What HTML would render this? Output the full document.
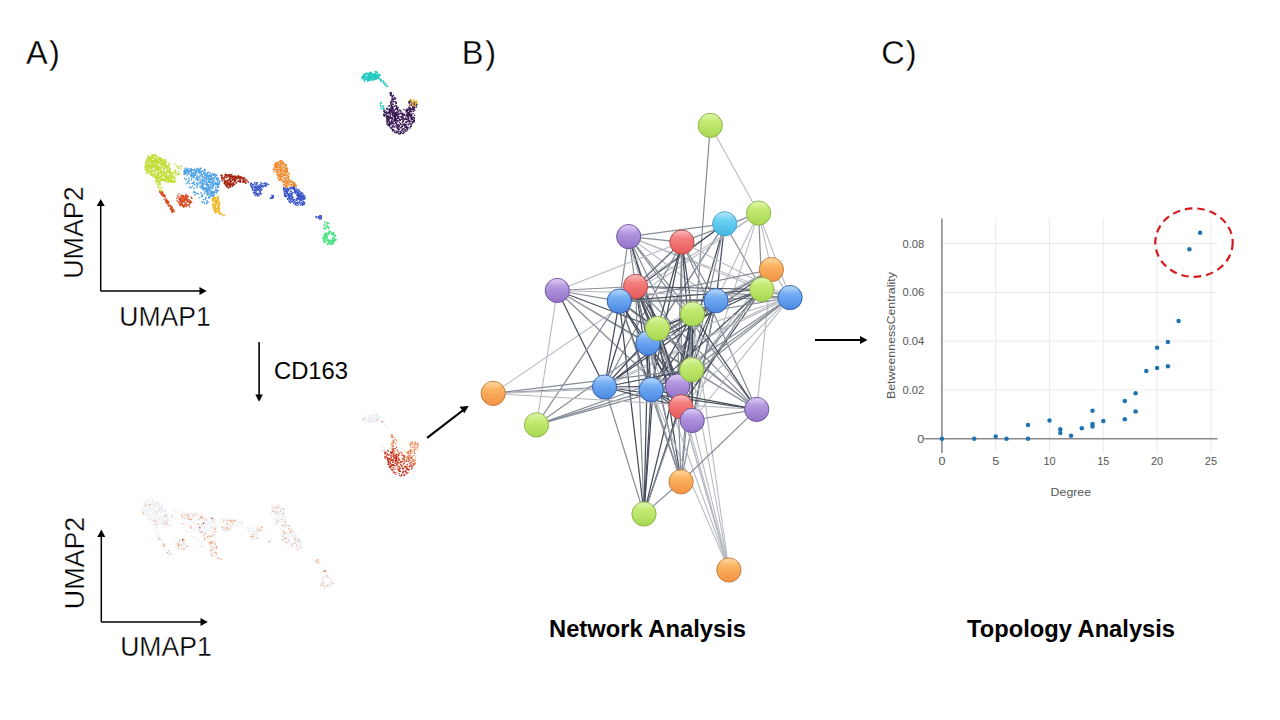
<!DOCTYPE html>
<html><head><meta charset="utf-8"><style>
html,body{margin:0;padding:0;background:#fff;width:1280px;height:720px;overflow:hidden}
svg{display:block}
text{font-family:"Liberation Sans", sans-serif}
</style></head><body>
<svg width="1280" height="720" viewBox="0 0 1280 720">
<defs><linearGradient id="gG" x1="0" y1="0" x2="0" y2="1"><stop offset="0" stop-color="#d0f286"/><stop offset="0.5" stop-color="#bde66a"/><stop offset="1" stop-color="#a8d852"/></linearGradient><linearGradient id="gC" x1="0" y1="0" x2="0" y2="1"><stop offset="0" stop-color="#8ee0f6"/><stop offset="0.5" stop-color="#60caee"/><stop offset="1" stop-color="#44b6e2"/></linearGradient><linearGradient id="gO" x1="0" y1="0" x2="0" y2="1"><stop offset="0" stop-color="#ffc878"/><stop offset="0.5" stop-color="#f9aa5a"/><stop offset="1" stop-color="#f39242"/></linearGradient><linearGradient id="gR" x1="0" y1="0" x2="0" y2="1"><stop offset="0" stop-color="#f99a9a"/><stop offset="0.5" stop-color="#f27474"/><stop offset="1" stop-color="#e85a5a"/></linearGradient><linearGradient id="gB" x1="0" y1="0" x2="0" y2="1"><stop offset="0" stop-color="#96c6f8"/><stop offset="0.5" stop-color="#6aa4f0"/><stop offset="1" stop-color="#4a88e0"/></linearGradient><linearGradient id="gP" x1="0" y1="0" x2="0" y2="1"><stop offset="0" stop-color="#ccb4ee"/><stop offset="0.5" stop-color="#ab8ed9"/><stop offset="1" stop-color="#9272c8"/></linearGradient><linearGradient id="hl" x1="0" y1="0" x2="0" y2="1"><stop offset="0" stop-color="#fff" stop-opacity="0.3"/><stop offset="1" stop-color="#fff" stop-opacity="0"/></linearGradient>
<filter id="soft" x="-5%" y="-5%" width="110%" height="110%"><feGaussianBlur stdDeviation="0.35"/></filter>
<filter id="soft2" x="-2%" y="-2%" width="104%" height="104%"><feGaussianBlur stdDeviation="0.45"/></filter>
<marker id="ah" viewBox="0 0 10 10" refX="9" refY="5" markerWidth="7" markerHeight="7" markerUnits="userSpaceOnUse" orient="auto"><path d="M0,0 L10,5 L0,10 z" fill="#000"/></marker>
</defs>
<rect width="1280" height="720" fill="#fff"/>
<text x="25.9" y="64" font-size="32.5" fill="#000" stroke="#fff" stroke-width="0.3">A<tspan dx="1.3">)</tspan></text>
<text x="461.8" y="64" font-size="32.5" fill="#000" stroke="#fff" stroke-width="0.3">B<tspan dx="1.8">)</tspan></text>
<text x="881.3" y="64" font-size="32.5" fill="#000" stroke="#fff" stroke-width="0.3">C<tspan dx="1">)</tspan></text>
<!-- UMAP axes top -->
<path d="M100.7,291.1 V205" stroke="#000" stroke-width="1.5" fill="none"/>
<path d="M96.7,206 L100.7,198.9 L104.7,206 z" fill="#000"/>
<path d="M100.7,291.1 H200" stroke="#000" stroke-width="1.5" fill="none"/>
<path d="M199.5,287.1 L206.7,291.1 L199.5,295.1 z" fill="#000"/>
<text x="119.3" y="325.6" font-size="28.5" fill="#000" stroke="#fff" stroke-width="0.35" textLength="91.5" lengthAdjust="spacingAndGlyphs">UMAP1</text>
<text transform="translate(82.5,278.8) rotate(-90)" font-size="28.5" fill="#000" stroke="#fff" stroke-width="0.35" textLength="92.5" lengthAdjust="spacingAndGlyphs">UMAP2</text>
<!-- UMAP axes bottom -->
<path d="M101.3,622.1 V536" stroke="#000" stroke-width="1.5" fill="none"/>
<path d="M97.3,537 L101.3,529.5 L105.3,537 z" fill="#000"/>
<path d="M101.3,622.1 H201" stroke="#000" stroke-width="1.5" fill="none"/>
<path d="M200.5,618.1 L207.8,622.1 L200.5,626.1 z" fill="#000"/>
<text x="120.2" y="655.9" font-size="28.5" fill="#000" stroke="#fff" stroke-width="0.35" textLength="91.5" lengthAdjust="spacingAndGlyphs">UMAP1</text>
<text transform="translate(83.9,609.2) rotate(-90)" font-size="28.5" fill="#000" stroke="#fff" stroke-width="0.35" textLength="92.5" lengthAdjust="spacingAndGlyphs">UMAP2</text>
<!-- CD163 arrow -->
<path d="M259.1,342 V395" stroke="#000" stroke-width="1.6" fill="none"/>
<path d="M255.3,394.5 L259.1,401.7 L262.9,394.5 z" fill="#000"/>
<text x="274" y="378.9" font-size="23" fill="#000" textLength="74" lengthAdjust="spacingAndGlyphs">CD163</text>
<!-- diagonal arrow -->
<path d="M427.1,437.9 L464,409.5" stroke="#000" stroke-width="2.2" fill="none"/>
<path d="M468.75,406 L459.5,406.8 L464.3,413.2 z" fill="#000"/>
<!-- right arrow -->
<path d="M815,340 H861" stroke="#000" stroke-width="2.2" fill="none"/>
<path d="M860,336.1 L867.5,340 L860,343.9 z" fill="#000"/>
<g id="umap-top" filter="url(#soft)"><g fill="#c0de36" opacity="1.0"><circle cx="155.2" cy="158.2" r="0.8"/><circle cx="161.9" cy="164.2" r="0.8"/><circle cx="146.8" cy="168.3" r="0.8"/><circle cx="146.2" cy="166.2" r="0.8"/><circle cx="158.4" cy="177.3" r="0.8"/><circle cx="148.9" cy="160.2" r="0.8"/><circle cx="164.8" cy="180.7" r="0.8"/><circle cx="163.2" cy="165.1" r="0.8"/><circle cx="149.5" cy="157.2" r="0.8"/><circle cx="154.7" cy="177.0" r="0.8"/><circle cx="150.7" cy="170.4" r="0.8"/><circle cx="165.1" cy="164.4" r="0.8"/><circle cx="146.9" cy="159.7" r="0.8"/><circle cx="166.4" cy="166.0" r="0.8"/><circle cx="154.9" cy="170.5" r="0.8"/><circle cx="159.3" cy="162.4" r="0.8"/><circle cx="170.0" cy="173.7" r="0.8"/><circle cx="152.7" cy="170.2" r="0.8"/><circle cx="161.5" cy="178.7" r="0.8"/><circle cx="158.2" cy="175.3" r="0.8"/><circle cx="149.8" cy="167.7" r="0.8"/><circle cx="169.1" cy="170.1" r="0.8"/><circle cx="166.9" cy="170.7" r="0.8"/><circle cx="163.3" cy="166.8" r="0.8"/><circle cx="171.5" cy="180.6" r="0.8"/><circle cx="159.9" cy="172.7" r="0.8"/><circle cx="146.9" cy="173.8" r="0.8"/><circle cx="157.2" cy="172.8" r="0.8"/><circle cx="145.7" cy="167.0" r="0.8"/><circle cx="150.3" cy="157.2" r="0.8"/><circle cx="149.1" cy="160.9" r="0.8"/><circle cx="157.3" cy="178.6" r="0.8"/><circle cx="147.5" cy="166.6" r="0.8"/><circle cx="162.3" cy="178.9" r="0.8"/><circle cx="170.8" cy="178.4" r="0.8"/><circle cx="153.8" cy="165.7" r="0.8"/><circle cx="150.6" cy="160.5" r="0.8"/><circle cx="152.4" cy="167.6" r="0.8"/><circle cx="163.6" cy="161.3" r="0.8"/><circle cx="156.6" cy="169.9" r="0.8"/><circle cx="161.2" cy="171.4" r="0.8"/><circle cx="173.3" cy="176.0" r="0.8"/><circle cx="172.5" cy="176.5" r="0.8"/><circle cx="157.4" cy="165.2" r="0.8"/><circle cx="148.3" cy="171.9" r="0.8"/><circle cx="151.6" cy="158.5" r="0.8"/><circle cx="155.7" cy="155.4" r="0.8"/><circle cx="148.2" cy="164.2" r="0.8"/><circle cx="152.9" cy="163.7" r="0.8"/><circle cx="156.5" cy="157.4" r="0.8"/><circle cx="171.7" cy="182.0" r="0.8"/><circle cx="159.7" cy="167.6" r="0.8"/><circle cx="147.7" cy="156.8" r="0.8"/><circle cx="155.8" cy="161.4" r="0.8"/><circle cx="161.6" cy="158.0" r="0.8"/><circle cx="172.2" cy="173.6" r="0.8"/><circle cx="153.2" cy="164.3" r="0.8"/><circle cx="161.8" cy="175.9" r="0.8"/><circle cx="155.4" cy="160.2" r="0.8"/><circle cx="170.6" cy="181.8" r="0.8"/><circle cx="171.9" cy="176.7" r="0.8"/><circle cx="170.8" cy="174.8" r="0.8"/><circle cx="152.1" cy="168.5" r="0.8"/><circle cx="145.9" cy="161.8" r="0.8"/><circle cx="153.2" cy="173.5" r="0.8"/><circle cx="174.5" cy="181.9" r="0.8"/><circle cx="151.9" cy="160.3" r="0.8"/><circle cx="151.2" cy="159.7" r="0.8"/><circle cx="164.7" cy="179.4" r="0.8"/><circle cx="165.6" cy="176.5" r="0.8"/><circle cx="147.7" cy="172.6" r="0.8"/><circle cx="173.7" cy="176.0" r="0.8"/><circle cx="168.6" cy="167.4" r="0.8"/><circle cx="155.5" cy="176.6" r="0.8"/><circle cx="149.0" cy="158.2" r="0.8"/><circle cx="173.5" cy="176.7" r="0.8"/><circle cx="156.0" cy="169.4" r="0.8"/><circle cx="161.6" cy="180.3" r="0.8"/><circle cx="158.7" cy="178.6" r="0.8"/><circle cx="152.9" cy="162.2" r="0.8"/><circle cx="152.6" cy="170.5" r="0.8"/><circle cx="153.2" cy="165.8" r="0.8"/><circle cx="156.1" cy="166.9" r="0.8"/><circle cx="163.4" cy="179.5" r="0.8"/><circle cx="160.8" cy="169.0" r="0.8"/><circle cx="158.9" cy="159.1" r="0.8"/><circle cx="150.4" cy="167.3" r="0.8"/><circle cx="167.8" cy="169.6" r="0.8"/><circle cx="155.3" cy="168.6" r="0.8"/><circle cx="162.5" cy="176.1" r="0.8"/><circle cx="148.3" cy="169.8" r="0.8"/><circle cx="152.8" cy="161.7" r="0.8"/><circle cx="169.3" cy="168.3" r="0.8"/><circle cx="162.7" cy="175.4" r="0.8"/><circle cx="164.3" cy="168.2" r="0.8"/><circle cx="161.1" cy="173.5" r="0.8"/><circle cx="159.2" cy="169.0" r="0.8"/><circle cx="160.1" cy="180.5" r="0.8"/><circle cx="167.0" cy="178.7" r="0.8"/><circle cx="162.6" cy="180.6" r="0.8"/><circle cx="148.8" cy="166.4" r="0.8"/><circle cx="147.3" cy="160.7" r="0.8"/><circle cx="147.3" cy="172.8" r="0.8"/><circle cx="169.7" cy="179.3" r="0.8"/><circle cx="149.9" cy="174.2" r="0.8"/><circle cx="172.8" cy="181.3" r="0.8"/><circle cx="157.5" cy="167.7" r="0.8"/><circle cx="150.1" cy="166.1" r="0.8"/><circle cx="161.2" cy="163.5" r="0.8"/><circle cx="151.2" cy="162.9" r="0.8"/><circle cx="162.5" cy="166.4" r="0.8"/><circle cx="145.6" cy="163.3" r="0.8"/><circle cx="164.7" cy="168.4" r="0.8"/><circle cx="169.8" cy="181.4" r="0.8"/><circle cx="148.3" cy="161.4" r="0.8"/><circle cx="153.5" cy="157.6" r="0.8"/><circle cx="158.3" cy="179.7" r="0.8"/><circle cx="163.0" cy="173.7" r="0.8"/><circle cx="166.7" cy="165.9" r="0.8"/><circle cx="165.0" cy="176.6" r="0.8"/><circle cx="159.3" cy="163.5" r="0.8"/><circle cx="162.4" cy="180.1" r="0.8"/><circle cx="153.4" cy="157.6" r="0.8"/><circle cx="161.6" cy="160.6" r="0.8"/><circle cx="148.4" cy="158.5" r="0.8"/><circle cx="146.6" cy="159.6" r="0.8"/><circle cx="154.8" cy="162.5" r="0.8"/><circle cx="160.8" cy="158.9" r="0.8"/><circle cx="168.1" cy="169.5" r="0.8"/><circle cx="151.0" cy="167.3" r="0.8"/><circle cx="160.6" cy="177.5" r="0.8"/><circle cx="157.4" cy="168.2" r="0.8"/><circle cx="166.7" cy="181.7" r="0.8"/><circle cx="155.8" cy="177.5" r="0.8"/><circle cx="167.3" cy="171.9" r="0.8"/><circle cx="157.7" cy="163.7" r="0.8"/><circle cx="153.1" cy="158.5" r="0.8"/><circle cx="172.4" cy="172.9" r="0.8"/><circle cx="153.9" cy="160.8" r="0.8"/><circle cx="154.2" cy="166.9" r="0.8"/><circle cx="150.0" cy="166.5" r="0.8"/><circle cx="154.8" cy="164.0" r="0.8"/><circle cx="160.0" cy="168.1" r="0.8"/><circle cx="151.3" cy="168.2" r="0.8"/><circle cx="147.8" cy="165.2" r="0.8"/><circle cx="154.6" cy="160.5" r="0.8"/><circle cx="163.4" cy="168.9" r="0.8"/><circle cx="168.6" cy="172.5" r="0.8"/><circle cx="167.6" cy="178.8" r="0.8"/><circle cx="157.3" cy="163.1" r="0.8"/><circle cx="167.8" cy="172.1" r="0.8"/><circle cx="168.1" cy="176.9" r="0.8"/><circle cx="149.4" cy="168.7" r="0.8"/><circle cx="160.9" cy="177.5" r="0.8"/><circle cx="170.3" cy="177.3" r="0.8"/><circle cx="163.4" cy="179.2" r="0.8"/><circle cx="166.5" cy="173.5" r="0.8"/><circle cx="152.2" cy="154.8" r="0.8"/><circle cx="149.2" cy="164.1" r="0.8"/><circle cx="162.6" cy="171.7" r="0.8"/><circle cx="164.7" cy="173.2" r="0.8"/><circle cx="170.1" cy="175.1" r="0.8"/><circle cx="160.8" cy="169.0" r="0.8"/><circle cx="147.3" cy="161.4" r="0.8"/><circle cx="168.3" cy="181.5" r="0.8"/><circle cx="160.6" cy="164.7" r="0.8"/><circle cx="160.1" cy="173.2" r="0.8"/><circle cx="169.2" cy="171.4" r="0.8"/><circle cx="149.6" cy="161.1" r="0.8"/><circle cx="146.9" cy="161.5" r="0.8"/><circle cx="166.2" cy="173.5" r="0.8"/><circle cx="166.3" cy="162.1" r="0.8"/><circle cx="161.3" cy="167.0" r="0.8"/><circle cx="159.7" cy="157.3" r="0.8"/><circle cx="175.8" cy="180.4" r="0.8"/><circle cx="145.6" cy="166.9" r="0.8"/><circle cx="170.8" cy="181.3" r="0.8"/><circle cx="159.2" cy="161.5" r="0.8"/><circle cx="151.6" cy="170.4" r="0.8"/><circle cx="149.5" cy="168.7" r="0.8"/><circle cx="172.9" cy="173.8" r="0.8"/><circle cx="145.1" cy="167.8" r="0.8"/><circle cx="159.2" cy="162.4" r="0.8"/><circle cx="149.4" cy="163.6" r="0.8"/><circle cx="155.0" cy="177.7" r="0.8"/><circle cx="156.7" cy="165.0" r="0.8"/><circle cx="156.4" cy="166.0" r="0.8"/><circle cx="153.7" cy="155.3" r="0.8"/><circle cx="152.9" cy="161.4" r="0.8"/><circle cx="161.1" cy="159.3" r="0.8"/><circle cx="172.9" cy="176.9" r="0.8"/><circle cx="164.9" cy="179.7" r="0.8"/><circle cx="168.1" cy="166.7" r="0.8"/><circle cx="168.7" cy="172.1" r="0.8"/><circle cx="154.0" cy="155.3" r="0.8"/><circle cx="159.9" cy="163.6" r="0.8"/><circle cx="154.4" cy="174.8" r="0.8"/><circle cx="165.7" cy="162.4" r="0.8"/><circle cx="162.6" cy="165.1" r="0.8"/><circle cx="150.3" cy="158.5" r="0.8"/><circle cx="160.7" cy="160.1" r="0.8"/><circle cx="173.5" cy="182.1" r="0.8"/><circle cx="159.2" cy="157.9" r="0.8"/><circle cx="151.1" cy="156.5" r="0.8"/><circle cx="155.8" cy="156.5" r="0.8"/><circle cx="152.5" cy="161.2" r="0.8"/><circle cx="162.9" cy="179.0" r="0.8"/><circle cx="168.6" cy="165.6" r="0.8"/><circle cx="158.0" cy="168.7" r="0.8"/><circle cx="156.9" cy="163.5" r="0.8"/><circle cx="147.0" cy="161.8" r="0.8"/><circle cx="160.9" cy="171.7" r="0.8"/><circle cx="153.5" cy="160.9" r="0.8"/><circle cx="157.6" cy="166.5" r="0.8"/><circle cx="175.0" cy="177.9" r="0.8"/><circle cx="171.0" cy="178.1" r="0.8"/><circle cx="148.4" cy="158.3" r="0.8"/><circle cx="161.5" cy="173.2" r="0.8"/><circle cx="165.4" cy="175.5" r="0.8"/><circle cx="159.4" cy="169.5" r="0.8"/><circle cx="165.3" cy="162.5" r="0.8"/><circle cx="149.0" cy="161.0" r="0.8"/><circle cx="165.0" cy="173.7" r="0.8"/><circle cx="148.5" cy="155.9" r="0.8"/><circle cx="161.5" cy="170.4" r="0.8"/><circle cx="157.2" cy="160.2" r="0.8"/><circle cx="154.5" cy="166.9" r="0.8"/><circle cx="152.4" cy="160.9" r="0.8"/><circle cx="154.7" cy="154.5" r="0.8"/><circle cx="160.7" cy="173.0" r="0.8"/><circle cx="158.2" cy="161.2" r="0.8"/><circle cx="166.0" cy="180.1" r="0.8"/><circle cx="152.1" cy="154.9" r="0.8"/><circle cx="155.6" cy="165.8" r="0.8"/><circle cx="170.1" cy="174.8" r="0.8"/><circle cx="160.9" cy="159.7" r="0.8"/><circle cx="152.0" cy="175.4" r="0.8"/><circle cx="160.6" cy="159.2" r="0.8"/><circle cx="152.0" cy="165.7" r="0.8"/><circle cx="166.0" cy="180.7" r="0.8"/><circle cx="149.6" cy="165.0" r="0.8"/><circle cx="146.9" cy="165.0" r="0.8"/><circle cx="173.3" cy="178.9" r="0.8"/><circle cx="168.1" cy="182.1" r="0.8"/><circle cx="165.9" cy="164.6" r="0.8"/><circle cx="156.8" cy="163.3" r="0.8"/><circle cx="153.8" cy="163.8" r="0.8"/><circle cx="156.2" cy="177.2" r="0.8"/><circle cx="146.6" cy="167.3" r="0.8"/><circle cx="151.1" cy="164.2" r="0.8"/><circle cx="157.9" cy="176.9" r="0.8"/><circle cx="168.5" cy="179.3" r="0.8"/><circle cx="155.7" cy="161.6" r="0.8"/><circle cx="153.3" cy="174.2" r="0.8"/><circle cx="155.0" cy="161.7" r="0.8"/><circle cx="152.4" cy="167.3" r="0.8"/><circle cx="175.1" cy="180.9" r="0.8"/><circle cx="157.2" cy="161.0" r="0.8"/><circle cx="158.5" cy="167.9" r="0.8"/><circle cx="170.3" cy="174.8" r="0.8"/><circle cx="170.9" cy="175.8" r="0.8"/><circle cx="164.1" cy="163.2" r="0.8"/><circle cx="155.1" cy="164.1" r="0.8"/><circle cx="151.2" cy="175.2" r="0.8"/><circle cx="152.8" cy="155.7" r="0.8"/><circle cx="146.1" cy="169.5" r="0.8"/><circle cx="172.8" cy="181.9" r="0.8"/><circle cx="153.3" cy="156.3" r="0.8"/><circle cx="148.0" cy="168.0" r="0.8"/><circle cx="167.4" cy="166.5" r="0.8"/><circle cx="152.4" cy="165.7" r="0.8"/><circle cx="164.5" cy="173.0" r="0.8"/><circle cx="168.6" cy="177.9" r="0.8"/><circle cx="162.9" cy="164.5" r="0.8"/><circle cx="152.8" cy="160.8" r="0.8"/><circle cx="163.2" cy="163.1" r="0.8"/><circle cx="161.0" cy="160.4" r="0.8"/><circle cx="170.5" cy="172.4" r="0.8"/><circle cx="160.0" cy="177.1" r="0.8"/><circle cx="171.5" cy="179.8" r="0.8"/><circle cx="146.3" cy="162.2" r="0.8"/><circle cx="148.8" cy="159.3" r="0.8"/><circle cx="153.2" cy="175.9" r="0.8"/><circle cx="163.8" cy="171.4" r="0.8"/><circle cx="151.9" cy="164.3" r="0.8"/><circle cx="149.5" cy="159.7" r="0.8"/><circle cx="153.0" cy="170.9" r="0.8"/><circle cx="165.5" cy="159.7" r="0.8"/><circle cx="154.8" cy="159.7" r="0.8"/><circle cx="170.1" cy="169.4" r="0.8"/><circle cx="157.5" cy="169.5" r="0.8"/><circle cx="150.2" cy="173.6" r="0.8"/><circle cx="157.9" cy="161.9" r="0.8"/><circle cx="154.8" cy="169.9" r="0.8"/><circle cx="156.3" cy="165.7" r="0.8"/><circle cx="172.2" cy="182.1" r="0.8"/><circle cx="156.5" cy="159.5" r="0.8"/><circle cx="158.3" cy="177.1" r="0.8"/><circle cx="157.8" cy="178.9" r="0.8"/><circle cx="159.5" cy="158.5" r="0.8"/><circle cx="145.5" cy="169.5" r="0.8"/><circle cx="165.2" cy="179.6" r="0.8"/><circle cx="147.8" cy="171.5" r="0.8"/><circle cx="156.7" cy="168.2" r="0.8"/><circle cx="149.6" cy="161.9" r="0.8"/><circle cx="161.4" cy="180.1" r="0.8"/><circle cx="148.4" cy="167.8" r="0.8"/><circle cx="170.4" cy="181.3" r="0.8"/><circle cx="151.2" cy="157.5" r="0.8"/><circle cx="174.7" cy="181.5" r="0.8"/><circle cx="157.7" cy="177.9" r="0.8"/><circle cx="151.9" cy="165.2" r="0.8"/><circle cx="161.3" cy="164.8" r="0.8"/><circle cx="148.9" cy="160.9" r="0.8"/><circle cx="167.8" cy="179.3" r="0.8"/><circle cx="146.3" cy="169.8" r="0.8"/><circle cx="163.9" cy="169.5" r="0.8"/><circle cx="164.8" cy="162.6" r="0.8"/><circle cx="158.2" cy="170.4" r="0.8"/><circle cx="158.4" cy="172.5" r="0.8"/><circle cx="159.1" cy="166.3" r="0.8"/><circle cx="160.4" cy="160.6" r="0.8"/><circle cx="169.1" cy="176.0" r="0.8"/><circle cx="159.4" cy="159.0" r="0.8"/><circle cx="149.0" cy="166.1" r="0.8"/><circle cx="147.9" cy="166.4" r="0.8"/><circle cx="168.1" cy="175.9" r="0.8"/><circle cx="160.9" cy="164.6" r="0.8"/><circle cx="172.0" cy="182.1" r="0.8"/><circle cx="168.1" cy="177.0" r="0.8"/><circle cx="169.8" cy="180.2" r="0.8"/><circle cx="147.1" cy="163.8" r="0.8"/><circle cx="160.8" cy="179.9" r="0.8"/><circle cx="151.6" cy="161.3" r="0.8"/><circle cx="160.9" cy="162.9" r="0.8"/><circle cx="166.4" cy="179.2" r="0.8"/><circle cx="148.6" cy="168.9" r="0.8"/><circle cx="165.0" cy="164.1" r="0.8"/><circle cx="163.3" cy="178.9" r="0.8"/><circle cx="164.8" cy="165.1" r="0.8"/><circle cx="156.3" cy="175.5" r="0.8"/><circle cx="158.9" cy="158.9" r="0.8"/><circle cx="163.5" cy="172.7" r="0.8"/><circle cx="164.4" cy="166.1" r="0.8"/><circle cx="161.1" cy="179.2" r="0.8"/><circle cx="149.2" cy="160.3" r="0.8"/><circle cx="148.4" cy="164.0" r="0.8"/><circle cx="152.1" cy="170.4" r="0.8"/><circle cx="163.6" cy="159.7" r="0.8"/><circle cx="164.7" cy="167.3" r="0.8"/><circle cx="152.7" cy="158.1" r="0.8"/><circle cx="148.0" cy="172.0" r="0.8"/><circle cx="172.4" cy="176.0" r="0.8"/><circle cx="157.7" cy="161.4" r="0.8"/><circle cx="162.7" cy="163.8" r="0.8"/><circle cx="165.3" cy="166.5" r="0.8"/><circle cx="146.4" cy="168.9" r="0.8"/><circle cx="157.8" cy="160.6" r="0.8"/><circle cx="145.4" cy="169.5" r="0.8"/><circle cx="151.3" cy="171.1" r="0.8"/><circle cx="161.0" cy="172.1" r="0.8"/><circle cx="154.7" cy="162.4" r="0.8"/><circle cx="169.7" cy="174.1" r="0.8"/><circle cx="168.5" cy="167.1" r="0.8"/><circle cx="168.4" cy="166.7" r="0.8"/><circle cx="152.1" cy="156.9" r="0.8"/><circle cx="152.3" cy="155.0" r="0.8"/><circle cx="155.6" cy="175.1" r="0.8"/><circle cx="166.9" cy="177.8" r="0.8"/><circle cx="162.4" cy="166.2" r="0.8"/><circle cx="169.8" cy="168.7" r="0.8"/><circle cx="153.4" cy="172.1" r="0.8"/><circle cx="153.2" cy="160.6" r="0.8"/><circle cx="168.4" cy="180.6" r="0.8"/><circle cx="168.5" cy="163.2" r="0.8"/><circle cx="164.9" cy="173.5" r="0.8"/><circle cx="166.0" cy="181.6" r="0.8"/><circle cx="159.8" cy="177.7" r="0.8"/><circle cx="167.0" cy="178.2" r="0.8"/><circle cx="158.8" cy="174.4" r="0.8"/><circle cx="163.0" cy="162.6" r="0.8"/><circle cx="151.7" cy="171.5" r="0.8"/><circle cx="155.9" cy="157.9" r="0.8"/><circle cx="166.8" cy="171.8" r="0.8"/><circle cx="167.0" cy="174.8" r="0.8"/><circle cx="147.1" cy="170.6" r="0.8"/><circle cx="156.4" cy="177.0" r="0.8"/><circle cx="170.8" cy="179.1" r="0.8"/><circle cx="173.8" cy="180.6" r="0.8"/><circle cx="148.4" cy="159.7" r="0.8"/><circle cx="171.7" cy="176.9" r="0.8"/><circle cx="165.0" cy="177.2" r="0.8"/><circle cx="164.9" cy="162.0" r="0.8"/><circle cx="148.1" cy="156.7" r="0.8"/><circle cx="155.1" cy="165.9" r="0.8"/><circle cx="153.9" cy="174.2" r="0.8"/><circle cx="156.6" cy="163.0" r="0.8"/><circle cx="146.0" cy="165.6" r="0.8"/><circle cx="158.7" cy="175.8" r="0.8"/><circle cx="155.9" cy="173.8" r="0.8"/><circle cx="161.9" cy="160.0" r="0.8"/><circle cx="169.0" cy="181.6" r="0.8"/><circle cx="145.1" cy="167.8" r="0.8"/><circle cx="160.5" cy="176.4" r="0.8"/><circle cx="150.8" cy="167.9" r="0.8"/><circle cx="155.9" cy="177.4" r="0.8"/><circle cx="153.9" cy="160.0" r="0.8"/><circle cx="167.0" cy="168.0" r="0.8"/><circle cx="148.5" cy="171.9" r="0.8"/><circle cx="167.0" cy="176.2" r="0.8"/><circle cx="164.8" cy="164.0" r="0.8"/><circle cx="157.6" cy="165.1" r="0.8"/><circle cx="151.5" cy="161.3" r="0.8"/><circle cx="156.9" cy="178.9" r="0.8"/><circle cx="152.4" cy="166.9" r="0.8"/><circle cx="161.7" cy="175.3" r="0.8"/><circle cx="168.7" cy="172.2" r="0.8"/><circle cx="156.0" cy="163.1" r="0.8"/><circle cx="165.9" cy="174.9" r="0.8"/><circle cx="150.3" cy="166.3" r="0.8"/><circle cx="169.4" cy="170.3" r="0.8"/><circle cx="149.0" cy="167.0" r="0.8"/><circle cx="151.0" cy="162.4" r="0.8"/><circle cx="167.1" cy="177.8" r="0.8"/><circle cx="149.9" cy="158.3" r="0.8"/><circle cx="152.8" cy="163.1" r="0.8"/><circle cx="161.4" cy="158.5" r="0.8"/><circle cx="155.3" cy="159.3" r="0.8"/><circle cx="148.2" cy="164.8" r="0.8"/><circle cx="168.1" cy="166.2" r="0.8"/><circle cx="151.2" cy="172.0" r="0.8"/><circle cx="148.4" cy="159.7" r="0.8"/><circle cx="157.6" cy="176.3" r="0.8"/><circle cx="166.8" cy="168.1" r="0.8"/><circle cx="164.9" cy="167.0" r="0.8"/><circle cx="149.5" cy="171.0" r="0.8"/><circle cx="157.7" cy="174.9" r="0.8"/><circle cx="163.1" cy="175.1" r="0.8"/><circle cx="158.3" cy="160.4" r="0.8"/><circle cx="167.7" cy="178.8" r="0.8"/><circle cx="169.4" cy="173.7" r="0.8"/><circle cx="171.9" cy="173.1" r="0.8"/><circle cx="165.2" cy="166.7" r="0.8"/><circle cx="154.9" cy="171.7" r="0.8"/><circle cx="148.1" cy="165.8" r="0.8"/><circle cx="169.6" cy="174.1" r="0.8"/><circle cx="164.8" cy="161.0" r="0.8"/><circle cx="158.3" cy="166.8" r="0.8"/><circle cx="164.6" cy="165.5" r="0.8"/><circle cx="166.3" cy="180.2" r="0.8"/><circle cx="150.8" cy="172.4" r="0.8"/><circle cx="169.5" cy="164.9" r="0.8"/><circle cx="146.2" cy="169.3" r="0.8"/><circle cx="148.2" cy="170.2" r="0.8"/><circle cx="162.0" cy="174.2" r="0.8"/><circle cx="161.1" cy="172.0" r="0.8"/><circle cx="151.6" cy="173.3" r="0.8"/><circle cx="157.4" cy="175.5" r="0.8"/><circle cx="156.2" cy="155.5" r="0.8"/><circle cx="153.6" cy="165.2" r="0.8"/><circle cx="145.4" cy="165.7" r="0.8"/><circle cx="158.2" cy="173.7" r="0.8"/><circle cx="156.1" cy="161.4" r="0.8"/><circle cx="152.1" cy="174.9" r="0.8"/><circle cx="157.3" cy="159.9" r="0.8"/><circle cx="170.5" cy="171.9" r="0.8"/><circle cx="159.8" cy="169.8" r="0.8"/><circle cx="156.1" cy="172.0" r="0.8"/><circle cx="170.8" cy="177.0" r="0.8"/><circle cx="159.7" cy="162.2" r="0.8"/><circle cx="156.8" cy="161.1" r="0.8"/><circle cx="158.4" cy="159.2" r="0.8"/><circle cx="153.9" cy="160.8" r="0.8"/><circle cx="154.5" cy="167.5" r="0.8"/><circle cx="158.5" cy="171.9" r="0.8"/><circle cx="165.8" cy="164.2" r="0.8"/><circle cx="174.3" cy="178.1" r="0.8"/><circle cx="173.5" cy="176.1" r="0.8"/><circle cx="165.7" cy="161.0" r="0.8"/><circle cx="148.2" cy="157.9" r="0.8"/><circle cx="152.4" cy="175.9" r="0.8"/><circle cx="155.9" cy="158.2" r="0.8"/><circle cx="173.5" cy="176.3" r="0.8"/><circle cx="164.2" cy="176.0" r="0.8"/><circle cx="166.1" cy="179.2" r="0.8"/><circle cx="169.8" cy="177.6" r="0.8"/><circle cx="151.2" cy="173.5" r="0.8"/><circle cx="161.7" cy="174.9" r="0.8"/><circle cx="158.8" cy="178.9" r="0.8"/><circle cx="162.5" cy="161.4" r="0.8"/><circle cx="152.4" cy="157.8" r="0.8"/><circle cx="159.7" cy="158.0" r="0.8"/><circle cx="160.5" cy="168.0" r="0.8"/><circle cx="162.0" cy="178.3" r="0.8"/><circle cx="159.7" cy="169.8" r="0.8"/><circle cx="166.0" cy="177.7" r="0.8"/><circle cx="156.8" cy="165.8" r="0.8"/><circle cx="165.1" cy="171.9" r="0.8"/><circle cx="145.9" cy="171.2" r="0.8"/><circle cx="166.5" cy="180.3" r="0.8"/><circle cx="161.1" cy="167.6" r="0.8"/><circle cx="167.6" cy="171.6" r="0.8"/><circle cx="155.7" cy="178.3" r="0.8"/><circle cx="156.5" cy="167.3" r="0.8"/><circle cx="161.6" cy="175.7" r="0.8"/><circle cx="151.6" cy="166.2" r="0.8"/><circle cx="158.3" cy="169.6" r="0.8"/><circle cx="160.9" cy="161.6" r="0.8"/><circle cx="165.6" cy="176.3" r="0.8"/><circle cx="155.4" cy="162.9" r="0.8"/><circle cx="154.4" cy="170.5" r="0.8"/><circle cx="165.0" cy="176.1" r="0.8"/><circle cx="146.6" cy="162.4" r="0.8"/><circle cx="165.7" cy="176.2" r="0.8"/><circle cx="164.4" cy="171.6" r="0.8"/><circle cx="166.9" cy="170.8" r="0.8"/><circle cx="166.0" cy="166.9" r="0.8"/><circle cx="169.4" cy="179.8" r="0.8"/><circle cx="165.7" cy="164.3" r="0.8"/><circle cx="170.9" cy="176.2" r="0.8"/><circle cx="162.7" cy="161.2" r="0.8"/><circle cx="154.5" cy="165.8" r="0.8"/><circle cx="155.0" cy="166.1" r="0.8"/><circle cx="165.2" cy="180.3" r="0.8"/><circle cx="146.7" cy="170.0" r="0.8"/><circle cx="170.5" cy="170.2" r="0.8"/><circle cx="145.4" cy="164.9" r="0.8"/><circle cx="163.6" cy="180.4" r="0.8"/><circle cx="158.0" cy="156.8" r="0.8"/><circle cx="165.3" cy="159.9" r="0.8"/><circle cx="167.5" cy="178.1" r="0.8"/><circle cx="164.8" cy="174.0" r="0.8"/><circle cx="159.5" cy="180.3" r="0.8"/><circle cx="154.8" cy="174.5" r="0.8"/><circle cx="156.6" cy="170.2" r="0.8"/><circle cx="158.8" cy="173.1" r="0.8"/></g><g fill="#c0de36" opacity="1.0"><circle cx="175.1" cy="171.4" r="0.8"/><circle cx="178.8" cy="168.4" r="0.8"/><circle cx="175.4" cy="173.2" r="0.8"/><circle cx="177.9" cy="166.8" r="0.8"/><circle cx="179.8" cy="173.8" r="0.8"/><circle cx="174.6" cy="170.9" r="0.8"/><circle cx="178.4" cy="167.0" r="0.8"/><circle cx="176.0" cy="174.5" r="0.8"/><circle cx="175.3" cy="171.9" r="0.8"/><circle cx="178.4" cy="174.6" r="0.8"/><circle cx="181.3" cy="166.7" r="0.8"/><circle cx="175.9" cy="170.6" r="0.8"/><circle cx="178.0" cy="166.6" r="0.8"/><circle cx="174.9" cy="164.1" r="0.8"/><circle cx="177.8" cy="173.4" r="0.8"/><circle cx="178.5" cy="171.8" r="0.8"/><circle cx="176.5" cy="165.7" r="0.8"/><circle cx="173.6" cy="172.8" r="0.8"/><circle cx="181.1" cy="169.0" r="0.8"/><circle cx="180.8" cy="166.0" r="0.8"/><circle cx="178.1" cy="174.7" r="0.8"/></g><g fill="#c0de36" opacity="1.0"><circle cx="158.8" cy="187.1" r="0.8"/><circle cx="156.5" cy="182.3" r="0.8"/><circle cx="157.9" cy="186.8" r="0.8"/><circle cx="158.2" cy="186.2" r="0.8"/><circle cx="156.2" cy="180.5" r="0.8"/><circle cx="159.8" cy="184.1" r="0.8"/><circle cx="159.5" cy="183.1" r="0.8"/><circle cx="161.6" cy="191.6" r="0.8"/><circle cx="157.0" cy="180.5" r="0.8"/><circle cx="156.6" cy="182.2" r="0.8"/><circle cx="155.7" cy="180.6" r="0.8"/><circle cx="159.5" cy="190.4" r="0.8"/><circle cx="159.8" cy="184.8" r="0.8"/><circle cx="160.1" cy="191.5" r="0.8"/><circle cx="160.4" cy="184.7" r="0.8"/><circle cx="158.6" cy="181.9" r="0.8"/><circle cx="162.7" cy="191.9" r="0.8"/><circle cx="156.8" cy="180.5" r="0.8"/><circle cx="157.0" cy="184.2" r="0.8"/><circle cx="162.2" cy="190.9" r="0.8"/><circle cx="161.3" cy="188.5" r="0.8"/><circle cx="160.2" cy="191.8" r="0.8"/><circle cx="161.0" cy="191.3" r="0.8"/><circle cx="160.4" cy="183.6" r="0.8"/><circle cx="159.7" cy="189.1" r="0.8"/><circle cx="157.1" cy="181.5" r="0.8"/><circle cx="158.9" cy="182.0" r="0.8"/><circle cx="156.9" cy="181.7" r="0.8"/><circle cx="161.9" cy="190.7" r="0.8"/><circle cx="161.7" cy="187.5" r="0.8"/><circle cx="158.6" cy="184.1" r="0.8"/><circle cx="160.0" cy="181.7" r="0.8"/><circle cx="156.8" cy="180.7" r="0.8"/></g><g fill="#d8461b" opacity="1.0"><circle cx="163.4" cy="195.4" r="0.8"/><circle cx="160.7" cy="192.9" r="0.8"/><circle cx="168.8" cy="201.8" r="0.8"/><circle cx="163.7" cy="195.5" r="0.8"/><circle cx="168.9" cy="206.4" r="0.8"/><circle cx="162.6" cy="192.4" r="0.8"/><circle cx="172.4" cy="209.8" r="0.8"/><circle cx="166.3" cy="202.2" r="0.8"/><circle cx="172.0" cy="209.9" r="0.8"/><circle cx="167.4" cy="202.6" r="0.8"/><circle cx="162.3" cy="193.2" r="0.8"/><circle cx="168.3" cy="202.4" r="0.8"/><circle cx="167.1" cy="201.9" r="0.8"/><circle cx="172.1" cy="211.4" r="0.8"/><circle cx="165.4" cy="200.2" r="0.8"/><circle cx="171.8" cy="210.9" r="0.8"/><circle cx="172.0" cy="209.5" r="0.8"/><circle cx="174.2" cy="211.4" r="0.8"/><circle cx="166.1" cy="202.0" r="0.8"/><circle cx="171.9" cy="210.3" r="0.8"/><circle cx="167.5" cy="200.5" r="0.8"/><circle cx="161.4" cy="193.9" r="0.8"/><circle cx="163.9" cy="196.3" r="0.8"/><circle cx="168.2" cy="205.2" r="0.8"/><circle cx="166.6" cy="202.9" r="0.8"/><circle cx="164.3" cy="196.3" r="0.8"/><circle cx="168.0" cy="201.7" r="0.8"/><circle cx="161.9" cy="192.5" r="0.8"/><circle cx="170.8" cy="207.2" r="0.8"/><circle cx="171.5" cy="206.4" r="0.8"/><circle cx="171.5" cy="210.0" r="0.8"/><circle cx="166.4" cy="201.0" r="0.8"/><circle cx="165.4" cy="198.0" r="0.8"/><circle cx="171.5" cy="209.5" r="0.8"/><circle cx="167.1" cy="200.7" r="0.8"/><circle cx="172.4" cy="209.3" r="0.8"/><circle cx="159.7" cy="192.0" r="0.8"/><circle cx="168.1" cy="201.8" r="0.8"/><circle cx="167.4" cy="202.3" r="0.8"/><circle cx="172.1" cy="212.6" r="0.8"/><circle cx="167.3" cy="202.0" r="0.8"/><circle cx="162.4" cy="195.0" r="0.8"/><circle cx="169.1" cy="204.1" r="0.8"/><circle cx="167.1" cy="203.1" r="0.8"/><circle cx="161.4" cy="194.4" r="0.8"/><circle cx="166.4" cy="199.4" r="0.8"/><circle cx="173.7" cy="209.6" r="0.8"/><circle cx="163.2" cy="194.8" r="0.8"/><circle cx="164.9" cy="196.3" r="0.8"/><circle cx="165.1" cy="196.4" r="0.8"/><circle cx="167.3" cy="202.8" r="0.8"/><circle cx="164.3" cy="195.9" r="0.8"/><circle cx="173.0" cy="209.8" r="0.8"/><circle cx="170.7" cy="206.5" r="0.8"/><circle cx="160.1" cy="191.9" r="0.8"/><circle cx="162.0" cy="195.3" r="0.8"/><circle cx="164.1" cy="199.3" r="0.8"/><circle cx="172.3" cy="207.9" r="0.8"/><circle cx="170.9" cy="209.1" r="0.8"/><circle cx="170.8" cy="209.1" r="0.8"/><circle cx="166.1" cy="202.2" r="0.8"/><circle cx="170.3" cy="208.6" r="0.8"/><circle cx="170.3" cy="205.6" r="0.8"/><circle cx="163.1" cy="196.3" r="0.8"/><circle cx="167.4" cy="200.7" r="0.8"/><circle cx="171.2" cy="209.1" r="0.8"/><circle cx="163.3" cy="194.0" r="0.8"/><circle cx="172.4" cy="211.2" r="0.8"/><circle cx="172.2" cy="207.2" r="0.8"/><circle cx="164.5" cy="195.0" r="0.8"/><circle cx="168.2" cy="204.7" r="0.8"/><circle cx="173.3" cy="211.6" r="0.8"/></g><g fill="#d8461b" opacity="1.0"><circle cx="184.4" cy="201.0" r="0.8"/><circle cx="180.0" cy="198.6" r="0.8"/><circle cx="185.6" cy="196.0" r="0.8"/><circle cx="186.9" cy="197.0" r="0.8"/><circle cx="183.8" cy="206.6" r="0.8"/><circle cx="183.7" cy="197.3" r="0.8"/><circle cx="188.9" cy="205.3" r="0.8"/><circle cx="188.2" cy="200.1" r="0.8"/><circle cx="181.7" cy="202.9" r="0.8"/><circle cx="184.7" cy="200.1" r="0.8"/><circle cx="182.4" cy="200.3" r="0.8"/><circle cx="186.7" cy="204.9" r="0.8"/><circle cx="181.8" cy="200.3" r="0.8"/><circle cx="185.3" cy="199.2" r="0.8"/><circle cx="182.2" cy="200.5" r="0.8"/><circle cx="190.5" cy="202.4" r="0.8"/><circle cx="186.8" cy="202.3" r="0.8"/><circle cx="181.9" cy="201.9" r="0.8"/><circle cx="190.4" cy="200.8" r="0.8"/><circle cx="186.4" cy="198.6" r="0.8"/><circle cx="182.5" cy="205.6" r="0.8"/><circle cx="186.8" cy="200.4" r="0.8"/><circle cx="179.1" cy="202.9" r="0.8"/><circle cx="182.8" cy="202.0" r="0.8"/><circle cx="183.4" cy="201.4" r="0.8"/><circle cx="185.3" cy="199.8" r="0.8"/><circle cx="189.6" cy="201.6" r="0.8"/><circle cx="181.3" cy="196.1" r="0.8"/><circle cx="184.9" cy="198.0" r="0.8"/><circle cx="184.4" cy="201.6" r="0.8"/><circle cx="180.9" cy="201.9" r="0.8"/><circle cx="179.5" cy="201.2" r="0.8"/><circle cx="185.6" cy="196.0" r="0.8"/><circle cx="183.3" cy="195.9" r="0.8"/><circle cx="183.7" cy="205.4" r="0.8"/><circle cx="185.2" cy="203.6" r="0.8"/><circle cx="187.8" cy="196.4" r="0.8"/><circle cx="183.1" cy="197.1" r="0.8"/><circle cx="190.5" cy="201.8" r="0.8"/><circle cx="188.1" cy="196.6" r="0.8"/><circle cx="181.1" cy="199.5" r="0.8"/><circle cx="178.2" cy="202.1" r="0.8"/><circle cx="180.8" cy="198.6" r="0.8"/><circle cx="187.2" cy="200.1" r="0.8"/><circle cx="189.6" cy="202.5" r="0.8"/><circle cx="189.3" cy="201.8" r="0.8"/><circle cx="180.2" cy="203.9" r="0.8"/><circle cx="182.4" cy="204.2" r="0.8"/><circle cx="186.8" cy="204.9" r="0.8"/><circle cx="179.6" cy="199.5" r="0.8"/><circle cx="185.8" cy="196.2" r="0.8"/><circle cx="185.1" cy="204.6" r="0.8"/><circle cx="186.8" cy="198.1" r="0.8"/><circle cx="180.5" cy="200.4" r="0.8"/><circle cx="188.9" cy="202.0" r="0.8"/><circle cx="179.4" cy="204.6" r="0.8"/><circle cx="180.4" cy="201.7" r="0.8"/><circle cx="181.8" cy="203.2" r="0.8"/><circle cx="183.0" cy="196.7" r="0.8"/><circle cx="189.4" cy="201.5" r="0.8"/><circle cx="187.0" cy="204.7" r="0.8"/><circle cx="182.5" cy="196.8" r="0.8"/><circle cx="184.5" cy="205.5" r="0.8"/><circle cx="180.4" cy="204.8" r="0.8"/><circle cx="186.8" cy="199.7" r="0.8"/><circle cx="184.2" cy="196.9" r="0.8"/><circle cx="189.0" cy="199.7" r="0.8"/><circle cx="189.3" cy="202.3" r="0.8"/><circle cx="179.0" cy="199.0" r="0.8"/><circle cx="180.8" cy="205.7" r="0.8"/><circle cx="185.7" cy="195.5" r="0.8"/><circle cx="180.2" cy="199.3" r="0.8"/><circle cx="184.1" cy="201.9" r="0.8"/><circle cx="183.0" cy="199.2" r="0.8"/><circle cx="184.0" cy="206.8" r="0.8"/><circle cx="186.7" cy="198.3" r="0.8"/><circle cx="181.6" cy="201.0" r="0.8"/><circle cx="181.4" cy="201.8" r="0.8"/><circle cx="184.9" cy="206.5" r="0.8"/><circle cx="185.3" cy="204.3" r="0.8"/><circle cx="189.3" cy="204.3" r="0.8"/><circle cx="186.2" cy="202.6" r="0.8"/><circle cx="182.7" cy="198.4" r="0.8"/><circle cx="188.3" cy="205.5" r="0.8"/><circle cx="190.2" cy="203.2" r="0.8"/><circle cx="182.0" cy="204.2" r="0.8"/><circle cx="187.6" cy="201.1" r="0.8"/></g><g fill="#d8461b" opacity="1.0"><circle cx="186.8" cy="198.6" r="0.8"/><circle cx="185.4" cy="199.5" r="0.8"/><circle cx="177.0" cy="198.4" r="0.8"/><circle cx="184.2" cy="198.9" r="0.8"/><circle cx="180.1" cy="196.8" r="0.8"/><circle cx="181.9" cy="195.2" r="0.8"/><circle cx="183.7" cy="200.1" r="0.8"/><circle cx="185.7" cy="197.8" r="0.8"/><circle cx="178.9" cy="194.1" r="0.8"/><circle cx="181.1" cy="197.9" r="0.8"/><circle cx="188.4" cy="201.8" r="0.8"/><circle cx="191.9" cy="198.4" r="0.8"/><circle cx="191.7" cy="202.3" r="0.8"/><circle cx="177.4" cy="195.9" r="0.8"/><circle cx="182.1" cy="205.4" r="0.8"/><circle cx="183.3" cy="206.9" r="0.8"/><circle cx="177.2" cy="200.8" r="0.8"/><circle cx="191.3" cy="197.4" r="0.8"/><circle cx="178.8" cy="197.3" r="0.8"/><circle cx="188.0" cy="196.5" r="0.8"/><circle cx="182.8" cy="196.2" r="0.8"/><circle cx="186.2" cy="206.8" r="0.8"/><circle cx="187.0" cy="196.1" r="0.8"/><circle cx="186.2" cy="194.3" r="0.8"/><circle cx="189.8" cy="207.0" r="0.8"/><circle cx="181.8" cy="195.2" r="0.8"/></g><g fill="#4da1e6" opacity="1.0"><circle cx="215.4" cy="187.3" r="0.8"/><circle cx="207.1" cy="180.2" r="0.8"/><circle cx="208.2" cy="178.1" r="0.8"/><circle cx="205.2" cy="175.6" r="0.8"/><circle cx="200.3" cy="168.2" r="0.8"/><circle cx="217.3" cy="185.0" r="0.8"/><circle cx="205.8" cy="189.9" r="0.8"/><circle cx="195.4" cy="170.7" r="0.8"/><circle cx="189.0" cy="172.2" r="0.8"/><circle cx="213.2" cy="180.7" r="0.8"/><circle cx="203.1" cy="185.7" r="0.8"/><circle cx="203.7" cy="187.8" r="0.8"/><circle cx="205.4" cy="177.9" r="0.8"/><circle cx="210.5" cy="175.7" r="0.8"/><circle cx="209.4" cy="191.1" r="0.8"/><circle cx="211.8" cy="177.2" r="0.8"/><circle cx="199.9" cy="176.3" r="0.8"/><circle cx="200.8" cy="187.8" r="0.8"/><circle cx="211.7" cy="178.9" r="0.8"/><circle cx="184.3" cy="171.9" r="0.8"/><circle cx="203.7" cy="173.3" r="0.8"/><circle cx="217.8" cy="179.0" r="0.8"/><circle cx="188.8" cy="173.2" r="0.8"/><circle cx="210.4" cy="195.9" r="0.8"/><circle cx="189.2" cy="168.7" r="0.8"/><circle cx="211.9" cy="175.2" r="0.8"/><circle cx="219.4" cy="183.0" r="0.8"/><circle cx="206.6" cy="178.3" r="0.8"/><circle cx="212.7" cy="181.8" r="0.8"/><circle cx="218.0" cy="186.9" r="0.8"/><circle cx="191.5" cy="175.5" r="0.8"/><circle cx="191.8" cy="174.0" r="0.8"/><circle cx="211.2" cy="187.4" r="0.8"/><circle cx="215.2" cy="176.0" r="0.8"/><circle cx="210.9" cy="192.9" r="0.8"/><circle cx="193.7" cy="177.9" r="0.8"/><circle cx="205.2" cy="181.6" r="0.8"/><circle cx="186.9" cy="172.9" r="0.8"/><circle cx="209.6" cy="194.7" r="0.8"/><circle cx="201.8" cy="174.9" r="0.8"/><circle cx="199.1" cy="171.0" r="0.8"/><circle cx="201.7" cy="171.2" r="0.8"/><circle cx="217.0" cy="178.5" r="0.8"/><circle cx="215.7" cy="190.1" r="0.8"/><circle cx="193.3" cy="173.2" r="0.8"/><circle cx="193.0" cy="169.9" r="0.8"/><circle cx="208.6" cy="187.7" r="0.8"/><circle cx="203.3" cy="184.5" r="0.8"/><circle cx="208.6" cy="197.8" r="0.8"/><circle cx="215.4" cy="189.7" r="0.8"/><circle cx="198.0" cy="177.5" r="0.8"/><circle cx="197.5" cy="179.6" r="0.8"/><circle cx="198.3" cy="172.2" r="0.8"/><circle cx="197.1" cy="175.1" r="0.8"/><circle cx="190.6" cy="171.3" r="0.8"/><circle cx="214.2" cy="191.7" r="0.8"/><circle cx="208.8" cy="177.7" r="0.8"/><circle cx="207.0" cy="184.5" r="0.8"/><circle cx="214.6" cy="183.4" r="0.8"/><circle cx="210.6" cy="179.4" r="0.8"/><circle cx="209.4" cy="179.8" r="0.8"/><circle cx="202.6" cy="186.5" r="0.8"/><circle cx="208.2" cy="177.6" r="0.8"/><circle cx="206.4" cy="184.4" r="0.8"/><circle cx="202.5" cy="182.3" r="0.8"/><circle cx="191.4" cy="172.1" r="0.8"/><circle cx="217.3" cy="183.9" r="0.8"/><circle cx="202.5" cy="183.9" r="0.8"/><circle cx="213.2" cy="175.1" r="0.8"/><circle cx="200.2" cy="187.3" r="0.8"/><circle cx="213.7" cy="195.1" r="0.8"/><circle cx="212.8" cy="183.7" r="0.8"/><circle cx="199.9" cy="170.5" r="0.8"/><circle cx="208.8" cy="181.5" r="0.8"/><circle cx="208.3" cy="179.0" r="0.8"/><circle cx="202.4" cy="175.0" r="0.8"/><circle cx="196.9" cy="178.2" r="0.8"/><circle cx="197.3" cy="168.3" r="0.8"/><circle cx="185.4" cy="173.2" r="0.8"/><circle cx="209.7" cy="176.2" r="0.8"/><circle cx="195.2" cy="175.2" r="0.8"/><circle cx="212.4" cy="186.6" r="0.8"/><circle cx="196.9" cy="169.1" r="0.8"/><circle cx="199.5" cy="179.0" r="0.8"/><circle cx="209.5" cy="176.8" r="0.8"/><circle cx="213.1" cy="178.5" r="0.8"/><circle cx="195.4" cy="170.0" r="0.8"/><circle cx="211.0" cy="179.4" r="0.8"/><circle cx="202.6" cy="182.9" r="0.8"/><circle cx="216.4" cy="190.9" r="0.8"/><circle cx="200.3" cy="181.9" r="0.8"/><circle cx="214.1" cy="180.5" r="0.8"/><circle cx="199.4" cy="182.8" r="0.8"/><circle cx="207.9" cy="190.4" r="0.8"/><circle cx="198.0" cy="169.0" r="0.8"/><circle cx="208.3" cy="184.7" r="0.8"/><circle cx="211.5" cy="191.3" r="0.8"/><circle cx="187.0" cy="170.5" r="0.8"/><circle cx="210.9" cy="185.0" r="0.8"/><circle cx="209.4" cy="182.5" r="0.8"/><circle cx="193.4" cy="175.8" r="0.8"/><circle cx="194.8" cy="175.6" r="0.8"/><circle cx="214.8" cy="184.7" r="0.8"/><circle cx="202.1" cy="180.6" r="0.8"/><circle cx="215.1" cy="192.3" r="0.8"/><circle cx="214.7" cy="175.6" r="0.8"/><circle cx="190.7" cy="169.4" r="0.8"/><circle cx="203.0" cy="179.2" r="0.8"/><circle cx="200.3" cy="182.7" r="0.8"/><circle cx="204.7" cy="179.0" r="0.8"/><circle cx="212.7" cy="173.9" r="0.8"/><circle cx="217.0" cy="184.8" r="0.8"/><circle cx="202.9" cy="180.3" r="0.8"/><circle cx="204.0" cy="177.7" r="0.8"/><circle cx="212.8" cy="185.9" r="0.8"/><circle cx="205.2" cy="173.3" r="0.8"/><circle cx="217.2" cy="184.9" r="0.8"/><circle cx="212.7" cy="183.0" r="0.8"/><circle cx="208.0" cy="188.4" r="0.8"/><circle cx="194.1" cy="174.2" r="0.8"/><circle cx="187.0" cy="170.7" r="0.8"/><circle cx="212.1" cy="196.8" r="0.8"/><circle cx="208.5" cy="172.5" r="0.8"/><circle cx="194.1" cy="174.9" r="0.8"/><circle cx="204.7" cy="177.5" r="0.8"/><circle cx="203.9" cy="172.5" r="0.8"/><circle cx="216.8" cy="177.7" r="0.8"/><circle cx="197.7" cy="168.8" r="0.8"/><circle cx="210.0" cy="180.9" r="0.8"/><circle cx="217.8" cy="183.9" r="0.8"/><circle cx="210.8" cy="182.9" r="0.8"/><circle cx="205.2" cy="184.3" r="0.8"/><circle cx="186.5" cy="172.1" r="0.8"/><circle cx="214.3" cy="174.7" r="0.8"/><circle cx="194.2" cy="169.9" r="0.8"/><circle cx="203.8" cy="170.7" r="0.8"/><circle cx="205.2" cy="181.9" r="0.8"/><circle cx="196.3" cy="179.2" r="0.8"/><circle cx="207.6" cy="172.8" r="0.8"/><circle cx="215.4" cy="182.4" r="0.8"/><circle cx="188.8" cy="170.7" r="0.8"/><circle cx="201.5" cy="184.1" r="0.8"/><circle cx="201.9" cy="179.0" r="0.8"/><circle cx="190.8" cy="171.7" r="0.8"/><circle cx="204.2" cy="188.8" r="0.8"/><circle cx="202.3" cy="176.7" r="0.8"/><circle cx="204.5" cy="174.9" r="0.8"/><circle cx="205.1" cy="191.7" r="0.8"/><circle cx="206.0" cy="188.9" r="0.8"/><circle cx="213.2" cy="178.2" r="0.8"/><circle cx="213.0" cy="181.9" r="0.8"/><circle cx="217.8" cy="180.4" r="0.8"/><circle cx="198.2" cy="170.5" r="0.8"/><circle cx="208.2" cy="172.4" r="0.8"/><circle cx="195.9" cy="172.1" r="0.8"/><circle cx="190.6" cy="174.5" r="0.8"/><circle cx="200.9" cy="183.0" r="0.8"/><circle cx="211.9" cy="195.5" r="0.8"/><circle cx="210.9" cy="187.2" r="0.8"/><circle cx="214.3" cy="191.8" r="0.8"/><circle cx="196.1" cy="172.7" r="0.8"/><circle cx="213.7" cy="196.4" r="0.8"/><circle cx="216.5" cy="190.5" r="0.8"/><circle cx="213.9" cy="192.3" r="0.8"/><circle cx="205.0" cy="181.1" r="0.8"/><circle cx="213.6" cy="191.7" r="0.8"/><circle cx="215.3" cy="176.9" r="0.8"/><circle cx="218.6" cy="184.0" r="0.8"/><circle cx="191.8" cy="173.8" r="0.8"/><circle cx="200.1" cy="175.0" r="0.8"/><circle cx="208.5" cy="189.5" r="0.8"/><circle cx="212.4" cy="188.6" r="0.8"/><circle cx="198.2" cy="170.5" r="0.8"/><circle cx="207.2" cy="193.3" r="0.8"/><circle cx="214.0" cy="192.0" r="0.8"/><circle cx="183.9" cy="171.2" r="0.8"/><circle cx="213.1" cy="180.6" r="0.8"/><circle cx="205.5" cy="181.8" r="0.8"/><circle cx="195.6" cy="174.3" r="0.8"/><circle cx="206.0" cy="176.7" r="0.8"/><circle cx="209.0" cy="181.3" r="0.8"/><circle cx="207.6" cy="192.4" r="0.8"/><circle cx="218.4" cy="178.9" r="0.8"/><circle cx="218.4" cy="183.3" r="0.8"/><circle cx="214.9" cy="183.5" r="0.8"/><circle cx="216.1" cy="188.1" r="0.8"/><circle cx="206.5" cy="179.3" r="0.8"/><circle cx="202.5" cy="188.4" r="0.8"/><circle cx="216.6" cy="183.0" r="0.8"/><circle cx="208.4" cy="184.8" r="0.8"/><circle cx="216.0" cy="190.0" r="0.8"/><circle cx="195.2" cy="172.0" r="0.8"/><circle cx="204.5" cy="169.2" r="0.8"/><circle cx="206.8" cy="176.4" r="0.8"/><circle cx="211.3" cy="176.7" r="0.8"/><circle cx="203.3" cy="180.6" r="0.8"/><circle cx="212.8" cy="188.4" r="0.8"/><circle cx="209.3" cy="188.9" r="0.8"/><circle cx="193.5" cy="172.7" r="0.8"/><circle cx="212.4" cy="178.4" r="0.8"/><circle cx="210.4" cy="173.0" r="0.8"/><circle cx="194.7" cy="169.4" r="0.8"/><circle cx="197.8" cy="179.6" r="0.8"/><circle cx="206.7" cy="191.5" r="0.8"/><circle cx="194.9" cy="172.4" r="0.8"/><circle cx="211.1" cy="182.1" r="0.8"/><circle cx="203.8" cy="188.3" r="0.8"/><circle cx="210.9" cy="176.2" r="0.8"/><circle cx="202.7" cy="176.6" r="0.8"/><circle cx="206.4" cy="175.7" r="0.8"/><circle cx="213.6" cy="185.1" r="0.8"/><circle cx="193.0" cy="175.2" r="0.8"/><circle cx="211.0" cy="188.5" r="0.8"/><circle cx="206.6" cy="188.9" r="0.8"/><circle cx="211.7" cy="179.8" r="0.8"/><circle cx="217.8" cy="190.4" r="0.8"/><circle cx="195.8" cy="179.8" r="0.8"/><circle cx="212.9" cy="178.5" r="0.8"/><circle cx="202.8" cy="183.7" r="0.8"/><circle cx="207.9" cy="195.3" r="0.8"/><circle cx="207.8" cy="185.4" r="0.8"/><circle cx="212.2" cy="193.4" r="0.8"/><circle cx="211.0" cy="183.1" r="0.8"/><circle cx="210.6" cy="192.8" r="0.8"/><circle cx="207.1" cy="194.6" r="0.8"/><circle cx="209.1" cy="186.5" r="0.8"/><circle cx="193.4" cy="169.9" r="0.8"/><circle cx="193.3" cy="174.3" r="0.8"/><circle cx="191.5" cy="170.7" r="0.8"/><circle cx="212.7" cy="178.8" r="0.8"/><circle cx="214.1" cy="177.7" r="0.8"/><circle cx="206.4" cy="178.2" r="0.8"/><circle cx="213.0" cy="184.2" r="0.8"/><circle cx="198.9" cy="169.7" r="0.8"/><circle cx="206.4" cy="189.9" r="0.8"/><circle cx="204.8" cy="180.0" r="0.8"/><circle cx="202.1" cy="185.8" r="0.8"/><circle cx="200.8" cy="171.9" r="0.8"/><circle cx="209.3" cy="181.7" r="0.8"/><circle cx="195.8" cy="173.6" r="0.8"/><circle cx="198.1" cy="176.4" r="0.8"/><circle cx="202.2" cy="181.2" r="0.8"/><circle cx="203.9" cy="189.2" r="0.8"/><circle cx="209.8" cy="189.7" r="0.8"/><circle cx="209.8" cy="187.0" r="0.8"/><circle cx="184.9" cy="173.1" r="0.8"/><circle cx="212.8" cy="181.7" r="0.8"/><circle cx="187.0" cy="171.1" r="0.8"/><circle cx="216.8" cy="192.0" r="0.8"/><circle cx="188.0" cy="171.1" r="0.8"/><circle cx="204.0" cy="183.3" r="0.8"/><circle cx="191.0" cy="175.5" r="0.8"/><circle cx="209.4" cy="196.6" r="0.8"/><circle cx="219.3" cy="181.1" r="0.8"/><circle cx="210.2" cy="179.5" r="0.8"/><circle cx="213.1" cy="193.5" r="0.8"/><circle cx="213.8" cy="191.8" r="0.8"/><circle cx="200.3" cy="169.1" r="0.8"/><circle cx="215.9" cy="184.1" r="0.8"/><circle cx="201.1" cy="187.3" r="0.8"/><circle cx="190.8" cy="175.2" r="0.8"/><circle cx="216.5" cy="179.5" r="0.8"/><circle cx="187.9" cy="173.9" r="0.8"/><circle cx="200.1" cy="185.7" r="0.8"/><circle cx="206.7" cy="189.4" r="0.8"/><circle cx="199.4" cy="169.9" r="0.8"/><circle cx="200.6" cy="180.0" r="0.8"/><circle cx="208.0" cy="189.6" r="0.8"/><circle cx="208.7" cy="182.2" r="0.8"/><circle cx="205.3" cy="169.7" r="0.8"/><circle cx="212.2" cy="192.9" r="0.8"/><circle cx="206.6" cy="190.4" r="0.8"/><circle cx="184.7" cy="170.7" r="0.8"/><circle cx="184.7" cy="169.3" r="0.8"/><circle cx="217.4" cy="187.3" r="0.8"/><circle cx="217.0" cy="175.8" r="0.8"/><circle cx="201.7" cy="186.7" r="0.8"/><circle cx="205.1" cy="192.2" r="0.8"/><circle cx="186.1" cy="169.5" r="0.8"/><circle cx="203.3" cy="176.7" r="0.8"/><circle cx="213.7" cy="192.6" r="0.8"/><circle cx="200.1" cy="171.5" r="0.8"/><circle cx="207.2" cy="174.1" r="0.8"/><circle cx="199.0" cy="171.2" r="0.8"/><circle cx="219.1" cy="184.5" r="0.8"/><circle cx="196.2" cy="170.7" r="0.8"/><circle cx="210.1" cy="193.7" r="0.8"/><circle cx="196.8" cy="177.0" r="0.8"/><circle cx="186.1" cy="171.3" r="0.8"/><circle cx="208.7" cy="186.1" r="0.8"/><circle cx="202.4" cy="181.7" r="0.8"/><circle cx="210.2" cy="192.1" r="0.8"/><circle cx="216.8" cy="193.3" r="0.8"/><circle cx="208.3" cy="193.7" r="0.8"/><circle cx="192.6" cy="177.0" r="0.8"/><circle cx="196.1" cy="177.7" r="0.8"/><circle cx="217.5" cy="191.1" r="0.8"/><circle cx="210.9" cy="176.2" r="0.8"/><circle cx="211.7" cy="194.9" r="0.8"/><circle cx="212.5" cy="184.0" r="0.8"/><circle cx="202.8" cy="187.6" r="0.8"/><circle cx="208.6" cy="197.3" r="0.8"/><circle cx="209.6" cy="198.0" r="0.8"/><circle cx="208.5" cy="188.9" r="0.8"/><circle cx="210.7" cy="190.8" r="0.8"/><circle cx="192.4" cy="175.6" r="0.8"/><circle cx="191.0" cy="175.7" r="0.8"/><circle cx="218.7" cy="187.4" r="0.8"/><circle cx="205.0" cy="187.8" r="0.8"/><circle cx="205.2" cy="189.0" r="0.8"/><circle cx="194.5" cy="169.8" r="0.8"/><circle cx="185.8" cy="168.2" r="0.8"/><circle cx="196.6" cy="172.1" r="0.8"/><circle cx="189.8" cy="170.9" r="0.8"/><circle cx="208.6" cy="181.4" r="0.8"/><circle cx="217.5" cy="178.2" r="0.8"/><circle cx="213.7" cy="174.7" r="0.8"/><circle cx="214.7" cy="192.3" r="0.8"/><circle cx="207.9" cy="176.3" r="0.8"/><circle cx="207.5" cy="185.7" r="0.8"/><circle cx="207.6" cy="173.3" r="0.8"/><circle cx="188.6" cy="170.8" r="0.8"/><circle cx="207.2" cy="185.2" r="0.8"/><circle cx="191.5" cy="169.8" r="0.8"/><circle cx="202.5" cy="171.2" r="0.8"/><circle cx="211.4" cy="174.6" r="0.8"/><circle cx="190.4" cy="174.5" r="0.8"/><circle cx="197.4" cy="178.9" r="0.8"/><circle cx="206.8" cy="182.2" r="0.8"/><circle cx="207.7" cy="193.3" r="0.8"/><circle cx="199.4" cy="171.3" r="0.8"/><circle cx="186.7" cy="171.4" r="0.8"/><circle cx="200.9" cy="173.1" r="0.8"/><circle cx="187.6" cy="169.9" r="0.8"/><circle cx="217.7" cy="184.7" r="0.8"/><circle cx="210.6" cy="185.0" r="0.8"/><circle cx="217.9" cy="183.8" r="0.8"/><circle cx="192.1" cy="173.0" r="0.8"/><circle cx="215.0" cy="174.3" r="0.8"/><circle cx="217.2" cy="181.9" r="0.8"/><circle cx="199.9" cy="177.5" r="0.8"/><circle cx="196.6" cy="171.5" r="0.8"/><circle cx="219.4" cy="182.5" r="0.8"/><circle cx="207.3" cy="183.5" r="0.8"/><circle cx="210.5" cy="184.2" r="0.8"/><circle cx="205.5" cy="187.7" r="0.8"/><circle cx="218.0" cy="190.4" r="0.8"/><circle cx="214.8" cy="179.0" r="0.8"/><circle cx="191.3" cy="168.9" r="0.8"/><circle cx="199.4" cy="172.1" r="0.8"/><circle cx="206.1" cy="174.4" r="0.8"/><circle cx="213.9" cy="174.0" r="0.8"/><circle cx="220.0" cy="181.7" r="0.8"/><circle cx="203.9" cy="189.5" r="0.8"/><circle cx="188.8" cy="172.0" r="0.8"/><circle cx="202.5" cy="185.5" r="0.8"/><circle cx="191.9" cy="172.9" r="0.8"/><circle cx="204.8" cy="181.6" r="0.8"/><circle cx="207.6" cy="194.0" r="0.8"/><circle cx="217.9" cy="180.2" r="0.8"/><circle cx="187.1" cy="168.3" r="0.8"/><circle cx="193.9" cy="176.6" r="0.8"/><circle cx="198.7" cy="183.9" r="0.8"/><circle cx="214.5" cy="192.4" r="0.8"/><circle cx="207.3" cy="183.4" r="0.8"/><circle cx="207.5" cy="185.7" r="0.8"/><circle cx="212.7" cy="195.2" r="0.8"/><circle cx="204.2" cy="173.3" r="0.8"/><circle cx="208.7" cy="175.6" r="0.8"/><circle cx="202.5" cy="188.5" r="0.8"/><circle cx="206.2" cy="182.2" r="0.8"/><circle cx="208.0" cy="192.2" r="0.8"/><circle cx="208.2" cy="189.4" r="0.8"/><circle cx="207.1" cy="173.3" r="0.8"/><circle cx="216.3" cy="174.9" r="0.8"/><circle cx="210.3" cy="178.8" r="0.8"/><circle cx="207.6" cy="191.2" r="0.8"/><circle cx="191.2" cy="175.9" r="0.8"/><circle cx="184.6" cy="171.9" r="0.8"/><circle cx="198.2" cy="180.6" r="0.8"/><circle cx="217.9" cy="185.4" r="0.8"/><circle cx="199.3" cy="173.2" r="0.8"/><circle cx="201.0" cy="168.3" r="0.8"/><circle cx="208.1" cy="172.7" r="0.8"/><circle cx="211.4" cy="193.3" r="0.8"/><circle cx="206.9" cy="187.2" r="0.8"/><circle cx="209.2" cy="197.3" r="0.8"/><circle cx="194.3" cy="175.6" r="0.8"/><circle cx="213.5" cy="186.1" r="0.8"/><circle cx="214.5" cy="194.5" r="0.8"/><circle cx="204.9" cy="173.8" r="0.8"/><circle cx="209.9" cy="176.1" r="0.8"/><circle cx="200.9" cy="175.7" r="0.8"/><circle cx="185.3" cy="170.4" r="0.8"/><circle cx="189.3" cy="170.6" r="0.8"/><circle cx="206.2" cy="189.0" r="0.8"/><circle cx="210.0" cy="178.2" r="0.8"/><circle cx="201.3" cy="173.5" r="0.8"/><circle cx="217.4" cy="184.9" r="0.8"/><circle cx="185.2" cy="172.5" r="0.8"/><circle cx="208.7" cy="179.5" r="0.8"/><circle cx="209.6" cy="174.8" r="0.8"/><circle cx="212.6" cy="192.3" r="0.8"/><circle cx="212.8" cy="191.9" r="0.8"/><circle cx="191.8" cy="170.6" r="0.8"/><circle cx="207.6" cy="185.0" r="0.8"/><circle cx="188.4" cy="173.7" r="0.8"/><circle cx="204.7" cy="171.1" r="0.8"/><circle cx="206.6" cy="175.1" r="0.8"/><circle cx="202.9" cy="189.9" r="0.8"/><circle cx="206.8" cy="188.9" r="0.8"/><circle cx="207.6" cy="175.8" r="0.8"/><circle cx="211.6" cy="193.0" r="0.8"/></g><g fill="#4da1e6" opacity="1.0"><circle cx="184.5" cy="173.6" r="0.8"/><circle cx="196.6" cy="183.6" r="0.8"/><circle cx="190.9" cy="187.3" r="0.8"/><circle cx="201.9" cy="196.7" r="0.8"/><circle cx="192.4" cy="186.3" r="0.8"/><circle cx="208.0" cy="201.9" r="0.8"/><circle cx="194.8" cy="192.4" r="0.8"/><circle cx="185.0" cy="174.3" r="0.8"/><circle cx="193.9" cy="182.8" r="0.8"/><circle cx="185.5" cy="179.8" r="0.8"/><circle cx="207.0" cy="200.9" r="0.8"/><circle cx="195.0" cy="194.9" r="0.8"/><circle cx="191.5" cy="179.9" r="0.8"/><circle cx="189.1" cy="187.0" r="0.8"/><circle cx="191.6" cy="178.0" r="0.8"/><circle cx="205.8" cy="198.2" r="0.8"/><circle cx="189.4" cy="183.7" r="0.8"/><circle cx="192.5" cy="183.3" r="0.8"/><circle cx="193.5" cy="192.3" r="0.8"/><circle cx="204.5" cy="203.7" r="0.8"/><circle cx="202.4" cy="196.2" r="0.8"/><circle cx="197.1" cy="182.8" r="0.8"/><circle cx="205.6" cy="199.1" r="0.8"/><circle cx="201.0" cy="192.9" r="0.8"/><circle cx="197.3" cy="186.6" r="0.8"/><circle cx="203.9" cy="199.8" r="0.8"/><circle cx="188.0" cy="182.9" r="0.8"/><circle cx="184.0" cy="174.2" r="0.8"/><circle cx="194.9" cy="184.9" r="0.8"/><circle cx="204.5" cy="202.5" r="0.8"/><circle cx="196.5" cy="187.5" r="0.8"/><circle cx="192.1" cy="183.6" r="0.8"/><circle cx="206.7" cy="203.8" r="0.8"/><circle cx="194.1" cy="184.2" r="0.8"/><circle cx="201.9" cy="201.8" r="0.8"/><circle cx="187.6" cy="181.7" r="0.8"/><circle cx="196.0" cy="193.4" r="0.8"/><circle cx="203.3" cy="199.8" r="0.8"/><circle cx="207.2" cy="202.6" r="0.8"/><circle cx="199.7" cy="197.7" r="0.8"/><circle cx="193.9" cy="191.3" r="0.8"/><circle cx="189.3" cy="180.8" r="0.8"/><circle cx="193.8" cy="188.4" r="0.8"/><circle cx="202.1" cy="195.9" r="0.8"/><circle cx="188.6" cy="180.2" r="0.8"/><circle cx="202.2" cy="196.0" r="0.8"/><circle cx="201.9" cy="194.7" r="0.8"/><circle cx="184.4" cy="174.2" r="0.8"/><circle cx="204.3" cy="193.7" r="0.8"/><circle cx="188.9" cy="178.4" r="0.8"/><circle cx="186.5" cy="179.0" r="0.8"/><circle cx="184.4" cy="178.2" r="0.8"/><circle cx="190.8" cy="188.1" r="0.8"/><circle cx="193.3" cy="183.3" r="0.8"/><circle cx="193.9" cy="183.3" r="0.8"/><circle cx="194.1" cy="181.5" r="0.8"/><circle cx="197.5" cy="193.2" r="0.8"/><circle cx="202.6" cy="202.4" r="0.8"/><circle cx="186.1" cy="183.7" r="0.8"/><circle cx="205.8" cy="197.3" r="0.8"/><circle cx="198.5" cy="193.7" r="0.8"/><circle cx="197.4" cy="184.9" r="0.8"/><circle cx="187.1" cy="175.7" r="0.8"/></g><g fill="#efb829" opacity="1.0"><circle cx="219.2" cy="209.8" r="0.8"/><circle cx="212.4" cy="201.3" r="0.8"/><circle cx="215.9" cy="204.4" r="0.8"/><circle cx="215.0" cy="211.4" r="0.8"/><circle cx="214.9" cy="205.0" r="0.8"/><circle cx="219.4" cy="206.9" r="0.8"/><circle cx="215.9" cy="201.5" r="0.8"/><circle cx="215.2" cy="206.4" r="0.8"/><circle cx="218.3" cy="200.2" r="0.8"/><circle cx="215.1" cy="202.5" r="0.8"/><circle cx="215.0" cy="211.8" r="0.8"/><circle cx="216.4" cy="200.5" r="0.8"/><circle cx="214.8" cy="210.1" r="0.8"/><circle cx="213.4" cy="207.8" r="0.8"/><circle cx="212.4" cy="199.0" r="0.8"/><circle cx="213.3" cy="199.6" r="0.8"/><circle cx="212.6" cy="200.3" r="0.8"/><circle cx="217.9" cy="208.3" r="0.8"/><circle cx="216.5" cy="211.9" r="0.8"/><circle cx="215.6" cy="199.0" r="0.8"/><circle cx="218.0" cy="210.8" r="0.8"/><circle cx="215.2" cy="197.2" r="0.8"/><circle cx="219.0" cy="208.9" r="0.8"/><circle cx="217.7" cy="206.8" r="0.8"/><circle cx="213.1" cy="198.5" r="0.8"/><circle cx="213.6" cy="206.4" r="0.8"/><circle cx="215.6" cy="202.5" r="0.8"/><circle cx="214.2" cy="199.7" r="0.8"/><circle cx="217.7" cy="198.7" r="0.8"/><circle cx="213.6" cy="198.3" r="0.8"/><circle cx="214.9" cy="208.6" r="0.8"/><circle cx="212.7" cy="205.0" r="0.8"/><circle cx="217.5" cy="196.2" r="0.8"/><circle cx="215.6" cy="209.6" r="0.8"/><circle cx="216.7" cy="203.6" r="0.8"/><circle cx="219.1" cy="206.2" r="0.8"/><circle cx="214.8" cy="202.6" r="0.8"/><circle cx="219.3" cy="205.5" r="0.8"/><circle cx="213.3" cy="198.7" r="0.8"/><circle cx="215.2" cy="207.8" r="0.8"/><circle cx="218.3" cy="204.7" r="0.8"/><circle cx="215.4" cy="207.4" r="0.8"/><circle cx="216.6" cy="208.5" r="0.8"/><circle cx="215.4" cy="212.6" r="0.8"/><circle cx="217.0" cy="201.2" r="0.8"/><circle cx="215.1" cy="200.4" r="0.8"/><circle cx="219.2" cy="209.6" r="0.8"/><circle cx="218.3" cy="210.1" r="0.8"/><circle cx="214.7" cy="209.0" r="0.8"/><circle cx="214.2" cy="206.4" r="0.8"/><circle cx="216.0" cy="200.5" r="0.8"/><circle cx="219.5" cy="209.0" r="0.8"/><circle cx="213.4" cy="209.1" r="0.8"/><circle cx="216.7" cy="211.7" r="0.8"/><circle cx="216.8" cy="203.2" r="0.8"/><circle cx="218.3" cy="197.4" r="0.8"/><circle cx="214.4" cy="197.6" r="0.8"/><circle cx="219.0" cy="203.4" r="0.8"/><circle cx="217.9" cy="200.1" r="0.8"/><circle cx="217.9" cy="207.1" r="0.8"/><circle cx="213.0" cy="204.3" r="0.8"/><circle cx="217.8" cy="199.4" r="0.8"/><circle cx="217.3" cy="200.5" r="0.8"/><circle cx="215.1" cy="211.9" r="0.8"/><circle cx="215.5" cy="205.7" r="0.8"/><circle cx="218.5" cy="209.0" r="0.8"/><circle cx="215.8" cy="210.9" r="0.8"/><circle cx="215.3" cy="212.4" r="0.8"/><circle cx="215.9" cy="197.7" r="0.8"/><circle cx="218.0" cy="198.2" r="0.8"/><circle cx="217.5" cy="196.5" r="0.8"/><circle cx="218.0" cy="197.9" r="0.8"/><circle cx="217.2" cy="202.3" r="0.8"/><circle cx="214.1" cy="210.0" r="0.8"/><circle cx="212.5" cy="204.1" r="0.8"/><circle cx="215.8" cy="203.9" r="0.8"/><circle cx="217.8" cy="208.5" r="0.8"/><circle cx="213.6" cy="198.0" r="0.8"/><circle cx="213.7" cy="204.5" r="0.8"/><circle cx="214.8" cy="198.5" r="0.8"/><circle cx="219.5" cy="204.0" r="0.8"/><circle cx="218.3" cy="200.0" r="0.8"/><circle cx="219.3" cy="206.4" r="0.8"/><circle cx="217.1" cy="205.0" r="0.8"/><circle cx="218.9" cy="203.5" r="0.8"/><circle cx="218.5" cy="207.7" r="0.8"/><circle cx="218.0" cy="199.7" r="0.8"/><circle cx="215.8" cy="210.2" r="0.8"/><circle cx="213.5" cy="207.7" r="0.8"/><circle cx="216.5" cy="202.8" r="0.8"/><circle cx="213.5" cy="198.0" r="0.8"/><circle cx="215.9" cy="204.3" r="0.8"/><circle cx="214.3" cy="202.1" r="0.8"/><circle cx="216.5" cy="209.1" r="0.8"/><circle cx="216.8" cy="198.5" r="0.8"/><circle cx="219.1" cy="202.1" r="0.8"/><circle cx="213.3" cy="205.9" r="0.8"/><circle cx="219.7" cy="202.4" r="0.8"/><circle cx="216.5" cy="201.2" r="0.8"/><circle cx="212.4" cy="199.2" r="0.8"/><circle cx="213.2" cy="200.6" r="0.8"/></g><g fill="#efb829" opacity="1.0"><circle cx="222.4" cy="214.5" r="0.8"/><circle cx="222.4" cy="214.3" r="0.8"/><circle cx="224.4" cy="215.4" r="0.8"/><circle cx="218.8" cy="211.1" r="0.8"/><circle cx="217.8" cy="211.2" r="0.8"/><circle cx="221.9" cy="214.5" r="0.8"/><circle cx="220.3" cy="214.3" r="0.8"/><circle cx="220.1" cy="212.7" r="0.8"/><circle cx="220.7" cy="214.0" r="0.8"/><circle cx="220.4" cy="212.5" r="0.8"/><circle cx="218.7" cy="211.2" r="0.8"/><circle cx="219.3" cy="212.6" r="0.8"/><circle cx="223.5" cy="215.7" r="0.8"/><circle cx="218.5" cy="213.2" r="0.8"/><circle cx="218.2" cy="210.7" r="0.8"/></g><g fill="#a52312" opacity="1.0"><circle cx="229.3" cy="178.1" r="0.8"/><circle cx="239.8" cy="177.5" r="0.8"/><circle cx="231.4" cy="184.0" r="0.8"/><circle cx="232.3" cy="176.6" r="0.8"/><circle cx="234.1" cy="177.1" r="0.8"/><circle cx="239.7" cy="181.3" r="0.8"/><circle cx="244.1" cy="178.5" r="0.8"/><circle cx="233.6" cy="176.4" r="0.8"/><circle cx="233.9" cy="176.2" r="0.8"/><circle cx="228.9" cy="175.1" r="0.8"/><circle cx="229.7" cy="184.1" r="0.8"/><circle cx="230.3" cy="184.3" r="0.8"/><circle cx="245.8" cy="183.3" r="0.8"/><circle cx="230.7" cy="183.7" r="0.8"/><circle cx="229.9" cy="186.6" r="0.8"/><circle cx="245.8" cy="182.6" r="0.8"/><circle cx="248.4" cy="182.3" r="0.8"/><circle cx="225.0" cy="181.6" r="0.8"/><circle cx="233.9" cy="179.1" r="0.8"/><circle cx="230.5" cy="181.5" r="0.8"/><circle cx="237.2" cy="177.5" r="0.8"/><circle cx="227.5" cy="181.4" r="0.8"/><circle cx="234.6" cy="180.2" r="0.8"/><circle cx="239.6" cy="177.0" r="0.8"/><circle cx="235.4" cy="178.2" r="0.8"/><circle cx="243.2" cy="181.6" r="0.8"/><circle cx="234.8" cy="179.6" r="0.8"/><circle cx="227.9" cy="180.0" r="0.8"/><circle cx="233.9" cy="184.6" r="0.8"/><circle cx="225.5" cy="180.7" r="0.8"/><circle cx="230.0" cy="178.7" r="0.8"/><circle cx="230.1" cy="184.9" r="0.8"/><circle cx="241.7" cy="177.3" r="0.8"/><circle cx="226.2" cy="185.3" r="0.8"/><circle cx="227.4" cy="175.2" r="0.8"/><circle cx="230.1" cy="174.8" r="0.8"/><circle cx="243.9" cy="177.6" r="0.8"/><circle cx="229.4" cy="175.9" r="0.8"/><circle cx="234.1" cy="179.5" r="0.8"/><circle cx="227.3" cy="181.2" r="0.8"/><circle cx="232.6" cy="180.3" r="0.8"/><circle cx="228.7" cy="187.9" r="0.8"/><circle cx="224.6" cy="176.6" r="0.8"/><circle cx="227.6" cy="187.2" r="0.8"/><circle cx="245.4" cy="179.0" r="0.8"/><circle cx="232.2" cy="177.1" r="0.8"/><circle cx="242.9" cy="179.6" r="0.8"/><circle cx="232.6" cy="179.9" r="0.8"/><circle cx="237.4" cy="177.9" r="0.8"/><circle cx="230.5" cy="185.0" r="0.8"/><circle cx="229.3" cy="183.8" r="0.8"/><circle cx="238.3" cy="177.0" r="0.8"/><circle cx="237.9" cy="178.5" r="0.8"/><circle cx="228.9" cy="174.9" r="0.8"/><circle cx="229.0" cy="183.4" r="0.8"/><circle cx="237.6" cy="181.5" r="0.8"/><circle cx="222.7" cy="177.4" r="0.8"/><circle cx="228.6" cy="180.2" r="0.8"/><circle cx="230.2" cy="186.9" r="0.8"/><circle cx="226.4" cy="186.3" r="0.8"/><circle cx="226.5" cy="182.6" r="0.8"/><circle cx="230.6" cy="174.9" r="0.8"/><circle cx="227.3" cy="185.2" r="0.8"/><circle cx="226.0" cy="183.1" r="0.8"/><circle cx="236.0" cy="179.8" r="0.8"/><circle cx="227.0" cy="184.9" r="0.8"/><circle cx="225.5" cy="174.4" r="0.8"/><circle cx="221.8" cy="175.7" r="0.8"/><circle cx="230.4" cy="180.4" r="0.8"/><circle cx="234.7" cy="178.4" r="0.8"/><circle cx="240.7" cy="181.6" r="0.8"/><circle cx="234.8" cy="181.3" r="0.8"/><circle cx="230.5" cy="186.4" r="0.8"/><circle cx="230.0" cy="179.1" r="0.8"/><circle cx="227.7" cy="175.6" r="0.8"/><circle cx="235.4" cy="179.0" r="0.8"/><circle cx="229.1" cy="186.1" r="0.8"/><circle cx="229.4" cy="180.2" r="0.8"/><circle cx="231.4" cy="176.7" r="0.8"/><circle cx="232.8" cy="180.0" r="0.8"/><circle cx="226.1" cy="185.4" r="0.8"/><circle cx="230.6" cy="184.6" r="0.8"/><circle cx="239.9" cy="181.3" r="0.8"/><circle cx="233.6" cy="177.1" r="0.8"/><circle cx="224.3" cy="183.4" r="0.8"/><circle cx="240.5" cy="178.0" r="0.8"/><circle cx="238.9" cy="176.3" r="0.8"/><circle cx="238.0" cy="176.8" r="0.8"/><circle cx="234.7" cy="178.8" r="0.8"/><circle cx="236.0" cy="176.3" r="0.8"/><circle cx="233.9" cy="183.0" r="0.8"/><circle cx="223.1" cy="178.7" r="0.8"/><circle cx="240.0" cy="182.0" r="0.8"/><circle cx="236.7" cy="177.5" r="0.8"/><circle cx="232.7" cy="185.9" r="0.8"/><circle cx="230.2" cy="180.6" r="0.8"/><circle cx="241.5" cy="178.1" r="0.8"/><circle cx="244.6" cy="181.6" r="0.8"/><circle cx="232.6" cy="185.9" r="0.8"/><circle cx="240.3" cy="181.8" r="0.8"/><circle cx="221.0" cy="175.4" r="0.8"/><circle cx="238.3" cy="176.1" r="0.8"/><circle cx="223.9" cy="178.5" r="0.8"/><circle cx="227.6" cy="187.2" r="0.8"/><circle cx="243.6" cy="178.3" r="0.8"/><circle cx="241.7" cy="177.6" r="0.8"/><circle cx="236.1" cy="182.9" r="0.8"/><circle cx="240.6" cy="180.8" r="0.8"/><circle cx="243.3" cy="180.7" r="0.8"/><circle cx="227.6" cy="184.8" r="0.8"/><circle cx="240.5" cy="179.9" r="0.8"/><circle cx="225.9" cy="177.4" r="0.8"/><circle cx="234.8" cy="181.4" r="0.8"/><circle cx="230.0" cy="177.3" r="0.8"/><circle cx="229.7" cy="184.6" r="0.8"/><circle cx="239.4" cy="180.0" r="0.8"/><circle cx="235.2" cy="176.5" r="0.8"/><circle cx="247.5" cy="181.0" r="0.8"/><circle cx="225.1" cy="184.4" r="0.8"/><circle cx="229.9" cy="185.7" r="0.8"/><circle cx="221.8" cy="178.2" r="0.8"/><circle cx="238.7" cy="181.1" r="0.8"/><circle cx="230.6" cy="182.4" r="0.8"/><circle cx="225.7" cy="180.5" r="0.8"/><circle cx="226.8" cy="185.9" r="0.8"/><circle cx="236.1" cy="182.8" r="0.8"/><circle cx="238.4" cy="176.1" r="0.8"/><circle cx="243.1" cy="178.5" r="0.8"/><circle cx="232.5" cy="183.8" r="0.8"/><circle cx="222.0" cy="180.1" r="0.8"/><circle cx="234.7" cy="176.5" r="0.8"/><circle cx="231.0" cy="176.5" r="0.8"/><circle cx="224.6" cy="182.4" r="0.8"/><circle cx="224.8" cy="181.0" r="0.8"/><circle cx="235.6" cy="180.5" r="0.8"/><circle cx="225.1" cy="174.9" r="0.8"/><circle cx="242.8" cy="182.3" r="0.8"/><circle cx="235.6" cy="177.4" r="0.8"/><circle cx="243.2" cy="178.7" r="0.8"/><circle cx="241.5" cy="177.6" r="0.8"/><circle cx="230.5" cy="181.1" r="0.8"/><circle cx="240.4" cy="176.5" r="0.8"/><circle cx="226.6" cy="175.6" r="0.8"/><circle cx="226.8" cy="175.6" r="0.8"/><circle cx="234.1" cy="177.9" r="0.8"/><circle cx="228.2" cy="180.8" r="0.8"/><circle cx="230.5" cy="185.4" r="0.8"/><circle cx="225.8" cy="174.5" r="0.8"/><circle cx="229.1" cy="175.9" r="0.8"/><circle cx="231.1" cy="178.7" r="0.8"/><circle cx="234.8" cy="180.5" r="0.8"/><circle cx="232.5" cy="185.1" r="0.8"/><circle cx="244.7" cy="181.0" r="0.8"/><circle cx="224.4" cy="180.0" r="0.8"/><circle cx="246.6" cy="180.1" r="0.8"/><circle cx="233.2" cy="182.4" r="0.8"/><circle cx="226.5" cy="182.1" r="0.8"/><circle cx="230.4" cy="186.6" r="0.8"/><circle cx="245.1" cy="180.9" r="0.8"/><circle cx="223.0" cy="178.6" r="0.8"/><circle cx="225.3" cy="183.3" r="0.8"/><circle cx="229.0" cy="182.7" r="0.8"/><circle cx="229.4" cy="176.2" r="0.8"/><circle cx="239.7" cy="178.4" r="0.8"/><circle cx="243.5" cy="178.6" r="0.8"/><circle cx="230.4" cy="176.9" r="0.8"/><circle cx="231.2" cy="181.4" r="0.8"/><circle cx="231.8" cy="176.1" r="0.8"/><circle cx="235.2" cy="178.6" r="0.8"/><circle cx="232.4" cy="177.6" r="0.8"/><circle cx="231.1" cy="184.9" r="0.8"/><circle cx="227.6" cy="175.9" r="0.8"/><circle cx="232.6" cy="185.0" r="0.8"/><circle cx="227.5" cy="176.5" r="0.8"/><circle cx="235.0" cy="180.3" r="0.8"/><circle cx="226.3" cy="182.2" r="0.8"/><circle cx="231.8" cy="174.9" r="0.8"/><circle cx="228.3" cy="182.5" r="0.8"/><circle cx="228.3" cy="184.4" r="0.8"/><circle cx="222.8" cy="181.0" r="0.8"/><circle cx="225.8" cy="175.5" r="0.8"/><circle cx="221.7" cy="177.1" r="0.8"/><circle cx="235.0" cy="176.3" r="0.8"/><circle cx="244.4" cy="180.2" r="0.8"/><circle cx="226.7" cy="177.7" r="0.8"/><circle cx="222.0" cy="175.3" r="0.8"/><circle cx="241.3" cy="178.3" r="0.8"/><circle cx="234.4" cy="177.0" r="0.8"/><circle cx="232.5" cy="178.3" r="0.8"/><circle cx="237.1" cy="178.6" r="0.8"/><circle cx="227.4" cy="183.3" r="0.8"/><circle cx="234.3" cy="177.6" r="0.8"/><circle cx="234.6" cy="184.4" r="0.8"/><circle cx="230.5" cy="180.1" r="0.8"/><circle cx="226.9" cy="185.7" r="0.8"/><circle cx="237.9" cy="177.2" r="0.8"/><circle cx="244.1" cy="182.2" r="0.8"/><circle cx="224.4" cy="178.0" r="0.8"/><circle cx="238.1" cy="177.1" r="0.8"/><circle cx="233.3" cy="184.3" r="0.8"/></g><g fill="#3a55c8" opacity="1.0"><circle cx="250.5" cy="185.3" r="0.8"/><circle cx="258.0" cy="187.8" r="0.8"/><circle cx="260.8" cy="189.8" r="0.8"/><circle cx="266.1" cy="185.9" r="0.8"/><circle cx="255.8" cy="187.7" r="0.8"/><circle cx="253.0" cy="184.8" r="0.8"/><circle cx="260.8" cy="185.5" r="0.8"/><circle cx="256.3" cy="184.0" r="0.8"/><circle cx="256.1" cy="194.4" r="0.8"/><circle cx="255.6" cy="186.3" r="0.8"/><circle cx="257.4" cy="182.8" r="0.8"/><circle cx="258.2" cy="187.9" r="0.8"/><circle cx="254.6" cy="182.9" r="0.8"/><circle cx="261.0" cy="189.6" r="0.8"/><circle cx="254.5" cy="186.6" r="0.8"/><circle cx="260.4" cy="193.9" r="0.8"/><circle cx="252.7" cy="190.1" r="0.8"/><circle cx="254.9" cy="188.1" r="0.8"/><circle cx="260.9" cy="193.4" r="0.8"/><circle cx="260.8" cy="187.1" r="0.8"/><circle cx="251.7" cy="187.2" r="0.8"/><circle cx="258.4" cy="189.0" r="0.8"/><circle cx="265.5" cy="186.1" r="0.8"/><circle cx="252.2" cy="184.5" r="0.8"/><circle cx="259.3" cy="187.2" r="0.8"/><circle cx="258.4" cy="193.6" r="0.8"/><circle cx="262.0" cy="185.0" r="0.8"/><circle cx="257.7" cy="195.9" r="0.8"/><circle cx="257.8" cy="194.4" r="0.8"/><circle cx="254.3" cy="186.8" r="0.8"/><circle cx="259.3" cy="188.1" r="0.8"/><circle cx="256.0" cy="191.0" r="0.8"/><circle cx="256.2" cy="182.8" r="0.8"/><circle cx="251.5" cy="183.4" r="0.8"/><circle cx="257.9" cy="194.2" r="0.8"/><circle cx="261.0" cy="182.8" r="0.8"/><circle cx="257.2" cy="186.2" r="0.8"/><circle cx="261.8" cy="183.5" r="0.8"/><circle cx="260.3" cy="187.8" r="0.8"/><circle cx="259.3" cy="188.2" r="0.8"/><circle cx="264.5" cy="183.2" r="0.8"/><circle cx="255.1" cy="195.4" r="0.8"/><circle cx="254.5" cy="190.6" r="0.8"/><circle cx="257.1" cy="186.7" r="0.8"/><circle cx="256.2" cy="190.1" r="0.8"/><circle cx="258.7" cy="190.3" r="0.8"/><circle cx="261.9" cy="189.2" r="0.8"/><circle cx="266.8" cy="183.4" r="0.8"/><circle cx="265.1" cy="183.0" r="0.8"/><circle cx="254.3" cy="187.9" r="0.8"/><circle cx="254.1" cy="192.4" r="0.8"/><circle cx="260.0" cy="191.0" r="0.8"/><circle cx="256.0" cy="190.8" r="0.8"/><circle cx="259.8" cy="188.0" r="0.8"/><circle cx="256.4" cy="193.8" r="0.8"/><circle cx="253.1" cy="190.4" r="0.8"/><circle cx="259.3" cy="195.6" r="0.8"/><circle cx="257.4" cy="190.2" r="0.8"/><circle cx="256.1" cy="184.8" r="0.8"/><circle cx="252.3" cy="186.8" r="0.8"/><circle cx="259.6" cy="184.6" r="0.8"/><circle cx="265.5" cy="185.8" r="0.8"/><circle cx="265.8" cy="184.0" r="0.8"/><circle cx="255.8" cy="192.1" r="0.8"/><circle cx="260.8" cy="186.4" r="0.8"/><circle cx="254.6" cy="190.1" r="0.8"/><circle cx="251.6" cy="186.5" r="0.8"/><circle cx="265.6" cy="184.8" r="0.8"/><circle cx="251.8" cy="187.5" r="0.8"/><circle cx="266.9" cy="184.8" r="0.8"/><circle cx="251.3" cy="186.0" r="0.8"/><circle cx="257.7" cy="188.8" r="0.8"/><circle cx="254.4" cy="193.6" r="0.8"/><circle cx="260.1" cy="192.3" r="0.8"/><circle cx="252.2" cy="188.0" r="0.8"/><circle cx="255.4" cy="186.5" r="0.8"/><circle cx="264.1" cy="185.6" r="0.8"/><circle cx="256.0" cy="186.5" r="0.8"/><circle cx="259.1" cy="187.9" r="0.8"/><circle cx="258.5" cy="190.5" r="0.8"/><circle cx="254.7" cy="184.0" r="0.8"/><circle cx="259.5" cy="193.3" r="0.8"/><circle cx="252.8" cy="188.6" r="0.8"/><circle cx="257.2" cy="194.3" r="0.8"/><circle cx="262.6" cy="186.9" r="0.8"/><circle cx="259.7" cy="186.6" r="0.8"/><circle cx="258.4" cy="189.1" r="0.8"/><circle cx="268.5" cy="184.5" r="0.8"/><circle cx="257.0" cy="194.1" r="0.8"/><circle cx="253.9" cy="193.1" r="0.8"/><circle cx="258.8" cy="188.3" r="0.8"/><circle cx="264.0" cy="183.8" r="0.8"/><circle cx="257.0" cy="188.4" r="0.8"/><circle cx="256.8" cy="184.1" r="0.8"/><circle cx="261.1" cy="188.8" r="0.8"/><circle cx="256.5" cy="188.4" r="0.8"/><circle cx="261.2" cy="190.1" r="0.8"/><circle cx="258.0" cy="186.1" r="0.8"/><circle cx="255.9" cy="189.5" r="0.8"/><circle cx="260.7" cy="185.5" r="0.8"/><circle cx="250.7" cy="184.8" r="0.8"/><circle cx="256.4" cy="193.5" r="0.8"/><circle cx="260.2" cy="190.0" r="0.8"/><circle cx="250.5" cy="183.5" r="0.8"/><circle cx="257.1" cy="195.4" r="0.8"/><circle cx="262.5" cy="185.7" r="0.8"/><circle cx="261.9" cy="186.5" r="0.8"/><circle cx="258.4" cy="185.8" r="0.8"/><circle cx="253.3" cy="185.1" r="0.8"/><circle cx="260.7" cy="185.2" r="0.8"/><circle cx="260.1" cy="191.5" r="0.8"/><circle cx="251.7" cy="187.2" r="0.8"/><circle cx="263.7" cy="186.8" r="0.8"/><circle cx="254.2" cy="192.4" r="0.8"/><circle cx="255.5" cy="192.7" r="0.8"/><circle cx="256.5" cy="193.2" r="0.8"/><circle cx="260.9" cy="193.9" r="0.8"/></g><g fill="#3a55c8" opacity="1.0"><circle cx="272.2" cy="196.7" r="0.8"/><circle cx="273.3" cy="196.4" r="0.8"/><circle cx="270.5" cy="198.4" r="0.8"/><circle cx="272.3" cy="198.3" r="0.8"/><circle cx="271.9" cy="195.2" r="0.8"/><circle cx="273.4" cy="196.0" r="0.8"/><circle cx="270.8" cy="197.9" r="0.8"/><circle cx="273.3" cy="197.8" r="0.8"/><circle cx="271.7" cy="198.2" r="0.8"/><circle cx="272.8" cy="195.9" r="0.8"/><circle cx="272.2" cy="197.6" r="0.8"/><circle cx="273.1" cy="195.9" r="0.8"/></g><g fill="#ef8a2e" opacity="1.0"><circle cx="280.7" cy="169.7" r="0.8"/><circle cx="275.6" cy="169.8" r="0.8"/><circle cx="276.8" cy="163.0" r="0.8"/><circle cx="279.3" cy="174.4" r="0.8"/><circle cx="286.6" cy="167.3" r="0.8"/><circle cx="295.8" cy="186.3" r="0.8"/><circle cx="273.6" cy="169.3" r="0.8"/><circle cx="280.9" cy="165.8" r="0.8"/><circle cx="283.5" cy="184.7" r="0.8"/><circle cx="280.6" cy="160.8" r="0.8"/><circle cx="278.3" cy="163.6" r="0.8"/><circle cx="282.0" cy="163.6" r="0.8"/><circle cx="277.6" cy="167.2" r="0.8"/><circle cx="287.0" cy="172.5" r="0.8"/><circle cx="280.5" cy="174.7" r="0.8"/><circle cx="284.6" cy="169.3" r="0.8"/><circle cx="295.2" cy="184.4" r="0.8"/><circle cx="278.9" cy="174.9" r="0.8"/><circle cx="285.1" cy="178.4" r="0.8"/><circle cx="277.9" cy="177.4" r="0.8"/><circle cx="274.3" cy="167.8" r="0.8"/><circle cx="276.1" cy="164.4" r="0.8"/><circle cx="285.8" cy="165.1" r="0.8"/><circle cx="288.1" cy="183.7" r="0.8"/><circle cx="276.3" cy="166.3" r="0.8"/><circle cx="286.2" cy="185.9" r="0.8"/><circle cx="280.8" cy="179.0" r="0.8"/><circle cx="283.0" cy="180.7" r="0.8"/><circle cx="282.4" cy="182.2" r="0.8"/><circle cx="284.5" cy="182.4" r="0.8"/><circle cx="280.4" cy="175.2" r="0.8"/><circle cx="290.0" cy="180.1" r="0.8"/><circle cx="287.4" cy="182.5" r="0.8"/><circle cx="279.8" cy="161.2" r="0.8"/><circle cx="278.3" cy="164.4" r="0.8"/><circle cx="285.0" cy="173.7" r="0.8"/><circle cx="276.7" cy="174.3" r="0.8"/><circle cx="279.6" cy="166.9" r="0.8"/><circle cx="284.2" cy="177.9" r="0.8"/><circle cx="286.8" cy="184.5" r="0.8"/><circle cx="285.4" cy="174.3" r="0.8"/><circle cx="273.7" cy="169.3" r="0.8"/><circle cx="280.7" cy="163.8" r="0.8"/><circle cx="290.6" cy="181.0" r="0.8"/><circle cx="280.4" cy="180.2" r="0.8"/><circle cx="278.2" cy="175.4" r="0.8"/><circle cx="287.4" cy="181.4" r="0.8"/><circle cx="277.3" cy="169.7" r="0.8"/><circle cx="292.8" cy="182.2" r="0.8"/><circle cx="278.3" cy="163.3" r="0.8"/><circle cx="290.5" cy="180.6" r="0.8"/><circle cx="288.7" cy="181.5" r="0.8"/><circle cx="285.5" cy="175.6" r="0.8"/><circle cx="288.8" cy="176.4" r="0.8"/><circle cx="285.0" cy="180.9" r="0.8"/><circle cx="283.4" cy="171.8" r="0.8"/><circle cx="283.5" cy="175.6" r="0.8"/><circle cx="281.9" cy="171.0" r="0.8"/><circle cx="283.4" cy="170.5" r="0.8"/><circle cx="282.7" cy="172.6" r="0.8"/><circle cx="287.3" cy="170.3" r="0.8"/><circle cx="294.0" cy="185.8" r="0.8"/><circle cx="280.1" cy="173.0" r="0.8"/><circle cx="281.0" cy="162.0" r="0.8"/><circle cx="294.5" cy="183.1" r="0.8"/><circle cx="279.0" cy="167.3" r="0.8"/><circle cx="289.8" cy="182.0" r="0.8"/><circle cx="284.4" cy="170.9" r="0.8"/><circle cx="293.8" cy="183.7" r="0.8"/><circle cx="284.2" cy="164.3" r="0.8"/><circle cx="289.1" cy="173.2" r="0.8"/><circle cx="294.4" cy="185.7" r="0.8"/><circle cx="287.2" cy="171.8" r="0.8"/><circle cx="278.7" cy="169.7" r="0.8"/><circle cx="286.9" cy="169.2" r="0.8"/><circle cx="283.7" cy="182.4" r="0.8"/><circle cx="283.0" cy="177.3" r="0.8"/><circle cx="286.6" cy="165.0" r="0.8"/><circle cx="280.6" cy="177.2" r="0.8"/><circle cx="279.3" cy="176.3" r="0.8"/><circle cx="277.0" cy="167.5" r="0.8"/><circle cx="283.7" cy="185.0" r="0.8"/><circle cx="277.2" cy="165.6" r="0.8"/><circle cx="276.4" cy="166.2" r="0.8"/><circle cx="281.2" cy="171.1" r="0.8"/><circle cx="284.6" cy="171.1" r="0.8"/><circle cx="291.6" cy="184.9" r="0.8"/><circle cx="285.8" cy="178.9" r="0.8"/><circle cx="282.3" cy="167.8" r="0.8"/><circle cx="281.8" cy="179.3" r="0.8"/><circle cx="284.2" cy="174.7" r="0.8"/><circle cx="278.2" cy="165.2" r="0.8"/><circle cx="281.3" cy="178.9" r="0.8"/><circle cx="274.9" cy="167.4" r="0.8"/><circle cx="286.3" cy="169.3" r="0.8"/><circle cx="279.2" cy="168.3" r="0.8"/><circle cx="279.9" cy="169.8" r="0.8"/><circle cx="292.0" cy="181.8" r="0.8"/><circle cx="289.8" cy="184.4" r="0.8"/><circle cx="274.4" cy="164.9" r="0.8"/><circle cx="279.4" cy="174.7" r="0.8"/><circle cx="283.5" cy="167.0" r="0.8"/><circle cx="281.4" cy="161.6" r="0.8"/><circle cx="275.7" cy="165.8" r="0.8"/><circle cx="292.4" cy="186.9" r="0.8"/><circle cx="288.5" cy="178.9" r="0.8"/><circle cx="280.0" cy="167.8" r="0.8"/><circle cx="281.6" cy="165.5" r="0.8"/><circle cx="279.2" cy="164.9" r="0.8"/><circle cx="288.2" cy="178.2" r="0.8"/><circle cx="285.4" cy="165.3" r="0.8"/><circle cx="277.4" cy="167.0" r="0.8"/><circle cx="285.5" cy="173.3" r="0.8"/><circle cx="286.4" cy="180.1" r="0.8"/><circle cx="273.7" cy="169.0" r="0.8"/><circle cx="289.6" cy="181.9" r="0.8"/><circle cx="283.0" cy="164.6" r="0.8"/><circle cx="276.5" cy="164.9" r="0.8"/><circle cx="282.8" cy="163.8" r="0.8"/><circle cx="282.4" cy="175.3" r="0.8"/><circle cx="286.4" cy="171.3" r="0.8"/><circle cx="293.8" cy="185.4" r="0.8"/><circle cx="276.1" cy="167.3" r="0.8"/><circle cx="280.9" cy="171.4" r="0.8"/><circle cx="290.0" cy="182.0" r="0.8"/><circle cx="292.2" cy="184.3" r="0.8"/><circle cx="280.8" cy="164.3" r="0.8"/><circle cx="282.1" cy="169.7" r="0.8"/><circle cx="284.2" cy="182.4" r="0.8"/><circle cx="281.4" cy="169.1" r="0.8"/><circle cx="285.5" cy="180.6" r="0.8"/><circle cx="286.5" cy="170.2" r="0.8"/><circle cx="275.3" cy="165.7" r="0.8"/><circle cx="286.4" cy="175.0" r="0.8"/><circle cx="283.0" cy="175.5" r="0.8"/><circle cx="275.7" cy="164.2" r="0.8"/><circle cx="285.9" cy="181.3" r="0.8"/><circle cx="277.0" cy="174.7" r="0.8"/><circle cx="282.7" cy="173.4" r="0.8"/><circle cx="280.5" cy="180.2" r="0.8"/><circle cx="284.8" cy="182.0" r="0.8"/><circle cx="286.6" cy="182.2" r="0.8"/><circle cx="285.8" cy="186.4" r="0.8"/><circle cx="281.3" cy="179.7" r="0.8"/><circle cx="280.9" cy="167.5" r="0.8"/><circle cx="283.9" cy="162.5" r="0.8"/><circle cx="286.5" cy="172.4" r="0.8"/><circle cx="280.6" cy="176.7" r="0.8"/><circle cx="276.2" cy="169.8" r="0.8"/><circle cx="276.3" cy="171.9" r="0.8"/><circle cx="279.8" cy="161.9" r="0.8"/><circle cx="285.8" cy="168.5" r="0.8"/><circle cx="287.5" cy="168.5" r="0.8"/><circle cx="284.3" cy="168.1" r="0.8"/><circle cx="293.7" cy="184.2" r="0.8"/><circle cx="293.5" cy="182.5" r="0.8"/><circle cx="284.9" cy="165.2" r="0.8"/><circle cx="279.7" cy="180.4" r="0.8"/><circle cx="273.4" cy="170.0" r="0.8"/><circle cx="281.6" cy="176.6" r="0.8"/><circle cx="281.1" cy="168.7" r="0.8"/><circle cx="287.3" cy="182.8" r="0.8"/><circle cx="290.7" cy="187.1" r="0.8"/><circle cx="286.0" cy="186.3" r="0.8"/><circle cx="286.6" cy="170.2" r="0.8"/><circle cx="287.0" cy="185.7" r="0.8"/><circle cx="295.7" cy="184.2" r="0.8"/><circle cx="282.0" cy="176.2" r="0.8"/><circle cx="278.9" cy="179.6" r="0.8"/><circle cx="276.7" cy="162.5" r="0.8"/><circle cx="284.2" cy="181.9" r="0.8"/><circle cx="296.3" cy="185.5" r="0.8"/><circle cx="285.9" cy="167.9" r="0.8"/><circle cx="285.6" cy="187.0" r="0.8"/><circle cx="286.5" cy="183.4" r="0.8"/><circle cx="277.7" cy="171.6" r="0.8"/><circle cx="287.3" cy="172.0" r="0.8"/><circle cx="293.7" cy="184.3" r="0.8"/><circle cx="281.9" cy="160.9" r="0.8"/><circle cx="283.5" cy="166.8" r="0.8"/><circle cx="287.2" cy="187.0" r="0.8"/><circle cx="278.3" cy="162.4" r="0.8"/><circle cx="278.6" cy="172.3" r="0.8"/><circle cx="280.8" cy="173.3" r="0.8"/><circle cx="277.1" cy="171.3" r="0.8"/><circle cx="284.0" cy="185.3" r="0.8"/><circle cx="284.5" cy="179.0" r="0.8"/><circle cx="287.7" cy="171.9" r="0.8"/><circle cx="277.7" cy="173.0" r="0.8"/><circle cx="286.3" cy="184.7" r="0.8"/><circle cx="281.1" cy="166.4" r="0.8"/><circle cx="288.2" cy="180.4" r="0.8"/><circle cx="279.2" cy="179.1" r="0.8"/><circle cx="288.8" cy="183.9" r="0.8"/><circle cx="278.1" cy="169.8" r="0.8"/><circle cx="280.6" cy="173.3" r="0.8"/><circle cx="274.2" cy="172.1" r="0.8"/><circle cx="288.0" cy="175.1" r="0.8"/><circle cx="280.4" cy="176.9" r="0.8"/><circle cx="285.7" cy="171.8" r="0.8"/><circle cx="295.1" cy="185.3" r="0.8"/><circle cx="281.4" cy="169.9" r="0.8"/><circle cx="292.5" cy="181.8" r="0.8"/><circle cx="293.3" cy="182.9" r="0.8"/><circle cx="285.5" cy="166.8" r="0.8"/><circle cx="291.6" cy="182.1" r="0.8"/><circle cx="287.1" cy="187.1" r="0.8"/><circle cx="291.7" cy="185.5" r="0.8"/><circle cx="281.0" cy="169.7" r="0.8"/><circle cx="283.6" cy="163.9" r="0.8"/><circle cx="283.1" cy="180.6" r="0.8"/><circle cx="290.0" cy="184.5" r="0.8"/><circle cx="283.0" cy="175.8" r="0.8"/><circle cx="275.1" cy="163.0" r="0.8"/><circle cx="280.7" cy="163.7" r="0.8"/><circle cx="278.7" cy="175.7" r="0.8"/><circle cx="282.7" cy="167.7" r="0.8"/><circle cx="288.3" cy="185.7" r="0.8"/><circle cx="277.4" cy="167.6" r="0.8"/><circle cx="280.5" cy="175.0" r="0.8"/><circle cx="284.7" cy="185.1" r="0.8"/><circle cx="287.0" cy="177.7" r="0.8"/><circle cx="287.2" cy="181.7" r="0.8"/><circle cx="276.3" cy="163.4" r="0.8"/><circle cx="278.6" cy="178.2" r="0.8"/><circle cx="279.4" cy="170.8" r="0.8"/><circle cx="279.5" cy="167.0" r="0.8"/><circle cx="281.0" cy="171.6" r="0.8"/><circle cx="281.8" cy="169.2" r="0.8"/><circle cx="285.2" cy="175.6" r="0.8"/><circle cx="276.1" cy="169.1" r="0.8"/><circle cx="288.0" cy="178.7" r="0.8"/><circle cx="288.2" cy="177.2" r="0.8"/><circle cx="282.3" cy="162.3" r="0.8"/><circle cx="293.8" cy="184.9" r="0.8"/><circle cx="277.4" cy="169.8" r="0.8"/><circle cx="292.7" cy="183.0" r="0.8"/><circle cx="279.5" cy="176.0" r="0.8"/><circle cx="282.3" cy="163.1" r="0.8"/><circle cx="276.5" cy="167.9" r="0.8"/><circle cx="288.5" cy="177.7" r="0.8"/><circle cx="285.7" cy="183.5" r="0.8"/><circle cx="286.0" cy="165.0" r="0.8"/><circle cx="279.0" cy="164.4" r="0.8"/><circle cx="275.1" cy="169.9" r="0.8"/><circle cx="275.4" cy="166.3" r="0.8"/><circle cx="287.3" cy="174.8" r="0.8"/><circle cx="286.7" cy="176.7" r="0.8"/><circle cx="279.0" cy="176.4" r="0.8"/><circle cx="285.9" cy="169.6" r="0.8"/><circle cx="283.3" cy="175.0" r="0.8"/><circle cx="293.2" cy="187.2" r="0.8"/><circle cx="286.8" cy="172.3" r="0.8"/><circle cx="284.9" cy="172.0" r="0.8"/><circle cx="289.2" cy="173.8" r="0.8"/><circle cx="281.8" cy="161.1" r="0.8"/><circle cx="284.4" cy="174.8" r="0.8"/><circle cx="280.6" cy="163.3" r="0.8"/><circle cx="277.4" cy="172.4" r="0.8"/><circle cx="281.6" cy="174.0" r="0.8"/></g><g fill="#3a55c8"><circle cx="289.3" cy="193.2" r="0.8"/><circle cx="290.1" cy="201.1" r="0.8"/><circle cx="294.0" cy="202.1" r="0.8"/><circle cx="287.6" cy="193.5" r="0.8"/><circle cx="291.9" cy="193.9" r="0.8"/><circle cx="301.5" cy="192.8" r="0.8"/><circle cx="291.3" cy="199.1" r="0.8"/><circle cx="291.2" cy="191.7" r="0.8"/><circle cx="289.0" cy="195.9" r="0.8"/><circle cx="284.7" cy="194.4" r="0.8"/><circle cx="300.5" cy="200.5" r="0.8"/><circle cx="302.8" cy="193.3" r="0.8"/><circle cx="301.2" cy="195.6" r="0.8"/><circle cx="302.9" cy="195.7" r="0.8"/><circle cx="288.7" cy="189.1" r="0.8"/><circle cx="294.1" cy="187.1" r="0.8"/><circle cx="295.8" cy="203.5" r="0.8"/><circle cx="286.4" cy="195.8" r="0.8"/><circle cx="293.4" cy="188.3" r="0.8"/><circle cx="299.1" cy="196.4" r="0.8"/><circle cx="296.6" cy="203.4" r="0.8"/><circle cx="304.3" cy="198.1" r="0.8"/><circle cx="286.7" cy="190.9" r="0.8"/><circle cx="286.1" cy="196.4" r="0.8"/><circle cx="293.5" cy="188.9" r="0.8"/><circle cx="299.0" cy="196.9" r="0.8"/><circle cx="303.9" cy="204.7" r="0.8"/><circle cx="291.7" cy="195.2" r="0.8"/><circle cx="288.7" cy="201.1" r="0.8"/><circle cx="302.8" cy="195.2" r="0.8"/><circle cx="285.3" cy="195.3" r="0.8"/><circle cx="294.5" cy="201.9" r="0.8"/><circle cx="287.1" cy="191.7" r="0.8"/><circle cx="299.7" cy="194.6" r="0.8"/><circle cx="284.1" cy="187.8" r="0.8"/><circle cx="284.7" cy="193.9" r="0.8"/><circle cx="292.9" cy="192.7" r="0.8"/><circle cx="301.5" cy="200.0" r="0.8"/><circle cx="285.7" cy="188.2" r="0.8"/><circle cx="284.2" cy="191.4" r="0.8"/><circle cx="297.2" cy="205.6" r="0.8"/><circle cx="304.6" cy="203.5" r="0.8"/><circle cx="300.0" cy="195.6" r="0.8"/><circle cx="305.2" cy="198.2" r="0.8"/><circle cx="285.6" cy="190.5" r="0.8"/><circle cx="296.9" cy="203.4" r="0.8"/><circle cx="303.0" cy="197.4" r="0.8"/><circle cx="296.5" cy="198.5" r="0.8"/><circle cx="300.2" cy="196.5" r="0.8"/><circle cx="285.5" cy="190.6" r="0.8"/><circle cx="285.4" cy="191.2" r="0.8"/><circle cx="300.8" cy="197.1" r="0.8"/><circle cx="296.0" cy="190.9" r="0.8"/><circle cx="295.6" cy="203.3" r="0.8"/><circle cx="291.2" cy="194.9" r="0.8"/><circle cx="297.2" cy="189.8" r="0.8"/><circle cx="296.0" cy="192.6" r="0.8"/><circle cx="293.6" cy="200.5" r="0.8"/><circle cx="290.0" cy="198.2" r="0.8"/><circle cx="301.3" cy="195.5" r="0.8"/><circle cx="297.0" cy="191.9" r="0.8"/><circle cx="288.7" cy="196.4" r="0.8"/><circle cx="294.9" cy="190.6" r="0.8"/><circle cx="300.1" cy="196.2" r="0.8"/><circle cx="290.9" cy="191.2" r="0.8"/><circle cx="301.7" cy="204.3" r="0.8"/><circle cx="298.1" cy="192.9" r="0.8"/><circle cx="292.8" cy="199.9" r="0.8"/><circle cx="286.6" cy="193.5" r="0.8"/><circle cx="300.5" cy="199.8" r="0.8"/><circle cx="296.1" cy="188.2" r="0.8"/><circle cx="287.8" cy="191.3" r="0.8"/><circle cx="295.8" cy="204.7" r="0.8"/><circle cx="295.4" cy="204.6" r="0.8"/><circle cx="289.3" cy="195.5" r="0.8"/><circle cx="303.9" cy="195.9" r="0.8"/><circle cx="287.4" cy="198.7" r="0.8"/><circle cx="303.7" cy="201.5" r="0.8"/><circle cx="298.6" cy="198.1" r="0.8"/><circle cx="297.5" cy="196.2" r="0.8"/><circle cx="301.6" cy="198.2" r="0.8"/><circle cx="284.0" cy="188.6" r="0.8"/><circle cx="303.2" cy="197.1" r="0.8"/><circle cx="303.6" cy="203.5" r="0.8"/><circle cx="297.4" cy="202.4" r="0.8"/><circle cx="285.0" cy="195.4" r="0.8"/><circle cx="301.1" cy="193.0" r="0.8"/><circle cx="304.3" cy="198.5" r="0.8"/><circle cx="295.8" cy="189.8" r="0.8"/><circle cx="290.4" cy="189.1" r="0.8"/><circle cx="293.3" cy="187.0" r="0.8"/><circle cx="297.6" cy="199.1" r="0.8"/><circle cx="303.2" cy="201.6" r="0.8"/><circle cx="294.0" cy="187.7" r="0.8"/><circle cx="298.7" cy="189.6" r="0.8"/><circle cx="304.9" cy="197.0" r="0.8"/><circle cx="303.1" cy="196.0" r="0.8"/><circle cx="290.3" cy="199.4" r="0.8"/><circle cx="298.8" cy="195.4" r="0.8"/><circle cx="289.1" cy="194.6" r="0.8"/><circle cx="298.9" cy="190.7" r="0.8"/><circle cx="286.5" cy="195.9" r="0.8"/><circle cx="289.8" cy="187.8" r="0.8"/><circle cx="293.8" cy="203.6" r="0.8"/><circle cx="298.7" cy="198.6" r="0.8"/><circle cx="293.8" cy="199.5" r="0.8"/><circle cx="294.6" cy="189.8" r="0.8"/><circle cx="298.8" cy="196.0" r="0.8"/><circle cx="291.6" cy="197.2" r="0.8"/><circle cx="303.2" cy="199.3" r="0.8"/><circle cx="297.5" cy="198.3" r="0.8"/><circle cx="299.5" cy="191.5" r="0.8"/><circle cx="301.6" cy="197.0" r="0.8"/><circle cx="299.9" cy="203.0" r="0.8"/><circle cx="288.7" cy="194.4" r="0.8"/><circle cx="291.1" cy="187.7" r="0.8"/><circle cx="302.5" cy="199.9" r="0.8"/><circle cx="291.0" cy="199.9" r="0.8"/><circle cx="288.8" cy="190.6" r="0.8"/><circle cx="297.9" cy="193.0" r="0.8"/><circle cx="303.9" cy="204.3" r="0.8"/><circle cx="294.5" cy="188.2" r="0.8"/><circle cx="291.0" cy="187.6" r="0.8"/><circle cx="300.0" cy="193.4" r="0.8"/><circle cx="304.2" cy="199.1" r="0.8"/><circle cx="291.7" cy="194.7" r="0.8"/><circle cx="302.4" cy="204.1" r="0.8"/><circle cx="300.4" cy="199.2" r="0.8"/><circle cx="291.1" cy="195.6" r="0.8"/><circle cx="295.5" cy="201.0" r="0.8"/><circle cx="304.6" cy="202.7" r="0.8"/><circle cx="300.6" cy="205.2" r="0.8"/><circle cx="299.0" cy="197.1" r="0.8"/><circle cx="301.4" cy="202.3" r="0.8"/><circle cx="297.0" cy="199.6" r="0.8"/><circle cx="287.0" cy="192.9" r="0.8"/><circle cx="300.4" cy="192.0" r="0.8"/><circle cx="284.4" cy="192.7" r="0.8"/><circle cx="291.0" cy="193.9" r="0.8"/><circle cx="302.1" cy="196.8" r="0.8"/><circle cx="297.1" cy="195.0" r="0.8"/><circle cx="289.2" cy="196.7" r="0.8"/><circle cx="293.7" cy="188.9" r="0.8"/><circle cx="286.3" cy="196.3" r="0.8"/><circle cx="300.8" cy="194.8" r="0.8"/><circle cx="286.3" cy="191.3" r="0.8"/><circle cx="292.4" cy="201.3" r="0.8"/><circle cx="292.0" cy="196.6" r="0.8"/><circle cx="287.2" cy="188.8" r="0.8"/><circle cx="295.2" cy="193.2" r="0.8"/><circle cx="298.1" cy="193.4" r="0.8"/><circle cx="292.7" cy="192.5" r="0.8"/><circle cx="294.9" cy="191.8" r="0.8"/><circle cx="297.9" cy="194.4" r="0.8"/><circle cx="298.8" cy="192.0" r="0.8"/><circle cx="293.2" cy="197.3" r="0.8"/><circle cx="299.0" cy="199.2" r="0.8"/><circle cx="292.6" cy="187.8" r="0.8"/><circle cx="285.5" cy="189.1" r="0.8"/><circle cx="287.1" cy="189.8" r="0.8"/><circle cx="297.8" cy="193.0" r="0.8"/><circle cx="288.5" cy="189.8" r="0.8"/><circle cx="295.9" cy="191.2" r="0.8"/><circle cx="301.1" cy="199.7" r="0.8"/><circle cx="292.6" cy="198.3" r="0.8"/><circle cx="297.6" cy="195.0" r="0.8"/><circle cx="285.0" cy="193.4" r="0.8"/><circle cx="300.3" cy="203.5" r="0.8"/><circle cx="291.3" cy="193.6" r="0.8"/><circle cx="294.4" cy="191.2" r="0.8"/><circle cx="287.7" cy="188.7" r="0.8"/><circle cx="298.3" cy="196.4" r="0.8"/><circle cx="302.5" cy="205.1" r="0.8"/><circle cx="302.5" cy="198.5" r="0.8"/><circle cx="296.8" cy="194.9" r="0.8"/><circle cx="292.5" cy="189.0" r="0.8"/><circle cx="295.2" cy="191.6" r="0.8"/><circle cx="295.8" cy="203.8" r="0.8"/><circle cx="289.6" cy="197.7" r="0.8"/><circle cx="287.7" cy="199.2" r="0.8"/><circle cx="295.4" cy="192.7" r="0.8"/><circle cx="284.8" cy="195.9" r="0.8"/><circle cx="294.7" cy="202.6" r="0.8"/><circle cx="287.5" cy="189.8" r="0.8"/><circle cx="289.8" cy="202.3" r="0.8"/><circle cx="288.2" cy="198.9" r="0.8"/><circle cx="283.7" cy="187.8" r="0.8"/><circle cx="298.8" cy="196.1" r="0.8"/><circle cx="285.5" cy="195.6" r="0.8"/><circle cx="294.3" cy="187.0" r="0.8"/><circle cx="302.7" cy="197.8" r="0.8"/><circle cx="290.7" cy="191.8" r="0.8"/><circle cx="301.8" cy="193.7" r="0.8"/><circle cx="283.5" cy="189.4" r="0.8"/><circle cx="297.6" cy="198.4" r="0.8"/><circle cx="304.4" cy="195.9" r="0.8"/><circle cx="301.6" cy="195.7" r="0.8"/><circle cx="287.8" cy="194.3" r="0.8"/><circle cx="296.8" cy="200.4" r="0.8"/><circle cx="298.2" cy="194.1" r="0.8"/><circle cx="302.9" cy="202.7" r="0.8"/><circle cx="300.0" cy="198.2" r="0.8"/><circle cx="290.5" cy="202.7" r="0.8"/><circle cx="298.1" cy="203.0" r="0.8"/><circle cx="300.9" cy="195.3" r="0.8"/><circle cx="291.8" cy="202.1" r="0.8"/><circle cx="288.0" cy="188.8" r="0.8"/><circle cx="299.8" cy="199.8" r="0.8"/><circle cx="292.2" cy="198.1" r="0.8"/><circle cx="298.4" cy="204.8" r="0.8"/><circle cx="300.0" cy="197.0" r="0.8"/><circle cx="290.9" cy="188.1" r="0.8"/><circle cx="302.6" cy="203.6" r="0.8"/><circle cx="301.0" cy="195.8" r="0.8"/><circle cx="290.5" cy="196.5" r="0.8"/><circle cx="299.2" cy="195.1" r="0.8"/><circle cx="291.7" cy="194.6" r="0.8"/><circle cx="288.0" cy="195.8" r="0.8"/><circle cx="298.7" cy="193.4" r="0.8"/><circle cx="297.8" cy="196.0" r="0.8"/><circle cx="289.4" cy="197.1" r="0.8"/><circle cx="284.4" cy="190.2" r="0.8"/><circle cx="289.1" cy="196.4" r="0.8"/><circle cx="286.9" cy="192.3" r="0.8"/><circle cx="303.2" cy="195.1" r="0.8"/><circle cx="288.2" cy="198.1" r="0.8"/><circle cx="285.5" cy="196.6" r="0.8"/><circle cx="295.2" cy="192.3" r="0.8"/><circle cx="299.6" cy="198.5" r="0.8"/><circle cx="303.3" cy="198.3" r="0.8"/><circle cx="287.1" cy="189.8" r="0.8"/><circle cx="298.7" cy="202.4" r="0.8"/><circle cx="284.4" cy="194.5" r="0.8"/><circle cx="289.3" cy="195.5" r="0.8"/><circle cx="302.5" cy="197.4" r="0.8"/><circle cx="299.6" cy="201.5" r="0.8"/><circle cx="289.2" cy="198.6" r="0.8"/><circle cx="291.4" cy="195.7" r="0.8"/><circle cx="294.8" cy="199.5" r="0.8"/><circle cx="286.6" cy="192.4" r="0.8"/><circle cx="285.8" cy="193.3" r="0.8"/><circle cx="284.9" cy="195.6" r="0.8"/><circle cx="290.7" cy="201.0" r="0.8"/><circle cx="303.5" cy="204.1" r="0.8"/><circle cx="286.8" cy="192.6" r="0.8"/><circle cx="287.9" cy="190.1" r="0.8"/><circle cx="296.7" cy="192.6" r="0.8"/><circle cx="300.1" cy="197.6" r="0.8"/><circle cx="301.9" cy="196.3" r="0.8"/><circle cx="297.1" cy="190.9" r="0.8"/><circle cx="298.5" cy="194.3" r="0.8"/></g><g fill="#3a55c8" opacity="1.0"><circle cx="320.1" cy="218.1" r="0.8"/><circle cx="316.0" cy="216.9" r="0.8"/><circle cx="319.4" cy="218.0" r="0.8"/><circle cx="320.0" cy="217.0" r="0.8"/><circle cx="318.3" cy="217.6" r="0.8"/><circle cx="320.2" cy="215.8" r="0.8"/><circle cx="318.6" cy="216.7" r="0.8"/><circle cx="319.1" cy="216.7" r="0.8"/><circle cx="316.4" cy="216.5" r="0.8"/><circle cx="321.3" cy="217.1" r="0.8"/><circle cx="321.2" cy="218.8" r="0.8"/><circle cx="316.9" cy="218.0" r="0.8"/><circle cx="319.4" cy="216.0" r="0.8"/><circle cx="318.6" cy="217.7" r="0.8"/><circle cx="319.7" cy="216.8" r="0.8"/><circle cx="321.4" cy="218.3" r="0.8"/><circle cx="321.2" cy="216.9" r="0.8"/><circle cx="320.0" cy="219.4" r="0.8"/><circle cx="321.2" cy="215.8" r="0.8"/></g><g fill="#46e07e" opacity="1.0"><circle cx="328.7" cy="223.2" r="0.8"/><circle cx="328.4" cy="227.2" r="0.8"/><circle cx="325.7" cy="229.1" r="0.8"/><circle cx="327.9" cy="227.0" r="0.8"/><circle cx="325.2" cy="225.5" r="0.8"/><circle cx="326.1" cy="222.9" r="0.8"/><circle cx="324.1" cy="228.6" r="0.8"/><circle cx="328.8" cy="227.3" r="0.8"/><circle cx="327.5" cy="225.6" r="0.8"/><circle cx="326.6" cy="227.0" r="0.8"/><circle cx="324.0" cy="228.4" r="0.8"/><circle cx="328.4" cy="228.8" r="0.8"/><circle cx="325.0" cy="225.1" r="0.8"/><circle cx="327.4" cy="222.7" r="0.8"/><circle cx="327.7" cy="223.9" r="0.8"/><circle cx="328.7" cy="228.1" r="0.8"/><circle cx="326.6" cy="227.2" r="0.8"/><circle cx="324.7" cy="222.1" r="0.8"/><circle cx="324.6" cy="227.7" r="0.8"/><circle cx="323.9" cy="225.3" r="0.8"/></g><g fill="#46e07e"><circle cx="328.8" cy="232.9" r="0.8"/><circle cx="332.9" cy="242.1" r="0.8"/><circle cx="327.0" cy="238.6" r="0.8"/><circle cx="327.9" cy="244.7" r="0.8"/><circle cx="326.9" cy="236.9" r="0.8"/><circle cx="327.0" cy="240.1" r="0.8"/><circle cx="334.8" cy="240.6" r="0.8"/><circle cx="332.6" cy="238.1" r="0.8"/><circle cx="330.9" cy="242.0" r="0.8"/><circle cx="333.3" cy="240.4" r="0.8"/><circle cx="323.5" cy="237.7" r="0.8"/><circle cx="326.3" cy="239.5" r="0.8"/><circle cx="334.9" cy="235.0" r="0.8"/><circle cx="326.4" cy="233.6" r="0.8"/><circle cx="327.6" cy="243.7" r="0.8"/><circle cx="329.5" cy="231.2" r="0.8"/><circle cx="326.1" cy="237.6" r="0.8"/><circle cx="332.0" cy="233.2" r="0.8"/><circle cx="324.3" cy="235.6" r="0.8"/><circle cx="333.7" cy="242.8" r="0.8"/><circle cx="323.9" cy="240.0" r="0.8"/><circle cx="324.6" cy="240.3" r="0.8"/><circle cx="331.9" cy="234.2" r="0.8"/><circle cx="329.2" cy="234.0" r="0.8"/><circle cx="334.6" cy="239.8" r="0.8"/><circle cx="332.1" cy="239.7" r="0.8"/><circle cx="333.4" cy="238.2" r="0.8"/><circle cx="333.0" cy="238.5" r="0.8"/><circle cx="326.4" cy="238.2" r="0.8"/><circle cx="329.8" cy="243.2" r="0.8"/><circle cx="332.5" cy="233.9" r="0.8"/><circle cx="329.6" cy="240.6" r="0.8"/><circle cx="334.8" cy="238.2" r="0.8"/><circle cx="333.4" cy="240.5" r="0.8"/><circle cx="324.3" cy="234.6" r="0.8"/><circle cx="326.9" cy="236.0" r="0.8"/><circle cx="327.7" cy="240.8" r="0.8"/><circle cx="331.3" cy="244.4" r="0.8"/><circle cx="327.8" cy="243.3" r="0.8"/><circle cx="333.7" cy="235.5" r="0.8"/><circle cx="324.6" cy="242.3" r="0.8"/><circle cx="329.0" cy="241.2" r="0.8"/><circle cx="333.2" cy="233.5" r="0.8"/><circle cx="325.4" cy="235.8" r="0.8"/><circle cx="325.0" cy="237.7" r="0.8"/><circle cx="324.4" cy="240.1" r="0.8"/><circle cx="328.3" cy="234.5" r="0.8"/><circle cx="333.0" cy="243.3" r="0.8"/><circle cx="326.7" cy="234.7" r="0.8"/><circle cx="332.2" cy="233.0" r="0.8"/><circle cx="335.9" cy="240.1" r="0.8"/><circle cx="330.2" cy="231.7" r="0.8"/><circle cx="326.5" cy="236.9" r="0.8"/><circle cx="330.8" cy="232.1" r="0.8"/><circle cx="333.8" cy="241.5" r="0.8"/><circle cx="325.1" cy="234.4" r="0.8"/><circle cx="323.1" cy="238.7" r="0.8"/><circle cx="333.5" cy="235.0" r="0.8"/><circle cx="324.5" cy="236.3" r="0.8"/><circle cx="333.5" cy="238.6" r="0.8"/><circle cx="333.6" cy="235.7" r="0.8"/><circle cx="332.6" cy="238.1" r="0.8"/><circle cx="333.1" cy="233.8" r="0.8"/><circle cx="326.5" cy="234.0" r="0.8"/><circle cx="334.3" cy="240.8" r="0.8"/><circle cx="324.7" cy="241.2" r="0.8"/><circle cx="323.1" cy="237.5" r="0.8"/><circle cx="326.1" cy="241.7" r="0.8"/><circle cx="332.5" cy="240.6" r="0.8"/><circle cx="331.4" cy="240.7" r="0.8"/><circle cx="335.0" cy="236.1" r="0.8"/><circle cx="329.8" cy="240.1" r="0.8"/><circle cx="335.4" cy="240.1" r="0.8"/><circle cx="329.7" cy="241.8" r="0.8"/><circle cx="329.4" cy="231.5" r="0.8"/><circle cx="327.2" cy="236.5" r="0.8"/><circle cx="325.7" cy="235.4" r="0.8"/><circle cx="332.9" cy="243.4" r="0.8"/><circle cx="328.9" cy="242.8" r="0.8"/><circle cx="324.3" cy="238.2" r="0.8"/><circle cx="332.9" cy="241.9" r="0.8"/><circle cx="327.9" cy="233.4" r="0.8"/><circle cx="335.9" cy="239.5" r="0.8"/><circle cx="324.2" cy="239.0" r="0.8"/><circle cx="328.2" cy="243.5" r="0.8"/><circle cx="331.8" cy="241.6" r="0.8"/><circle cx="330.5" cy="241.5" r="0.8"/><circle cx="332.3" cy="241.2" r="0.8"/><circle cx="331.8" cy="234.6" r="0.8"/><circle cx="329.3" cy="241.8" r="0.8"/><circle cx="331.4" cy="243.7" r="0.8"/><circle cx="323.8" cy="241.8" r="0.8"/><circle cx="330.0" cy="232.0" r="0.8"/><circle cx="328.4" cy="240.4" r="0.8"/><circle cx="329.6" cy="242.1" r="0.8"/><circle cx="335.6" cy="235.8" r="0.8"/><circle cx="325.5" cy="233.0" r="0.8"/><circle cx="325.6" cy="236.9" r="0.8"/><circle cx="332.4" cy="244.1" r="0.8"/><circle cx="330.3" cy="244.3" r="0.8"/><circle cx="328.5" cy="240.2" r="0.8"/><circle cx="333.8" cy="232.6" r="0.8"/><circle cx="326.7" cy="238.4" r="0.8"/><circle cx="329.8" cy="231.4" r="0.8"/><circle cx="324.1" cy="240.5" r="0.8"/><circle cx="328.2" cy="232.3" r="0.8"/></g><g fill="#22c9c1" opacity="1.0"><circle cx="370.5" cy="75.1" r="0.8"/><circle cx="376.0" cy="72.4" r="0.8"/><circle cx="371.6" cy="75.0" r="0.8"/><circle cx="372.8" cy="73.9" r="0.8"/><circle cx="369.7" cy="76.8" r="0.8"/><circle cx="368.7" cy="77.1" r="0.8"/><circle cx="363.4" cy="75.6" r="0.8"/><circle cx="379.8" cy="75.4" r="0.8"/><circle cx="371.0" cy="79.1" r="0.8"/><circle cx="376.6" cy="78.9" r="0.8"/><circle cx="368.7" cy="78.7" r="0.8"/><circle cx="365.4" cy="77.7" r="0.8"/><circle cx="365.0" cy="74.9" r="0.8"/><circle cx="375.2" cy="71.5" r="0.8"/><circle cx="373.0" cy="80.0" r="0.8"/><circle cx="378.9" cy="75.9" r="0.8"/><circle cx="376.0" cy="78.0" r="0.8"/><circle cx="375.9" cy="72.8" r="0.8"/><circle cx="363.3" cy="76.7" r="0.8"/><circle cx="372.8" cy="78.4" r="0.8"/><circle cx="365.1" cy="77.2" r="0.8"/><circle cx="374.0" cy="75.9" r="0.8"/><circle cx="369.4" cy="76.1" r="0.8"/><circle cx="366.9" cy="73.1" r="0.8"/><circle cx="378.2" cy="75.0" r="0.8"/><circle cx="377.7" cy="77.1" r="0.8"/><circle cx="374.7" cy="75.9" r="0.8"/><circle cx="366.2" cy="77.1" r="0.8"/><circle cx="367.5" cy="79.9" r="0.8"/><circle cx="362.6" cy="77.9" r="0.8"/><circle cx="368.0" cy="75.6" r="0.8"/><circle cx="371.4" cy="77.1" r="0.8"/><circle cx="365.4" cy="79.5" r="0.8"/><circle cx="370.6" cy="79.2" r="0.8"/><circle cx="374.4" cy="77.0" r="0.8"/><circle cx="364.2" cy="76.0" r="0.8"/><circle cx="379.6" cy="75.2" r="0.8"/><circle cx="364.3" cy="75.8" r="0.8"/><circle cx="362.9" cy="77.6" r="0.8"/><circle cx="366.0" cy="73.5" r="0.8"/><circle cx="362.0" cy="78.7" r="0.8"/><circle cx="372.4" cy="76.3" r="0.8"/><circle cx="368.2" cy="76.7" r="0.8"/><circle cx="368.0" cy="80.1" r="0.8"/><circle cx="370.8" cy="76.5" r="0.8"/><circle cx="377.2" cy="72.5" r="0.8"/><circle cx="370.7" cy="76.0" r="0.8"/><circle cx="369.2" cy="76.4" r="0.8"/><circle cx="363.7" cy="79.1" r="0.8"/><circle cx="371.2" cy="73.0" r="0.8"/><circle cx="365.3" cy="76.2" r="0.8"/><circle cx="366.7" cy="79.5" r="0.8"/><circle cx="367.9" cy="81.0" r="0.8"/><circle cx="367.4" cy="80.1" r="0.8"/><circle cx="363.7" cy="78.3" r="0.8"/><circle cx="376.5" cy="71.8" r="0.8"/><circle cx="370.6" cy="73.5" r="0.8"/><circle cx="375.2" cy="77.3" r="0.8"/><circle cx="364.2" cy="74.2" r="0.8"/><circle cx="375.5" cy="76.2" r="0.8"/><circle cx="365.6" cy="73.9" r="0.8"/><circle cx="365.3" cy="77.8" r="0.8"/><circle cx="372.6" cy="76.7" r="0.8"/><circle cx="375.9" cy="76.8" r="0.8"/><circle cx="367.5" cy="78.2" r="0.8"/><circle cx="370.6" cy="72.7" r="0.8"/><circle cx="375.4" cy="75.8" r="0.8"/><circle cx="377.1" cy="78.2" r="0.8"/><circle cx="376.4" cy="74.8" r="0.8"/><circle cx="375.4" cy="77.5" r="0.8"/><circle cx="375.3" cy="76.0" r="0.8"/><circle cx="364.1" cy="77.1" r="0.8"/><circle cx="366.6" cy="74.0" r="0.8"/><circle cx="377.7" cy="77.7" r="0.8"/><circle cx="369.7" cy="76.0" r="0.8"/><circle cx="369.7" cy="75.0" r="0.8"/><circle cx="367.2" cy="78.7" r="0.8"/><circle cx="374.3" cy="79.4" r="0.8"/><circle cx="374.9" cy="74.6" r="0.8"/><circle cx="364.4" cy="80.8" r="0.8"/><circle cx="369.7" cy="74.1" r="0.8"/><circle cx="368.7" cy="76.8" r="0.8"/><circle cx="371.4" cy="74.3" r="0.8"/><circle cx="362.9" cy="77.8" r="0.8"/><circle cx="374.9" cy="78.5" r="0.8"/><circle cx="369.0" cy="80.2" r="0.8"/><circle cx="362.1" cy="77.0" r="0.8"/><circle cx="371.3" cy="73.6" r="0.8"/><circle cx="373.7" cy="76.6" r="0.8"/><circle cx="371.6" cy="80.0" r="0.8"/><circle cx="363.9" cy="79.8" r="0.8"/><circle cx="367.6" cy="80.9" r="0.8"/><circle cx="375.5" cy="75.3" r="0.8"/><circle cx="371.3" cy="79.4" r="0.8"/><circle cx="362.9" cy="76.9" r="0.8"/><circle cx="372.1" cy="78.8" r="0.8"/><circle cx="368.0" cy="77.6" r="0.8"/><circle cx="375.2" cy="75.2" r="0.8"/><circle cx="368.5" cy="76.7" r="0.8"/><circle cx="370.6" cy="80.0" r="0.8"/><circle cx="366.7" cy="74.2" r="0.8"/><circle cx="368.9" cy="78.1" r="0.8"/><circle cx="364.6" cy="81.5" r="0.8"/><circle cx="371.0" cy="78.9" r="0.8"/><circle cx="368.8" cy="77.2" r="0.8"/><circle cx="372.5" cy="76.0" r="0.8"/><circle cx="367.9" cy="78.0" r="0.8"/><circle cx="365.0" cy="76.3" r="0.8"/><circle cx="366.7" cy="77.2" r="0.8"/><circle cx="374.3" cy="76.7" r="0.8"/><circle cx="375.5" cy="77.8" r="0.8"/><circle cx="363.3" cy="78.1" r="0.8"/><circle cx="370.6" cy="79.2" r="0.8"/><circle cx="378.9" cy="74.9" r="0.8"/><circle cx="377.3" cy="73.7" r="0.8"/><circle cx="376.8" cy="75.9" r="0.8"/><circle cx="370.1" cy="76.5" r="0.8"/><circle cx="368.6" cy="73.7" r="0.8"/><circle cx="374.4" cy="77.8" r="0.8"/><circle cx="378.8" cy="74.2" r="0.8"/><circle cx="367.1" cy="77.3" r="0.8"/><circle cx="369.9" cy="74.2" r="0.8"/><circle cx="363.8" cy="74.5" r="0.8"/><circle cx="364.2" cy="75.8" r="0.8"/><circle cx="368.4" cy="78.9" r="0.8"/><circle cx="369.5" cy="78.0" r="0.8"/><circle cx="364.2" cy="77.6" r="0.8"/><circle cx="375.7" cy="72.0" r="0.8"/><circle cx="373.1" cy="75.1" r="0.8"/><circle cx="367.8" cy="79.7" r="0.8"/><circle cx="379.4" cy="75.1" r="0.8"/><circle cx="369.6" cy="75.9" r="0.8"/><circle cx="367.5" cy="78.8" r="0.8"/><circle cx="377.4" cy="75.4" r="0.8"/><circle cx="369.5" cy="79.6" r="0.8"/><circle cx="371.5" cy="75.3" r="0.8"/><circle cx="368.3" cy="79.4" r="0.8"/><circle cx="374.1" cy="78.3" r="0.8"/><circle cx="370.7" cy="72.2" r="0.8"/><circle cx="370.5" cy="77.1" r="0.8"/><circle cx="376.4" cy="76.4" r="0.8"/><circle cx="370.5" cy="76.3" r="0.8"/><circle cx="375.2" cy="78.9" r="0.8"/><circle cx="367.9" cy="79.4" r="0.8"/><circle cx="368.6" cy="78.3" r="0.8"/><circle cx="368.7" cy="80.6" r="0.8"/><circle cx="368.7" cy="74.9" r="0.8"/><circle cx="369.7" cy="77.6" r="0.8"/><circle cx="362.4" cy="76.9" r="0.8"/><circle cx="378.0" cy="77.2" r="0.8"/><circle cx="374.9" cy="79.1" r="0.8"/><circle cx="369.5" cy="72.5" r="0.8"/><circle cx="374.9" cy="73.5" r="0.8"/><circle cx="370.9" cy="76.6" r="0.8"/><circle cx="368.4" cy="76.4" r="0.8"/><circle cx="375.8" cy="75.2" r="0.8"/><circle cx="372.7" cy="77.1" r="0.8"/><circle cx="375.3" cy="74.4" r="0.8"/><circle cx="374.1" cy="75.1" r="0.8"/><circle cx="376.0" cy="76.4" r="0.8"/><circle cx="378.1" cy="76.7" r="0.8"/><circle cx="373.6" cy="79.9" r="0.8"/><circle cx="378.0" cy="75.3" r="0.8"/><circle cx="379.8" cy="75.3" r="0.8"/><circle cx="368.4" cy="75.6" r="0.8"/><circle cx="368.5" cy="74.8" r="0.8"/><circle cx="369.3" cy="80.1" r="0.8"/><circle cx="376.2" cy="77.1" r="0.8"/><circle cx="373.5" cy="74.4" r="0.8"/><circle cx="368.8" cy="76.5" r="0.8"/><circle cx="365.8" cy="73.9" r="0.8"/><circle cx="377.3" cy="78.0" r="0.8"/><circle cx="369.9" cy="77.9" r="0.8"/><circle cx="368.3" cy="77.3" r="0.8"/><circle cx="365.2" cy="76.9" r="0.8"/><circle cx="367.7" cy="74.0" r="0.8"/><circle cx="375.3" cy="75.0" r="0.8"/><circle cx="375.3" cy="79.1" r="0.8"/><circle cx="377.1" cy="77.0" r="0.8"/><circle cx="372.4" cy="78.4" r="0.8"/></g><g fill="#2ccbc3" opacity="1.0"><circle cx="387.3" cy="86.3" r="0.8"/><circle cx="381.2" cy="79.6" r="0.8"/><circle cx="378.4" cy="78.1" r="0.8"/><circle cx="381.0" cy="80.9" r="0.8"/><circle cx="387.0" cy="86.5" r="0.8"/><circle cx="385.8" cy="83.6" r="0.8"/><circle cx="384.0" cy="82.3" r="0.8"/><circle cx="381.1" cy="81.2" r="0.8"/><circle cx="381.5" cy="81.5" r="0.8"/><circle cx="384.7" cy="84.0" r="0.8"/><circle cx="380.3" cy="79.4" r="0.8"/><circle cx="381.1" cy="80.4" r="0.8"/><circle cx="387.2" cy="86.1" r="0.8"/><circle cx="385.4" cy="84.7" r="0.8"/><circle cx="380.7" cy="79.6" r="0.8"/><circle cx="383.1" cy="80.8" r="0.8"/><circle cx="383.5" cy="83.1" r="0.8"/><circle cx="385.3" cy="85.5" r="0.8"/><circle cx="383.6" cy="83.1" r="0.8"/><circle cx="385.6" cy="84.7" r="0.8"/><circle cx="379.4" cy="78.8" r="0.8"/><circle cx="383.6" cy="81.7" r="0.8"/><circle cx="378.9" cy="77.6" r="0.8"/></g><g fill="#2ccbc3" opacity="1.0"><circle cx="380.3" cy="105.4" r="0.8"/><circle cx="380.4" cy="105.9" r="0.8"/><circle cx="383.2" cy="109.1" r="0.8"/><circle cx="384.2" cy="108.7" r="0.8"/><circle cx="381.8" cy="106.2" r="0.8"/><circle cx="380.8" cy="102.7" r="0.8"/><circle cx="380.6" cy="103.5" r="0.8"/><circle cx="383.1" cy="105.7" r="0.8"/><circle cx="380.9" cy="102.8" r="0.8"/><circle cx="383.6" cy="106.8" r="0.8"/><circle cx="381.0" cy="108.6" r="0.8"/><circle cx="383.1" cy="107.8" r="0.8"/><circle cx="383.1" cy="108.1" r="0.8"/><circle cx="380.5" cy="103.2" r="0.8"/></g><g fill="#381a54"><circle cx="385.4" cy="114.8" r="0.8"/><circle cx="408.3" cy="109.8" r="0.8"/><circle cx="389.4" cy="109.7" r="0.8"/><circle cx="404.0" cy="128.7" r="0.8"/><circle cx="413.8" cy="105.2" r="0.8"/><circle cx="406.7" cy="119.4" r="0.8"/><circle cx="410.7" cy="126.6" r="0.8"/><circle cx="404.6" cy="127.0" r="0.8"/><circle cx="388.9" cy="119.1" r="0.8"/><circle cx="392.7" cy="112.3" r="0.8"/><circle cx="400.4" cy="132.2" r="0.8"/><circle cx="393.6" cy="130.1" r="0.8"/><circle cx="408.0" cy="115.9" r="0.8"/><circle cx="408.9" cy="114.9" r="0.8"/><circle cx="396.4" cy="127.0" r="0.8"/><circle cx="412.0" cy="123.7" r="0.8"/><circle cx="398.5" cy="114.5" r="0.8"/><circle cx="387.1" cy="119.9" r="0.8"/><circle cx="389.9" cy="124.0" r="0.8"/><circle cx="410.7" cy="111.7" r="0.8"/><circle cx="395.9" cy="121.8" r="0.8"/><circle cx="395.7" cy="98.3" r="0.8"/><circle cx="404.8" cy="119.2" r="0.8"/><circle cx="389.9" cy="118.5" r="0.8"/><circle cx="402.0" cy="118.0" r="0.8"/><circle cx="389.5" cy="111.9" r="0.8"/><circle cx="411.9" cy="118.1" r="0.8"/><circle cx="391.5" cy="105.6" r="0.8"/><circle cx="399.5" cy="113.5" r="0.8"/><circle cx="394.0" cy="113.8" r="0.8"/><circle cx="409.0" cy="113.2" r="0.8"/><circle cx="387.7" cy="120.5" r="0.8"/><circle cx="402.2" cy="117.1" r="0.8"/><circle cx="395.8" cy="123.3" r="0.8"/><circle cx="410.0" cy="121.4" r="0.8"/><circle cx="389.3" cy="111.2" r="0.8"/><circle cx="395.1" cy="118.0" r="0.8"/><circle cx="406.9" cy="111.2" r="0.8"/><circle cx="401.3" cy="127.8" r="0.8"/><circle cx="386.4" cy="117.2" r="0.8"/><circle cx="394.0" cy="124.1" r="0.8"/><circle cx="407.7" cy="109.2" r="0.8"/><circle cx="388.3" cy="124.5" r="0.8"/><circle cx="407.2" cy="115.7" r="0.8"/><circle cx="391.5" cy="121.2" r="0.8"/><circle cx="410.9" cy="102.6" r="0.8"/><circle cx="414.2" cy="104.7" r="0.8"/><circle cx="410.0" cy="107.2" r="0.8"/><circle cx="398.9" cy="116.7" r="0.8"/><circle cx="410.8" cy="109.2" r="0.8"/><circle cx="384.7" cy="116.0" r="0.8"/><circle cx="410.5" cy="114.9" r="0.8"/><circle cx="387.8" cy="117.1" r="0.8"/><circle cx="396.1" cy="120.5" r="0.8"/><circle cx="409.3" cy="103.2" r="0.8"/><circle cx="394.4" cy="113.9" r="0.8"/><circle cx="413.8" cy="120.4" r="0.8"/><circle cx="396.2" cy="108.8" r="0.8"/><circle cx="407.7" cy="110.4" r="0.8"/><circle cx="407.7" cy="129.4" r="0.8"/><circle cx="411.1" cy="108.7" r="0.8"/><circle cx="397.8" cy="117.3" r="0.8"/><circle cx="393.0" cy="129.6" r="0.8"/><circle cx="397.0" cy="109.2" r="0.8"/><circle cx="395.3" cy="113.1" r="0.8"/><circle cx="391.3" cy="109.8" r="0.8"/><circle cx="408.8" cy="113.1" r="0.8"/><circle cx="396.4" cy="115.5" r="0.8"/><circle cx="402.2" cy="114.9" r="0.8"/><circle cx="397.2" cy="118.4" r="0.8"/><circle cx="413.5" cy="105.0" r="0.8"/><circle cx="413.3" cy="117.2" r="0.8"/><circle cx="409.0" cy="108.1" r="0.8"/><circle cx="394.2" cy="121.2" r="0.8"/><circle cx="402.6" cy="131.0" r="0.8"/><circle cx="388.6" cy="106.0" r="0.8"/><circle cx="406.9" cy="130.7" r="0.8"/><circle cx="399.2" cy="125.5" r="0.8"/><circle cx="386.9" cy="119.0" r="0.8"/><circle cx="394.4" cy="121.4" r="0.8"/><circle cx="393.3" cy="99.2" r="0.8"/><circle cx="392.4" cy="122.7" r="0.8"/><circle cx="410.9" cy="102.2" r="0.8"/><circle cx="407.8" cy="112.4" r="0.8"/><circle cx="390.9" cy="123.8" r="0.8"/><circle cx="398.9" cy="129.6" r="0.8"/><circle cx="410.9" cy="114.4" r="0.8"/><circle cx="396.9" cy="114.4" r="0.8"/><circle cx="388.3" cy="116.4" r="0.8"/><circle cx="392.4" cy="107.7" r="0.8"/><circle cx="389.0" cy="120.2" r="0.8"/><circle cx="390.8" cy="103.3" r="0.8"/><circle cx="395.6" cy="112.5" r="0.8"/><circle cx="402.9" cy="118.3" r="0.8"/><circle cx="392.0" cy="106.6" r="0.8"/><circle cx="398.4" cy="129.9" r="0.8"/><circle cx="409.8" cy="112.0" r="0.8"/><circle cx="411.2" cy="110.0" r="0.8"/><circle cx="396.5" cy="119.0" r="0.8"/><circle cx="397.5" cy="128.5" r="0.8"/><circle cx="392.1" cy="114.2" r="0.8"/><circle cx="395.0" cy="115.2" r="0.8"/><circle cx="396.5" cy="106.1" r="0.8"/><circle cx="412.9" cy="107.1" r="0.8"/><circle cx="414.5" cy="107.1" r="0.8"/><circle cx="394.8" cy="115.1" r="0.8"/><circle cx="411.5" cy="115.8" r="0.8"/><circle cx="411.7" cy="119.0" r="0.8"/><circle cx="409.3" cy="114.1" r="0.8"/><circle cx="409.7" cy="120.7" r="0.8"/><circle cx="412.0" cy="121.5" r="0.8"/><circle cx="396.3" cy="132.8" r="0.8"/><circle cx="414.3" cy="120.4" r="0.8"/><circle cx="398.1" cy="112.9" r="0.8"/><circle cx="411.7" cy="117.0" r="0.8"/><circle cx="399.1" cy="126.2" r="0.8"/><circle cx="391.7" cy="117.6" r="0.8"/><circle cx="395.3" cy="117.6" r="0.8"/><circle cx="414.0" cy="109.0" r="0.8"/><circle cx="411.8" cy="111.5" r="0.8"/><circle cx="394.2" cy="111.7" r="0.8"/><circle cx="405.3" cy="119.0" r="0.8"/><circle cx="393.3" cy="95.5" r="0.8"/><circle cx="393.1" cy="100.3" r="0.8"/><circle cx="392.6" cy="123.6" r="0.8"/><circle cx="411.1" cy="125.9" r="0.8"/><circle cx="412.4" cy="118.7" r="0.8"/><circle cx="403.9" cy="109.6" r="0.8"/><circle cx="411.4" cy="114.4" r="0.8"/><circle cx="395.2" cy="112.7" r="0.8"/><circle cx="406.2" cy="127.5" r="0.8"/><circle cx="397.0" cy="124.6" r="0.8"/><circle cx="387.6" cy="113.1" r="0.8"/><circle cx="406.6" cy="114.4" r="0.8"/><circle cx="403.8" cy="114.0" r="0.8"/><circle cx="407.2" cy="121.6" r="0.8"/><circle cx="397.2" cy="132.5" r="0.8"/><circle cx="398.2" cy="111.5" r="0.8"/><circle cx="413.9" cy="105.5" r="0.8"/><circle cx="387.4" cy="116.9" r="0.8"/><circle cx="391.4" cy="110.3" r="0.8"/><circle cx="390.0" cy="122.7" r="0.8"/><circle cx="408.5" cy="121.1" r="0.8"/><circle cx="407.7" cy="115.0" r="0.8"/><circle cx="405.6" cy="127.2" r="0.8"/><circle cx="406.0" cy="118.7" r="0.8"/><circle cx="400.7" cy="110.9" r="0.8"/><circle cx="414.7" cy="107.5" r="0.8"/><circle cx="388.4" cy="112.6" r="0.8"/><circle cx="410.1" cy="102.0" r="0.8"/><circle cx="392.9" cy="127.3" r="0.8"/><circle cx="391.1" cy="122.8" r="0.8"/><circle cx="392.5" cy="108.9" r="0.8"/><circle cx="384.0" cy="110.3" r="0.8"/><circle cx="408.6" cy="115.0" r="0.8"/><circle cx="396.6" cy="123.9" r="0.8"/><circle cx="394.0" cy="99.1" r="0.8"/><circle cx="401.6" cy="130.2" r="0.8"/><circle cx="411.0" cy="109.3" r="0.8"/><circle cx="398.4" cy="129.4" r="0.8"/><circle cx="393.3" cy="110.7" r="0.8"/><circle cx="416.8" cy="104.4" r="0.8"/><circle cx="401.7" cy="119.4" r="0.8"/><circle cx="394.6" cy="118.5" r="0.8"/><circle cx="397.6" cy="127.4" r="0.8"/><circle cx="402.3" cy="122.8" r="0.8"/><circle cx="402.8" cy="121.5" r="0.8"/><circle cx="395.6" cy="105.3" r="0.8"/><circle cx="401.2" cy="112.0" r="0.8"/><circle cx="387.4" cy="122.4" r="0.8"/><circle cx="400.6" cy="133.4" r="0.8"/><circle cx="412.7" cy="108.9" r="0.8"/><circle cx="394.9" cy="110.0" r="0.8"/><circle cx="409.6" cy="111.2" r="0.8"/><circle cx="408.9" cy="113.5" r="0.8"/><circle cx="408.6" cy="112.6" r="0.8"/><circle cx="402.6" cy="115.5" r="0.8"/><circle cx="386.6" cy="115.8" r="0.8"/><circle cx="409.7" cy="102.2" r="0.8"/><circle cx="403.6" cy="125.0" r="0.8"/><circle cx="393.7" cy="115.3" r="0.8"/><circle cx="409.3" cy="122.8" r="0.8"/><circle cx="395.8" cy="116.8" r="0.8"/><circle cx="388.1" cy="117.7" r="0.8"/><circle cx="390.5" cy="123.1" r="0.8"/><circle cx="406.9" cy="124.3" r="0.8"/><circle cx="398.0" cy="131.6" r="0.8"/><circle cx="391.3" cy="123.1" r="0.8"/><circle cx="397.1" cy="122.1" r="0.8"/><circle cx="392.0" cy="112.0" r="0.8"/><circle cx="412.8" cy="107.1" r="0.8"/><circle cx="395.8" cy="114.7" r="0.8"/><circle cx="387.9" cy="109.0" r="0.8"/><circle cx="391.0" cy="93.3" r="0.8"/><circle cx="387.6" cy="119.5" r="0.8"/><circle cx="387.9" cy="125.0" r="0.8"/><circle cx="389.4" cy="126.1" r="0.8"/><circle cx="409.3" cy="110.1" r="0.8"/><circle cx="387.9" cy="121.5" r="0.8"/><circle cx="395.9" cy="115.6" r="0.8"/><circle cx="395.8" cy="102.7" r="0.8"/><circle cx="388.7" cy="124.4" r="0.8"/><circle cx="402.4" cy="125.1" r="0.8"/><circle cx="407.3" cy="127.4" r="0.8"/><circle cx="397.6" cy="110.1" r="0.8"/><circle cx="413.1" cy="103.5" r="0.8"/><circle cx="397.6" cy="127.5" r="0.8"/><circle cx="393.8" cy="101.7" r="0.8"/><circle cx="383.8" cy="114.4" r="0.8"/><circle cx="392.0" cy="118.7" r="0.8"/><circle cx="389.0" cy="125.4" r="0.8"/><circle cx="413.1" cy="109.4" r="0.8"/><circle cx="387.6" cy="116.0" r="0.8"/><circle cx="393.3" cy="95.6" r="0.8"/><circle cx="407.5" cy="115.5" r="0.8"/><circle cx="392.4" cy="101.8" r="0.8"/><circle cx="395.2" cy="116.6" r="0.8"/><circle cx="390.7" cy="111.4" r="0.8"/><circle cx="403.9" cy="114.7" r="0.8"/><circle cx="401.9" cy="117.0" r="0.8"/><circle cx="404.6" cy="129.8" r="0.8"/><circle cx="404.0" cy="124.8" r="0.8"/><circle cx="411.6" cy="115.1" r="0.8"/><circle cx="399.6" cy="122.2" r="0.8"/><circle cx="400.9" cy="132.4" r="0.8"/><circle cx="397.8" cy="114.7" r="0.8"/><circle cx="409.7" cy="101.2" r="0.8"/><circle cx="401.0" cy="124.8" r="0.8"/><circle cx="403.6" cy="120.6" r="0.8"/><circle cx="403.8" cy="131.4" r="0.8"/><circle cx="390.0" cy="93.0" r="0.8"/><circle cx="396.7" cy="108.3" r="0.8"/><circle cx="413.5" cy="103.5" r="0.8"/><circle cx="406.9" cy="115.9" r="0.8"/><circle cx="392.9" cy="130.9" r="0.8"/><circle cx="391.9" cy="104.2" r="0.8"/><circle cx="389.7" cy="121.7" r="0.8"/><circle cx="387.1" cy="117.1" r="0.8"/><circle cx="394.7" cy="115.1" r="0.8"/><circle cx="390.8" cy="109.7" r="0.8"/><circle cx="411.7" cy="104.5" r="0.8"/><circle cx="395.2" cy="132.8" r="0.8"/><circle cx="414.2" cy="103.0" r="0.8"/><circle cx="390.5" cy="108.1" r="0.8"/><circle cx="409.6" cy="116.1" r="0.8"/><circle cx="414.7" cy="110.0" r="0.8"/><circle cx="392.5" cy="129.3" r="0.8"/><circle cx="410.7" cy="116.0" r="0.8"/><circle cx="392.2" cy="99.4" r="0.8"/><circle cx="384.1" cy="115.4" r="0.8"/><circle cx="384.0" cy="111.6" r="0.8"/><circle cx="404.4" cy="114.6" r="0.8"/><circle cx="390.5" cy="127.7" r="0.8"/><circle cx="395.8" cy="114.8" r="0.8"/><circle cx="397.3" cy="125.4" r="0.8"/><circle cx="398.6" cy="114.8" r="0.8"/><circle cx="400.9" cy="117.3" r="0.8"/><circle cx="412.0" cy="105.3" r="0.8"/><circle cx="404.0" cy="132.7" r="0.8"/><circle cx="394.7" cy="119.5" r="0.8"/><circle cx="408.2" cy="120.8" r="0.8"/><circle cx="391.1" cy="95.4" r="0.8"/><circle cx="392.8" cy="104.0" r="0.8"/><circle cx="395.9" cy="109.2" r="0.8"/><circle cx="401.9" cy="126.7" r="0.8"/><circle cx="401.1" cy="113.4" r="0.8"/><circle cx="395.2" cy="99.1" r="0.8"/><circle cx="390.4" cy="94.9" r="0.8"/><circle cx="397.4" cy="116.1" r="0.8"/><circle cx="387.0" cy="124.1" r="0.8"/><circle cx="398.6" cy="118.3" r="0.8"/><circle cx="397.9" cy="125.8" r="0.8"/><circle cx="408.8" cy="107.2" r="0.8"/><circle cx="390.8" cy="92.5" r="0.8"/><circle cx="398.0" cy="120.8" r="0.8"/><circle cx="392.4" cy="118.2" r="0.8"/><circle cx="392.3" cy="130.0" r="0.8"/><circle cx="390.6" cy="118.0" r="0.8"/><circle cx="385.1" cy="113.0" r="0.8"/><circle cx="393.0" cy="109.1" r="0.8"/><circle cx="404.1" cy="123.2" r="0.8"/><circle cx="406.4" cy="110.0" r="0.8"/><circle cx="394.7" cy="118.4" r="0.8"/><circle cx="398.9" cy="131.7" r="0.8"/><circle cx="401.3" cy="116.6" r="0.8"/><circle cx="406.0" cy="112.1" r="0.8"/><circle cx="400.0" cy="120.1" r="0.8"/><circle cx="393.6" cy="112.7" r="0.8"/><circle cx="389.2" cy="109.2" r="0.8"/><circle cx="397.8" cy="109.9" r="0.8"/><circle cx="391.9" cy="112.0" r="0.8"/><circle cx="405.8" cy="122.1" r="0.8"/><circle cx="384.4" cy="111.7" r="0.8"/><circle cx="403.4" cy="117.5" r="0.8"/><circle cx="400.5" cy="131.5" r="0.8"/><circle cx="407.4" cy="110.5" r="0.8"/><circle cx="392.0" cy="96.8" r="0.8"/><circle cx="405.3" cy="124.5" r="0.8"/><circle cx="392.6" cy="122.0" r="0.8"/><circle cx="409.6" cy="108.5" r="0.8"/><circle cx="413.6" cy="108.1" r="0.8"/><circle cx="413.7" cy="121.9" r="0.8"/><circle cx="396.7" cy="112.1" r="0.8"/><circle cx="384.2" cy="116.0" r="0.8"/><circle cx="393.8" cy="116.5" r="0.8"/><circle cx="399.3" cy="129.2" r="0.8"/><circle cx="388.1" cy="118.6" r="0.8"/><circle cx="396.3" cy="113.2" r="0.8"/><circle cx="394.2" cy="106.4" r="0.8"/><circle cx="399.9" cy="119.9" r="0.8"/><circle cx="414.3" cy="109.9" r="0.8"/><circle cx="392.9" cy="106.7" r="0.8"/><circle cx="391.9" cy="99.5" r="0.8"/><circle cx="400.4" cy="123.7" r="0.8"/><circle cx="406.7" cy="110.3" r="0.8"/><circle cx="391.4" cy="106.1" r="0.8"/><circle cx="395.4" cy="119.9" r="0.8"/><circle cx="391.4" cy="101.4" r="0.8"/><circle cx="389.8" cy="112.4" r="0.8"/><circle cx="390.9" cy="112.1" r="0.8"/><circle cx="391.5" cy="123.5" r="0.8"/><circle cx="406.0" cy="110.6" r="0.8"/><circle cx="402.7" cy="114.1" r="0.8"/><circle cx="408.6" cy="124.8" r="0.8"/><circle cx="398.1" cy="124.7" r="0.8"/><circle cx="411.6" cy="121.3" r="0.8"/><circle cx="398.7" cy="125.1" r="0.8"/><circle cx="396.1" cy="103.0" r="0.8"/><circle cx="411.0" cy="119.1" r="0.8"/><circle cx="393.4" cy="123.5" r="0.8"/><circle cx="389.5" cy="126.1" r="0.8"/><circle cx="403.9" cy="124.5" r="0.8"/><circle cx="407.0" cy="111.3" r="0.8"/><circle cx="403.4" cy="115.8" r="0.8"/><circle cx="392.9" cy="104.4" r="0.8"/><circle cx="410.6" cy="126.8" r="0.8"/><circle cx="407.4" cy="119.4" r="0.8"/><circle cx="396.3" cy="103.2" r="0.8"/><circle cx="397.8" cy="108.3" r="0.8"/><circle cx="384.9" cy="112.7" r="0.8"/><circle cx="414.0" cy="103.1" r="0.8"/><circle cx="408.7" cy="124.2" r="0.8"/><circle cx="405.8" cy="117.1" r="0.8"/><circle cx="391.7" cy="120.5" r="0.8"/><circle cx="403.2" cy="133.3" r="0.8"/><circle cx="414.3" cy="118.4" r="0.8"/><circle cx="394.8" cy="119.5" r="0.8"/><circle cx="413.5" cy="111.3" r="0.8"/><circle cx="410.7" cy="100.4" r="0.8"/><circle cx="410.7" cy="117.2" r="0.8"/><circle cx="396.6" cy="107.8" r="0.8"/><circle cx="396.4" cy="108.7" r="0.8"/><circle cx="399.3" cy="119.0" r="0.8"/><circle cx="386.7" cy="111.9" r="0.8"/><circle cx="389.1" cy="117.4" r="0.8"/><circle cx="395.0" cy="120.2" r="0.8"/><circle cx="410.0" cy="108.7" r="0.8"/><circle cx="390.4" cy="118.2" r="0.8"/><circle cx="395.7" cy="114.6" r="0.8"/><circle cx="395.7" cy="122.6" r="0.8"/><circle cx="399.8" cy="110.1" r="0.8"/><circle cx="388.9" cy="114.0" r="0.8"/><circle cx="407.3" cy="114.0" r="0.8"/><circle cx="400.3" cy="120.3" r="0.8"/><circle cx="402.7" cy="121.5" r="0.8"/><circle cx="396.3" cy="108.5" r="0.8"/><circle cx="394.9" cy="101.6" r="0.8"/><circle cx="392.7" cy="115.7" r="0.8"/><circle cx="408.3" cy="114.3" r="0.8"/><circle cx="414.2" cy="102.5" r="0.8"/><circle cx="386.8" cy="121.1" r="0.8"/><circle cx="389.1" cy="121.9" r="0.8"/><circle cx="413.0" cy="113.6" r="0.8"/><circle cx="398.6" cy="133.6" r="0.8"/><circle cx="410.1" cy="100.9" r="0.8"/><circle cx="390.9" cy="104.3" r="0.8"/><circle cx="392.5" cy="99.3" r="0.8"/><circle cx="413.2" cy="107.6" r="0.8"/><circle cx="402.4" cy="126.5" r="0.8"/><circle cx="412.0" cy="105.4" r="0.8"/><circle cx="411.7" cy="119.1" r="0.8"/><circle cx="407.1" cy="114.8" r="0.8"/><circle cx="394.9" cy="130.8" r="0.8"/><circle cx="386.1" cy="112.9" r="0.8"/><circle cx="405.0" cy="125.5" r="0.8"/><circle cx="390.8" cy="101.7" r="0.8"/><circle cx="409.6" cy="114.1" r="0.8"/><circle cx="415.6" cy="103.1" r="0.8"/><circle cx="393.0" cy="110.8" r="0.8"/><circle cx="396.3" cy="120.2" r="0.8"/><circle cx="395.9" cy="118.8" r="0.8"/><circle cx="403.0" cy="119.8" r="0.8"/><circle cx="392.9" cy="113.6" r="0.8"/><circle cx="394.5" cy="116.4" r="0.8"/><circle cx="386.9" cy="118.3" r="0.8"/><circle cx="390.3" cy="115.3" r="0.8"/><circle cx="389.6" cy="110.5" r="0.8"/><circle cx="392.2" cy="119.1" r="0.8"/><circle cx="409.9" cy="128.0" r="0.8"/><circle cx="393.0" cy="113.3" r="0.8"/><circle cx="407.8" cy="112.7" r="0.8"/><circle cx="393.8" cy="110.6" r="0.8"/><circle cx="396.8" cy="120.3" r="0.8"/><circle cx="398.0" cy="116.7" r="0.8"/><circle cx="400.5" cy="123.8" r="0.8"/><circle cx="410.3" cy="123.2" r="0.8"/><circle cx="397.2" cy="113.3" r="0.8"/><circle cx="386.6" cy="115.7" r="0.8"/><circle cx="392.3" cy="98.1" r="0.8"/><circle cx="408.3" cy="117.6" r="0.8"/><circle cx="402.5" cy="129.2" r="0.8"/><circle cx="390.6" cy="117.1" r="0.8"/><circle cx="396.7" cy="131.3" r="0.8"/><circle cx="391.1" cy="102.8" r="0.8"/><circle cx="397.9" cy="107.4" r="0.8"/><circle cx="393.1" cy="126.1" r="0.8"/><circle cx="406.8" cy="109.2" r="0.8"/><circle cx="397.8" cy="120.9" r="0.8"/><circle cx="395.9" cy="102.3" r="0.8"/><circle cx="401.2" cy="132.6" r="0.8"/><circle cx="399.7" cy="134.1" r="0.8"/><circle cx="416.3" cy="107.1" r="0.8"/><circle cx="414.0" cy="121.2" r="0.8"/><circle cx="400.7" cy="113.6" r="0.8"/><circle cx="389.4" cy="112.4" r="0.8"/><circle cx="409.2" cy="115.4" r="0.8"/><circle cx="408.4" cy="117.3" r="0.8"/><circle cx="413.5" cy="105.7" r="0.8"/><circle cx="399.0" cy="126.6" r="0.8"/><circle cx="391.9" cy="107.3" r="0.8"/><circle cx="412.2" cy="119.4" r="0.8"/><circle cx="409.4" cy="109.2" r="0.8"/><circle cx="391.3" cy="107.9" r="0.8"/><circle cx="392.6" cy="118.1" r="0.8"/><circle cx="386.6" cy="114.0" r="0.8"/><circle cx="395.1" cy="112.9" r="0.8"/><circle cx="400.4" cy="127.8" r="0.8"/><circle cx="392.7" cy="96.3" r="0.8"/><circle cx="406.3" cy="126.3" r="0.8"/><circle cx="398.6" cy="116.5" r="0.8"/><circle cx="394.6" cy="126.9" r="0.8"/><circle cx="399.8" cy="119.7" r="0.8"/><circle cx="385.0" cy="110.7" r="0.8"/><circle cx="414.6" cy="115.2" r="0.8"/><circle cx="404.4" cy="124.5" r="0.8"/><circle cx="392.2" cy="122.1" r="0.8"/><circle cx="403.1" cy="128.8" r="0.8"/><circle cx="409.7" cy="105.5" r="0.8"/><circle cx="389.0" cy="119.8" r="0.8"/><circle cx="386.9" cy="112.7" r="0.8"/><circle cx="392.6" cy="108.6" r="0.8"/><circle cx="405.6" cy="118.8" r="0.8"/><circle cx="413.9" cy="121.9" r="0.8"/><circle cx="414.3" cy="117.8" r="0.8"/><circle cx="405.3" cy="129.9" r="0.8"/><circle cx="408.8" cy="118.8" r="0.8"/><circle cx="407.8" cy="128.1" r="0.8"/><circle cx="398.3" cy="127.8" r="0.8"/><circle cx="408.7" cy="102.0" r="0.8"/><circle cx="413.7" cy="109.0" r="0.8"/><circle cx="389.7" cy="109.2" r="0.8"/><circle cx="412.6" cy="109.4" r="0.8"/><circle cx="412.6" cy="122.8" r="0.8"/><circle cx="402.6" cy="113.4" r="0.8"/><circle cx="407.7" cy="117.3" r="0.8"/><circle cx="398.3" cy="128.1" r="0.8"/><circle cx="392.9" cy="108.1" r="0.8"/><circle cx="402.9" cy="133.5" r="0.8"/><circle cx="391.4" cy="128.1" r="0.8"/><circle cx="405.7" cy="131.3" r="0.8"/><circle cx="393.4" cy="120.1" r="0.8"/><circle cx="407.1" cy="127.8" r="0.8"/><circle cx="404.9" cy="115.2" r="0.8"/><circle cx="389.7" cy="113.7" r="0.8"/><circle cx="391.3" cy="127.9" r="0.8"/><circle cx="389.4" cy="124.5" r="0.8"/><circle cx="389.8" cy="105.9" r="0.8"/><circle cx="416.0" cy="105.4" r="0.8"/><circle cx="413.7" cy="120.1" r="0.8"/><circle cx="391.3" cy="93.1" r="0.8"/><circle cx="389.0" cy="123.7" r="0.8"/><circle cx="392.7" cy="126.0" r="0.8"/><circle cx="408.4" cy="119.2" r="0.8"/><circle cx="416.5" cy="104.9" r="0.8"/><circle cx="392.7" cy="114.0" r="0.8"/><circle cx="409.9" cy="104.5" r="0.8"/><circle cx="410.9" cy="124.5" r="0.8"/><circle cx="403.6" cy="118.9" r="0.8"/><circle cx="410.1" cy="110.8" r="0.8"/><circle cx="395.6" cy="125.8" r="0.8"/><circle cx="394.5" cy="132.1" r="0.8"/><circle cx="394.7" cy="118.5" r="0.8"/><circle cx="391.9" cy="122.7" r="0.8"/><circle cx="392.8" cy="109.5" r="0.8"/><circle cx="408.0" cy="127.3" r="0.8"/><circle cx="390.4" cy="124.6" r="0.8"/><circle cx="406.3" cy="122.4" r="0.8"/><circle cx="410.9" cy="101.2" r="0.8"/><circle cx="395.2" cy="117.3" r="0.8"/><circle cx="392.1" cy="125.8" r="0.8"/><circle cx="390.4" cy="110.4" r="0.8"/><circle cx="405.5" cy="127.0" r="0.8"/><circle cx="406.5" cy="128.8" r="0.8"/><circle cx="406.0" cy="125.1" r="0.8"/><circle cx="411.9" cy="117.1" r="0.8"/><circle cx="391.2" cy="94.8" r="0.8"/><circle cx="386.9" cy="108.2" r="0.8"/><circle cx="393.2" cy="115.7" r="0.8"/><circle cx="411.6" cy="102.8" r="0.8"/><circle cx="389.7" cy="116.8" r="0.8"/><circle cx="396.0" cy="106.1" r="0.8"/><circle cx="407.2" cy="114.2" r="0.8"/><circle cx="394.4" cy="97.6" r="0.8"/><circle cx="387.1" cy="122.2" r="0.8"/><circle cx="390.8" cy="114.0" r="0.8"/><circle cx="392.3" cy="112.4" r="0.8"/><circle cx="387.1" cy="109.4" r="0.8"/><circle cx="401.6" cy="126.5" r="0.8"/><circle cx="399.7" cy="110.7" r="0.8"/><circle cx="412.0" cy="118.1" r="0.8"/></g><g fill="#e4b634" opacity="1.0"><circle cx="413.7" cy="103.0" r="0.8"/><circle cx="416.6" cy="101.7" r="0.8"/><circle cx="410.1" cy="100.4" r="0.8"/><circle cx="411.1" cy="99.7" r="0.8"/><circle cx="417.3" cy="103.3" r="0.8"/><circle cx="415.8" cy="102.5" r="0.8"/><circle cx="413.4" cy="100.7" r="0.8"/><circle cx="416.6" cy="102.2" r="0.8"/><circle cx="412.4" cy="104.7" r="0.8"/><circle cx="413.1" cy="102.3" r="0.8"/><circle cx="416.0" cy="102.3" r="0.8"/><circle cx="410.7" cy="102.7" r="0.8"/><circle cx="411.6" cy="101.0" r="0.8"/><circle cx="415.6" cy="101.7" r="0.8"/><circle cx="414.3" cy="101.3" r="0.8"/><circle cx="410.0" cy="105.0" r="0.8"/><circle cx="415.6" cy="104.4" r="0.8"/><circle cx="414.2" cy="100.3" r="0.8"/><circle cx="413.3" cy="105.4" r="0.8"/><circle cx="415.7" cy="103.5" r="0.8"/><circle cx="414.4" cy="100.3" r="0.8"/><circle cx="412.4" cy="104.4" r="0.8"/><circle cx="414.9" cy="105.7" r="0.8"/><circle cx="416.9" cy="101.1" r="0.8"/><circle cx="411.1" cy="99.9" r="0.8"/></g></g>
<g id="umap-low" filter="url(#soft)"><g fill="#eaedf2"><circle cx="152.2" cy="502.2" r="0.65"/><circle cx="158.9" cy="508.2" r="0.65"/><circle cx="143.8" cy="512.3" r="0.65"/><circle cx="143.2" cy="510.2" r="0.65"/><circle cx="155.4" cy="521.3" r="0.65"/><circle cx="160.2" cy="509.1" r="0.65"/><circle cx="146.5" cy="501.2" r="0.65"/><circle cx="151.7" cy="521.0" r="0.65"/><circle cx="147.7" cy="514.4" r="0.65"/><circle cx="162.1" cy="508.4" r="0.65"/><circle cx="143.9" cy="503.7" r="0.65"/><circle cx="163.4" cy="510.0" r="0.65"/><circle cx="156.3" cy="506.4" r="0.65"/><circle cx="167.0" cy="517.7" r="0.65"/><circle cx="149.7" cy="514.2" r="0.65"/><circle cx="166.1" cy="514.1" r="0.65"/><circle cx="163.9" cy="514.7" r="0.65"/><circle cx="160.3" cy="510.8" r="0.65"/><circle cx="168.5" cy="524.6" r="0.65"/><circle cx="156.9" cy="516.7" r="0.65"/><circle cx="154.2" cy="516.8" r="0.65"/><circle cx="142.7" cy="511.0" r="0.65"/><circle cx="146.1" cy="504.9" r="0.65"/><circle cx="144.5" cy="510.6" r="0.65"/><circle cx="159.3" cy="522.9" r="0.65"/><circle cx="167.8" cy="522.4" r="0.65"/><circle cx="150.8" cy="509.7" r="0.65"/><circle cx="147.6" cy="504.5" r="0.65"/><circle cx="149.4" cy="511.6" r="0.65"/><circle cx="153.6" cy="513.9" r="0.65"/><circle cx="170.3" cy="520.0" r="0.65"/><circle cx="152.7" cy="499.4" r="0.65"/><circle cx="149.9" cy="507.7" r="0.65"/><circle cx="153.5" cy="501.4" r="0.65"/><circle cx="156.7" cy="511.6" r="0.65"/><circle cx="158.6" cy="502.0" r="0.65"/><circle cx="169.2" cy="517.6" r="0.65"/><circle cx="150.2" cy="508.3" r="0.65"/><circle cx="158.8" cy="519.9" r="0.65"/><circle cx="167.6" cy="525.8" r="0.65"/><circle cx="168.9" cy="520.7" r="0.65"/><circle cx="167.8" cy="518.8" r="0.65"/><circle cx="150.2" cy="517.5" r="0.65"/><circle cx="171.5" cy="525.9" r="0.65"/><circle cx="148.9" cy="504.3" r="0.65"/><circle cx="161.7" cy="523.4" r="0.65"/><circle cx="162.6" cy="520.5" r="0.65"/><circle cx="144.7" cy="516.6" r="0.65"/><circle cx="170.7" cy="520.0" r="0.65"/><circle cx="165.6" cy="511.4" r="0.65"/><circle cx="152.5" cy="520.6" r="0.65"/><circle cx="146.0" cy="502.2" r="0.65"/><circle cx="153.0" cy="513.4" r="0.65"/><circle cx="158.6" cy="524.3" r="0.65"/><circle cx="155.7" cy="522.6" r="0.65"/><circle cx="149.9" cy="506.2" r="0.65"/><circle cx="149.6" cy="514.5" r="0.65"/><circle cx="160.4" cy="523.5" r="0.65"/><circle cx="157.8" cy="513.0" r="0.65"/><circle cx="155.9" cy="503.1" r="0.65"/><circle cx="152.3" cy="512.6" r="0.65"/><circle cx="149.8" cy="505.7" r="0.65"/><circle cx="159.7" cy="519.4" r="0.65"/><circle cx="161.3" cy="512.2" r="0.65"/><circle cx="158.1" cy="517.5" r="0.65"/><circle cx="157.1" cy="524.5" r="0.65"/><circle cx="164.0" cy="522.7" r="0.65"/><circle cx="144.3" cy="504.7" r="0.65"/><circle cx="166.7" cy="523.3" r="0.65"/><circle cx="146.9" cy="518.2" r="0.65"/><circle cx="169.8" cy="525.3" r="0.65"/><circle cx="154.5" cy="511.7" r="0.65"/><circle cx="147.1" cy="510.1" r="0.65"/><circle cx="158.2" cy="507.5" r="0.65"/><circle cx="148.2" cy="506.9" r="0.65"/><circle cx="166.8" cy="525.4" r="0.65"/><circle cx="145.3" cy="505.4" r="0.65"/><circle cx="155.3" cy="523.7" r="0.65"/><circle cx="163.7" cy="509.9" r="0.65"/><circle cx="162.0" cy="520.6" r="0.65"/><circle cx="158.6" cy="504.6" r="0.65"/><circle cx="145.4" cy="502.5" r="0.65"/><circle cx="143.6" cy="503.6" r="0.65"/><circle cx="157.8" cy="502.9" r="0.65"/><circle cx="165.1" cy="513.5" r="0.65"/><circle cx="148.0" cy="511.3" r="0.65"/><circle cx="154.4" cy="512.2" r="0.65"/><circle cx="163.7" cy="525.7" r="0.65"/><circle cx="164.3" cy="515.9" r="0.65"/><circle cx="154.7" cy="507.7" r="0.65"/><circle cx="150.1" cy="502.5" r="0.65"/><circle cx="150.9" cy="504.8" r="0.65"/><circle cx="151.2" cy="510.9" r="0.65"/><circle cx="147.0" cy="510.5" r="0.65"/><circle cx="148.3" cy="512.2" r="0.65"/><circle cx="144.8" cy="509.2" r="0.65"/><circle cx="151.6" cy="504.5" r="0.65"/><circle cx="160.4" cy="512.9" r="0.65"/><circle cx="165.6" cy="516.5" r="0.65"/><circle cx="164.6" cy="522.8" r="0.65"/><circle cx="164.8" cy="516.1" r="0.65"/><circle cx="165.1" cy="520.9" r="0.65"/><circle cx="146.4" cy="512.7" r="0.65"/><circle cx="157.9" cy="521.5" r="0.65"/><circle cx="167.3" cy="521.3" r="0.65"/><circle cx="160.4" cy="523.2" r="0.65"/><circle cx="163.5" cy="517.5" r="0.65"/><circle cx="149.2" cy="498.8" r="0.65"/><circle cx="146.2" cy="508.1" r="0.65"/><circle cx="161.7" cy="517.2" r="0.65"/><circle cx="167.1" cy="519.1" r="0.65"/><circle cx="157.1" cy="517.2" r="0.65"/><circle cx="166.2" cy="515.4" r="0.65"/><circle cx="146.6" cy="505.1" r="0.65"/><circle cx="163.2" cy="517.5" r="0.65"/><circle cx="158.3" cy="511.0" r="0.65"/><circle cx="156.7" cy="501.3" r="0.65"/><circle cx="172.8" cy="524.4" r="0.65"/><circle cx="142.6" cy="510.9" r="0.65"/><circle cx="167.8" cy="525.3" r="0.65"/><circle cx="156.2" cy="505.5" r="0.65"/><circle cx="146.5" cy="512.7" r="0.65"/><circle cx="169.9" cy="517.8" r="0.65"/><circle cx="142.1" cy="511.8" r="0.65"/><circle cx="146.4" cy="507.6" r="0.65"/><circle cx="152.0" cy="521.7" r="0.65"/><circle cx="153.7" cy="509.0" r="0.65"/><circle cx="149.9" cy="505.4" r="0.65"/><circle cx="158.1" cy="503.3" r="0.65"/><circle cx="169.9" cy="520.9" r="0.65"/><circle cx="161.9" cy="523.7" r="0.65"/><circle cx="165.1" cy="510.7" r="0.65"/><circle cx="156.9" cy="507.6" r="0.65"/><circle cx="151.4" cy="518.8" r="0.65"/><circle cx="159.6" cy="509.1" r="0.65"/><circle cx="147.3" cy="502.5" r="0.65"/><circle cx="157.7" cy="504.1" r="0.65"/><circle cx="148.1" cy="500.5" r="0.65"/><circle cx="152.8" cy="500.5" r="0.65"/><circle cx="149.5" cy="505.2" r="0.65"/><circle cx="159.9" cy="523.0" r="0.65"/><circle cx="165.6" cy="509.6" r="0.65"/><circle cx="155.0" cy="512.7" r="0.65"/><circle cx="153.9" cy="507.5" r="0.65"/><circle cx="144.0" cy="505.8" r="0.65"/><circle cx="157.9" cy="515.7" r="0.65"/><circle cx="150.5" cy="504.9" r="0.65"/><circle cx="154.6" cy="510.5" r="0.65"/><circle cx="172.0" cy="521.9" r="0.65"/><circle cx="162.4" cy="519.5" r="0.65"/><circle cx="156.4" cy="513.5" r="0.65"/><circle cx="162.3" cy="506.5" r="0.65"/><circle cx="146.0" cy="505.0" r="0.65"/><circle cx="162.0" cy="517.7" r="0.65"/><circle cx="158.5" cy="514.4" r="0.65"/><circle cx="154.2" cy="504.2" r="0.65"/><circle cx="151.5" cy="510.9" r="0.65"/><circle cx="155.2" cy="505.2" r="0.65"/><circle cx="149.1" cy="498.9" r="0.65"/><circle cx="167.1" cy="518.8" r="0.65"/><circle cx="157.9" cy="503.7" r="0.65"/><circle cx="149.0" cy="519.4" r="0.65"/><circle cx="149.0" cy="509.7" r="0.65"/><circle cx="163.0" cy="524.7" r="0.65"/><circle cx="165.1" cy="526.1" r="0.65"/><circle cx="162.9" cy="508.6" r="0.65"/><circle cx="153.8" cy="507.3" r="0.65"/><circle cx="150.8" cy="507.8" r="0.65"/><circle cx="153.2" cy="521.2" r="0.65"/><circle cx="143.6" cy="511.3" r="0.65"/><circle cx="148.1" cy="508.2" r="0.65"/><circle cx="154.9" cy="520.9" r="0.65"/><circle cx="150.3" cy="518.2" r="0.65"/><circle cx="152.0" cy="505.7" r="0.65"/><circle cx="154.2" cy="505.0" r="0.65"/><circle cx="155.5" cy="511.9" r="0.65"/><circle cx="167.3" cy="518.8" r="0.65"/><circle cx="167.9" cy="519.8" r="0.65"/><circle cx="161.1" cy="507.2" r="0.65"/><circle cx="148.2" cy="519.2" r="0.65"/><circle cx="149.8" cy="499.7" r="0.65"/><circle cx="169.8" cy="525.9" r="0.65"/><circle cx="150.3" cy="500.3" r="0.65"/><circle cx="145.0" cy="512.0" r="0.65"/><circle cx="164.4" cy="510.5" r="0.65"/><circle cx="149.4" cy="509.7" r="0.65"/><circle cx="161.5" cy="517.0" r="0.65"/><circle cx="159.9" cy="508.5" r="0.65"/><circle cx="149.8" cy="504.8" r="0.65"/><circle cx="160.2" cy="507.1" r="0.65"/><circle cx="158.0" cy="504.4" r="0.65"/><circle cx="167.5" cy="516.4" r="0.65"/><circle cx="157.0" cy="521.1" r="0.65"/><circle cx="168.5" cy="523.8" r="0.65"/><circle cx="143.3" cy="506.2" r="0.65"/><circle cx="150.2" cy="519.9" r="0.65"/><circle cx="150.0" cy="514.9" r="0.65"/><circle cx="162.5" cy="503.7" r="0.65"/><circle cx="151.8" cy="503.7" r="0.65"/><circle cx="167.1" cy="513.4" r="0.65"/><circle cx="147.2" cy="517.6" r="0.65"/><circle cx="154.9" cy="505.9" r="0.65"/><circle cx="151.8" cy="513.9" r="0.65"/><circle cx="153.3" cy="509.7" r="0.65"/><circle cx="169.2" cy="526.1" r="0.65"/><circle cx="153.5" cy="503.5" r="0.65"/><circle cx="154.8" cy="522.9" r="0.65"/><circle cx="156.5" cy="502.5" r="0.65"/><circle cx="144.8" cy="515.5" r="0.65"/><circle cx="153.7" cy="512.2" r="0.65"/><circle cx="146.6" cy="505.9" r="0.65"/><circle cx="158.4" cy="524.1" r="0.65"/><circle cx="145.4" cy="511.8" r="0.65"/><circle cx="167.4" cy="525.3" r="0.65"/><circle cx="158.3" cy="508.8" r="0.65"/><circle cx="145.9" cy="504.9" r="0.65"/><circle cx="164.8" cy="523.3" r="0.65"/><circle cx="155.2" cy="514.4" r="0.65"/><circle cx="155.4" cy="516.5" r="0.65"/><circle cx="157.4" cy="504.6" r="0.65"/><circle cx="166.1" cy="520.0" r="0.65"/><circle cx="156.4" cy="503.0" r="0.65"/><circle cx="144.9" cy="510.4" r="0.65"/><circle cx="165.1" cy="519.9" r="0.65"/><circle cx="157.9" cy="508.6" r="0.65"/><circle cx="169.0" cy="526.1" r="0.65"/><circle cx="165.1" cy="521.0" r="0.65"/><circle cx="144.1" cy="507.8" r="0.65"/><circle cx="157.8" cy="523.9" r="0.65"/><circle cx="148.6" cy="505.3" r="0.65"/><circle cx="157.9" cy="506.9" r="0.65"/><circle cx="163.4" cy="523.2" r="0.65"/><circle cx="145.6" cy="512.9" r="0.65"/><circle cx="162.0" cy="508.1" r="0.65"/><circle cx="160.3" cy="522.9" r="0.65"/><circle cx="161.8" cy="509.1" r="0.65"/><circle cx="153.3" cy="519.5" r="0.65"/><circle cx="155.9" cy="502.9" r="0.65"/><circle cx="160.5" cy="516.7" r="0.65"/><circle cx="161.4" cy="510.1" r="0.65"/><circle cx="146.2" cy="504.3" r="0.65"/><circle cx="145.4" cy="508.0" r="0.65"/><circle cx="149.1" cy="514.4" r="0.65"/><circle cx="161.7" cy="511.3" r="0.65"/><circle cx="149.7" cy="502.1" r="0.65"/><circle cx="169.4" cy="520.0" r="0.65"/><circle cx="154.7" cy="505.4" r="0.65"/><circle cx="159.7" cy="507.8" r="0.65"/><circle cx="162.3" cy="510.5" r="0.65"/><circle cx="143.4" cy="512.9" r="0.65"/><circle cx="154.8" cy="504.6" r="0.65"/><circle cx="148.3" cy="515.1" r="0.65"/><circle cx="158.0" cy="516.1" r="0.65"/><circle cx="165.4" cy="510.7" r="0.65"/><circle cx="149.1" cy="500.9" r="0.65"/><circle cx="163.9" cy="521.8" r="0.65"/><circle cx="150.4" cy="516.1" r="0.65"/><circle cx="161.9" cy="517.5" r="0.65"/><circle cx="163.0" cy="525.6" r="0.65"/><circle cx="156.8" cy="521.7" r="0.65"/><circle cx="164.0" cy="522.2" r="0.65"/><circle cx="160.0" cy="506.6" r="0.65"/><circle cx="148.7" cy="515.5" r="0.65"/><circle cx="163.8" cy="515.8" r="0.65"/><circle cx="144.1" cy="514.6" r="0.65"/><circle cx="167.8" cy="523.1" r="0.65"/><circle cx="162.0" cy="521.2" r="0.65"/><circle cx="161.9" cy="506.0" r="0.65"/><circle cx="145.1" cy="500.7" r="0.65"/><circle cx="152.1" cy="509.9" r="0.65"/><circle cx="150.9" cy="518.2" r="0.65"/><circle cx="143.0" cy="509.6" r="0.65"/><circle cx="155.7" cy="519.8" r="0.65"/><circle cx="152.9" cy="517.8" r="0.65"/><circle cx="158.9" cy="504.0" r="0.65"/><circle cx="166.0" cy="525.6" r="0.65"/><circle cx="142.1" cy="511.8" r="0.65"/><circle cx="157.5" cy="520.4" r="0.65"/><circle cx="147.8" cy="511.9" r="0.65"/><circle cx="152.9" cy="521.4" r="0.65"/><circle cx="164.0" cy="512.0" r="0.65"/><circle cx="164.0" cy="520.2" r="0.65"/><circle cx="161.8" cy="508.0" r="0.65"/><circle cx="154.6" cy="509.1" r="0.65"/><circle cx="148.5" cy="505.3" r="0.65"/><circle cx="153.9" cy="522.9" r="0.65"/><circle cx="165.7" cy="516.2" r="0.65"/><circle cx="153.0" cy="507.1" r="0.65"/><circle cx="162.9" cy="518.9" r="0.65"/><circle cx="147.3" cy="510.3" r="0.65"/><circle cx="166.4" cy="514.3" r="0.65"/><circle cx="146.0" cy="511.0" r="0.65"/><circle cx="148.0" cy="506.4" r="0.65"/><circle cx="164.1" cy="521.8" r="0.65"/><circle cx="146.9" cy="502.3" r="0.65"/><circle cx="158.4" cy="502.5" r="0.65"/><circle cx="145.4" cy="503.7" r="0.65"/><circle cx="154.6" cy="520.3" r="0.65"/><circle cx="163.8" cy="512.1" r="0.65"/><circle cx="161.9" cy="511.0" r="0.65"/><circle cx="146.5" cy="515.0" r="0.65"/><circle cx="154.7" cy="518.9" r="0.65"/><circle cx="155.3" cy="504.4" r="0.65"/><circle cx="164.7" cy="522.8" r="0.65"/><circle cx="162.2" cy="510.7" r="0.65"/><circle cx="151.9" cy="515.7" r="0.65"/><circle cx="145.1" cy="509.8" r="0.65"/><circle cx="161.8" cy="505.0" r="0.65"/><circle cx="155.3" cy="510.8" r="0.65"/><circle cx="161.6" cy="509.5" r="0.65"/><circle cx="163.3" cy="524.2" r="0.65"/><circle cx="147.8" cy="516.4" r="0.65"/><circle cx="166.5" cy="508.9" r="0.65"/><circle cx="159.0" cy="518.2" r="0.65"/><circle cx="158.1" cy="516.0" r="0.65"/><circle cx="150.6" cy="509.2" r="0.65"/><circle cx="153.1" cy="505.4" r="0.65"/><circle cx="149.1" cy="518.9" r="0.65"/><circle cx="154.3" cy="503.9" r="0.65"/><circle cx="167.5" cy="515.9" r="0.65"/><circle cx="153.1" cy="516.0" r="0.65"/><circle cx="167.8" cy="521.0" r="0.65"/><circle cx="156.7" cy="506.2" r="0.65"/><circle cx="153.8" cy="505.1" r="0.65"/><circle cx="155.4" cy="503.2" r="0.65"/><circle cx="150.9" cy="504.8" r="0.65"/><circle cx="155.5" cy="515.9" r="0.65"/><circle cx="162.8" cy="508.2" r="0.65"/><circle cx="171.3" cy="522.1" r="0.65"/><circle cx="170.5" cy="520.1" r="0.65"/><circle cx="162.7" cy="505.0" r="0.65"/><circle cx="145.2" cy="501.9" r="0.65"/><circle cx="149.4" cy="519.9" r="0.65"/><circle cx="152.9" cy="502.2" r="0.65"/><circle cx="170.5" cy="520.3" r="0.65"/><circle cx="161.2" cy="520.0" r="0.65"/><circle cx="163.1" cy="523.2" r="0.65"/><circle cx="148.2" cy="517.5" r="0.65"/><circle cx="158.7" cy="518.9" r="0.65"/><circle cx="159.5" cy="505.4" r="0.65"/><circle cx="149.4" cy="501.8" r="0.65"/><circle cx="156.7" cy="502.0" r="0.65"/><circle cx="159.0" cy="522.3" r="0.65"/><circle cx="156.7" cy="513.8" r="0.65"/><circle cx="163.0" cy="521.7" r="0.65"/><circle cx="153.8" cy="509.8" r="0.65"/><circle cx="162.1" cy="515.9" r="0.65"/><circle cx="163.5" cy="524.3" r="0.65"/><circle cx="158.1" cy="511.6" r="0.65"/><circle cx="164.6" cy="515.6" r="0.65"/><circle cx="152.7" cy="522.3" r="0.65"/><circle cx="158.6" cy="519.7" r="0.65"/><circle cx="148.6" cy="510.2" r="0.65"/><circle cx="155.3" cy="513.6" r="0.65"/><circle cx="157.9" cy="505.6" r="0.65"/><circle cx="162.6" cy="520.3" r="0.65"/><circle cx="152.4" cy="506.9" r="0.65"/><circle cx="151.4" cy="514.5" r="0.65"/><circle cx="162.0" cy="520.1" r="0.65"/><circle cx="143.6" cy="506.4" r="0.65"/><circle cx="161.4" cy="515.6" r="0.65"/><circle cx="163.9" cy="514.8" r="0.65"/><circle cx="163.0" cy="510.9" r="0.65"/><circle cx="166.4" cy="523.8" r="0.65"/><circle cx="162.7" cy="508.3" r="0.65"/><circle cx="167.9" cy="520.2" r="0.65"/><circle cx="159.7" cy="505.2" r="0.65"/><circle cx="152.0" cy="510.1" r="0.65"/><circle cx="162.2" cy="524.3" r="0.65"/><circle cx="143.7" cy="514.0" r="0.65"/><circle cx="167.5" cy="514.2" r="0.65"/><circle cx="142.4" cy="508.9" r="0.65"/><circle cx="155.0" cy="500.8" r="0.65"/><circle cx="162.3" cy="503.9" r="0.65"/><circle cx="164.5" cy="522.1" r="0.65"/><circle cx="161.8" cy="518.0" r="0.65"/><circle cx="156.5" cy="524.3" r="0.65"/><circle cx="151.8" cy="518.5" r="0.65"/><circle cx="153.6" cy="514.2" r="0.65"/><circle cx="155.8" cy="517.1" r="0.65"/></g><g><circle cx="155.4" cy="521.3" r="0.72" fill="#f6b896"/><circle cx="147.7" cy="514.4" r="0.72" fill="#f9d6bc"/><circle cx="150.2" cy="508.3" r="0.72" fill="#f9d6bc"/><circle cx="159.5" cy="510.4" r="0.72" fill="#f6b896"/><circle cx="145.3" cy="505.4" r="0.72" fill="#ef9a64"/><circle cx="157.0" cy="512.1" r="0.72" fill="#f6b896"/><circle cx="165.6" cy="516.5" r="0.72" fill="#ef9a64"/><circle cx="165.7" cy="516.1" r="0.72" fill="#f4a582"/><circle cx="149.8" cy="504.8" r="0.72" fill="#ef9a64"/><circle cx="164.8" cy="523.3" r="0.72" fill="#f6b896"/><circle cx="154.6" cy="520.3" r="0.72" fill="#f4a582"/><circle cx="143.2" cy="513.3" r="0.72" fill="#ef9a64"/><circle cx="166.8" cy="521.6" r="0.72" fill="#f4a582"/><circle cx="166.4" cy="523.8" r="0.72" fill="#ef9a64"/><circle cx="156.5" cy="524.3" r="0.72" fill="#f4a582"/></g><g fill="#eaedf2"><circle cx="172.1" cy="515.4" r="0.65"/><circle cx="175.8" cy="512.4" r="0.65"/><circle cx="172.4" cy="517.2" r="0.65"/><circle cx="174.9" cy="510.8" r="0.65"/><circle cx="176.8" cy="517.8" r="0.65"/><circle cx="171.6" cy="514.9" r="0.65"/><circle cx="175.4" cy="511.0" r="0.65"/><circle cx="175.4" cy="518.6" r="0.65"/><circle cx="178.3" cy="510.7" r="0.65"/><circle cx="172.9" cy="514.6" r="0.65"/><circle cx="175.0" cy="510.6" r="0.65"/><circle cx="171.9" cy="508.1" r="0.65"/><circle cx="174.8" cy="517.4" r="0.65"/><circle cx="175.5" cy="515.8" r="0.65"/><circle cx="173.5" cy="509.7" r="0.65"/><circle cx="170.6" cy="516.8" r="0.65"/><circle cx="178.1" cy="513.0" r="0.65"/><circle cx="177.8" cy="510.0" r="0.65"/><circle cx="175.1" cy="518.7" r="0.65"/></g><g><circle cx="172.3" cy="515.9" r="0.72" fill="#f4a582"/></g><g fill="#eaedf2"><circle cx="155.8" cy="531.1" r="0.65"/><circle cx="154.9" cy="530.8" r="0.65"/><circle cx="156.5" cy="527.1" r="0.65"/><circle cx="158.6" cy="535.6" r="0.65"/><circle cx="154.0" cy="524.5" r="0.65"/><circle cx="152.7" cy="524.6" r="0.65"/><circle cx="156.5" cy="534.4" r="0.65"/><circle cx="156.8" cy="528.8" r="0.65"/><circle cx="155.6" cy="525.9" r="0.65"/><circle cx="159.7" cy="535.9" r="0.65"/><circle cx="153.8" cy="524.5" r="0.65"/><circle cx="154.0" cy="528.2" r="0.65"/><circle cx="158.3" cy="532.5" r="0.65"/><circle cx="157.2" cy="535.8" r="0.65"/><circle cx="158.0" cy="535.3" r="0.65"/><circle cx="157.4" cy="527.6" r="0.65"/><circle cx="156.7" cy="533.1" r="0.65"/><circle cx="154.1" cy="525.5" r="0.65"/><circle cx="153.9" cy="525.7" r="0.65"/><circle cx="158.7" cy="531.5" r="0.65"/><circle cx="155.6" cy="528.1" r="0.65"/><circle cx="157.0" cy="525.7" r="0.65"/><circle cx="153.8" cy="524.7" r="0.65"/></g><g></g><g fill="#eaedf2"><circle cx="160.4" cy="539.4" r="0.65"/><circle cx="165.8" cy="545.8" r="0.65"/><circle cx="160.7" cy="539.5" r="0.65"/><circle cx="165.9" cy="550.4" r="0.65"/><circle cx="159.6" cy="536.4" r="0.65"/><circle cx="169.4" cy="553.8" r="0.65"/><circle cx="169.0" cy="553.9" r="0.65"/><circle cx="164.4" cy="546.6" r="0.65"/><circle cx="159.3" cy="537.2" r="0.65"/><circle cx="165.3" cy="546.4" r="0.65"/><circle cx="164.1" cy="545.9" r="0.65"/><circle cx="169.1" cy="555.4" r="0.65"/><circle cx="162.4" cy="544.2" r="0.65"/><circle cx="168.8" cy="554.9" r="0.65"/><circle cx="169.0" cy="553.5" r="0.65"/><circle cx="163.1" cy="546.0" r="0.65"/><circle cx="168.9" cy="554.3" r="0.65"/><circle cx="164.5" cy="544.5" r="0.65"/><circle cx="158.4" cy="537.9" r="0.65"/><circle cx="160.9" cy="540.3" r="0.65"/><circle cx="165.2" cy="549.2" r="0.65"/><circle cx="163.6" cy="546.9" r="0.65"/><circle cx="161.3" cy="540.3" r="0.65"/><circle cx="165.0" cy="545.7" r="0.65"/><circle cx="168.5" cy="554.0" r="0.65"/><circle cx="162.4" cy="542.0" r="0.65"/><circle cx="168.5" cy="553.5" r="0.65"/><circle cx="164.1" cy="544.7" r="0.65"/><circle cx="164.4" cy="546.3" r="0.65"/><circle cx="169.1" cy="556.6" r="0.65"/><circle cx="164.3" cy="546.0" r="0.65"/><circle cx="159.4" cy="539.0" r="0.65"/><circle cx="164.1" cy="547.1" r="0.65"/><circle cx="158.4" cy="538.4" r="0.65"/><circle cx="170.7" cy="553.6" r="0.65"/><circle cx="160.2" cy="538.8" r="0.65"/><circle cx="161.9" cy="540.3" r="0.65"/><circle cx="162.1" cy="540.4" r="0.65"/><circle cx="161.3" cy="539.9" r="0.65"/><circle cx="170.0" cy="553.8" r="0.65"/><circle cx="157.1" cy="535.9" r="0.65"/><circle cx="159.0" cy="539.3" r="0.65"/><circle cx="169.3" cy="551.9" r="0.65"/><circle cx="167.9" cy="553.1" r="0.65"/><circle cx="167.8" cy="553.1" r="0.65"/><circle cx="163.1" cy="546.2" r="0.65"/><circle cx="168.2" cy="553.1" r="0.65"/><circle cx="160.3" cy="538.0" r="0.65"/><circle cx="169.2" cy="551.2" r="0.65"/><circle cx="161.5" cy="539.0" r="0.65"/><circle cx="165.2" cy="548.7" r="0.65"/></g><g><circle cx="164.1" cy="545.9" r="0.72" fill="#f8c8a8"/><circle cx="168.5" cy="550.4" r="0.72" fill="#f4a582"/><circle cx="163.4" cy="543.4" r="0.72" fill="#f8c8a8"/><circle cx="170.7" cy="553.6" r="0.72" fill="#f4a582"/><circle cx="159.0" cy="539.3" r="0.72" fill="#f4a582"/><circle cx="163.1" cy="546.2" r="0.72" fill="#f6b896"/><circle cx="167.3" cy="552.6" r="0.72" fill="#ef9a64"/><circle cx="164.4" cy="544.7" r="0.72" fill="#ef9a64"/></g><g fill="#eaedf2"><circle cx="181.4" cy="545.0" r="0.65"/><circle cx="177.0" cy="542.6" r="0.65"/><circle cx="182.6" cy="540.0" r="0.65"/><circle cx="183.9" cy="541.0" r="0.65"/><circle cx="180.7" cy="541.3" r="0.65"/><circle cx="185.9" cy="549.3" r="0.65"/><circle cx="181.7" cy="544.1" r="0.65"/><circle cx="179.4" cy="544.3" r="0.65"/><circle cx="183.7" cy="548.9" r="0.65"/><circle cx="182.3" cy="543.2" r="0.65"/><circle cx="179.2" cy="544.5" r="0.65"/><circle cx="183.8" cy="546.3" r="0.65"/><circle cx="178.9" cy="545.9" r="0.65"/><circle cx="183.4" cy="542.6" r="0.65"/><circle cx="179.5" cy="549.6" r="0.65"/><circle cx="183.8" cy="544.4" r="0.65"/><circle cx="176.1" cy="546.9" r="0.65"/><circle cx="179.8" cy="546.0" r="0.65"/><circle cx="180.4" cy="545.4" r="0.65"/><circle cx="186.6" cy="545.6" r="0.65"/><circle cx="176.5" cy="545.2" r="0.65"/><circle cx="180.3" cy="539.9" r="0.65"/><circle cx="180.7" cy="549.4" r="0.65"/><circle cx="182.2" cy="547.6" r="0.65"/><circle cx="184.8" cy="540.4" r="0.65"/><circle cx="180.1" cy="541.1" r="0.65"/><circle cx="187.5" cy="545.8" r="0.65"/><circle cx="178.1" cy="543.5" r="0.65"/><circle cx="175.2" cy="546.1" r="0.65"/><circle cx="177.8" cy="542.6" r="0.65"/><circle cx="184.2" cy="544.1" r="0.65"/><circle cx="186.6" cy="546.5" r="0.65"/><circle cx="186.3" cy="545.8" r="0.65"/><circle cx="177.2" cy="547.9" r="0.65"/><circle cx="182.8" cy="540.2" r="0.65"/><circle cx="182.1" cy="548.6" r="0.65"/><circle cx="183.8" cy="542.1" r="0.65"/><circle cx="177.5" cy="544.4" r="0.65"/><circle cx="185.9" cy="546.0" r="0.65"/><circle cx="176.4" cy="548.6" r="0.65"/><circle cx="178.8" cy="547.2" r="0.65"/><circle cx="180.0" cy="540.7" r="0.65"/><circle cx="186.4" cy="545.5" r="0.65"/><circle cx="179.5" cy="540.8" r="0.65"/><circle cx="181.5" cy="549.5" r="0.65"/><circle cx="177.4" cy="548.8" r="0.65"/><circle cx="183.8" cy="543.7" r="0.65"/><circle cx="181.2" cy="540.9" r="0.65"/><circle cx="186.0" cy="543.7" r="0.65"/><circle cx="186.3" cy="546.3" r="0.65"/><circle cx="177.8" cy="549.7" r="0.65"/><circle cx="182.7" cy="539.5" r="0.65"/><circle cx="177.2" cy="543.3" r="0.65"/><circle cx="180.0" cy="543.2" r="0.65"/><circle cx="181.0" cy="550.8" r="0.65"/><circle cx="183.7" cy="542.3" r="0.65"/><circle cx="178.6" cy="545.0" r="0.65"/><circle cx="181.9" cy="550.5" r="0.65"/><circle cx="182.3" cy="548.3" r="0.65"/><circle cx="186.3" cy="548.3" r="0.65"/><circle cx="183.2" cy="546.6" r="0.65"/><circle cx="179.7" cy="542.4" r="0.65"/><circle cx="185.3" cy="549.5" r="0.65"/><circle cx="179.0" cy="548.2" r="0.65"/><circle cx="184.6" cy="545.1" r="0.65"/></g><g><circle cx="181.4" cy="545.0" r="0.72" fill="#f9d6bc"/><circle cx="182.6" cy="540.0" r="0.72" fill="#f6b896"/><circle cx="183.7" cy="548.9" r="0.72" fill="#f8c8a8"/><circle cx="178.8" cy="544.3" r="0.72" fill="#ef9a64"/><circle cx="187.5" cy="546.4" r="0.72" fill="#f4a582"/><circle cx="183.4" cy="542.6" r="0.72" fill="#f8c8a8"/><circle cx="182.3" cy="543.8" r="0.72" fill="#f6b896"/><circle cx="181.4" cy="545.6" r="0.72" fill="#f4a582"/><circle cx="182.6" cy="540.0" r="0.72" fill="#ef9a64"/><circle cx="178.1" cy="543.5" r="0.72" fill="#f6b896"/><circle cx="182.1" cy="548.6" r="0.72" fill="#f6b896"/><circle cx="177.5" cy="544.4" r="0.72" fill="#f9d6bc"/><circle cx="178.8" cy="547.2" r="0.72" fill="#f4a582"/><circle cx="184.0" cy="548.7" r="0.72" fill="#f4a582"/><circle cx="179.5" cy="540.8" r="0.72" fill="#f6b896"/><circle cx="182.7" cy="539.5" r="0.72" fill="#b41c10"/><circle cx="183.7" cy="542.3" r="0.72" fill="#ef9a64"/><circle cx="178.6" cy="545.0" r="0.72" fill="#f8c8a8"/><circle cx="178.4" cy="545.8" r="0.72" fill="#ef9a64"/></g><g fill="#eaedf2"><circle cx="183.8" cy="542.6" r="0.65"/><circle cx="182.4" cy="543.5" r="0.65"/><circle cx="174.0" cy="542.4" r="0.65"/><circle cx="177.1" cy="540.8" r="0.65"/><circle cx="180.7" cy="544.1" r="0.65"/><circle cx="182.7" cy="541.8" r="0.65"/><circle cx="175.9" cy="538.1" r="0.65"/><circle cx="178.1" cy="541.9" r="0.65"/><circle cx="185.4" cy="545.8" r="0.65"/><circle cx="188.9" cy="542.4" r="0.65"/><circle cx="188.7" cy="546.3" r="0.65"/><circle cx="174.4" cy="539.9" r="0.65"/><circle cx="179.1" cy="549.4" r="0.65"/><circle cx="180.3" cy="550.9" r="0.65"/><circle cx="174.2" cy="544.8" r="0.65"/><circle cx="179.8" cy="540.2" r="0.65"/><circle cx="183.2" cy="550.8" r="0.65"/><circle cx="184.0" cy="540.1" r="0.65"/><circle cx="183.2" cy="538.3" r="0.65"/><circle cx="178.8" cy="539.2" r="0.65"/></g><g><circle cx="184.0" cy="540.1" r="0.72" fill="#ef9a64"/></g><g fill="#eaedf2"><circle cx="204.1" cy="524.2" r="0.65"/><circle cx="205.2" cy="522.1" r="0.65"/><circle cx="202.2" cy="519.6" r="0.65"/><circle cx="214.3" cy="529.0" r="0.65"/><circle cx="192.4" cy="514.7" r="0.65"/><circle cx="186.0" cy="516.2" r="0.65"/><circle cx="200.1" cy="529.7" r="0.65"/><circle cx="202.4" cy="521.9" r="0.65"/><circle cx="207.5" cy="519.7" r="0.65"/><circle cx="206.4" cy="535.1" r="0.65"/><circle cx="208.8" cy="521.2" r="0.65"/><circle cx="196.9" cy="520.3" r="0.65"/><circle cx="197.8" cy="531.8" r="0.65"/><circle cx="181.3" cy="515.9" r="0.65"/><circle cx="200.7" cy="517.3" r="0.65"/><circle cx="207.4" cy="539.9" r="0.65"/><circle cx="186.2" cy="512.7" r="0.65"/><circle cx="216.4" cy="527.0" r="0.65"/><circle cx="203.6" cy="522.3" r="0.65"/><circle cx="188.5" cy="519.5" r="0.65"/><circle cx="188.8" cy="518.0" r="0.65"/><circle cx="212.2" cy="520.0" r="0.65"/><circle cx="190.7" cy="521.9" r="0.65"/><circle cx="202.2" cy="525.6" r="0.65"/><circle cx="183.9" cy="516.9" r="0.65"/><circle cx="212.7" cy="534.1" r="0.65"/><circle cx="190.3" cy="517.2" r="0.65"/><circle cx="190.0" cy="513.9" r="0.65"/><circle cx="205.6" cy="531.7" r="0.65"/><circle cx="194.5" cy="523.6" r="0.65"/><circle cx="195.3" cy="516.2" r="0.65"/><circle cx="194.1" cy="519.1" r="0.65"/><circle cx="187.6" cy="515.3" r="0.65"/><circle cx="211.2" cy="535.7" r="0.65"/><circle cx="205.8" cy="521.7" r="0.65"/><circle cx="204.0" cy="528.5" r="0.65"/><circle cx="211.6" cy="527.4" r="0.65"/><circle cx="207.6" cy="523.4" r="0.65"/><circle cx="206.4" cy="523.8" r="0.65"/><circle cx="199.6" cy="530.5" r="0.65"/><circle cx="205.2" cy="521.6" r="0.65"/><circle cx="199.5" cy="526.3" r="0.65"/><circle cx="197.2" cy="531.3" r="0.65"/><circle cx="210.7" cy="539.1" r="0.65"/><circle cx="209.8" cy="527.7" r="0.65"/><circle cx="196.9" cy="514.5" r="0.65"/><circle cx="205.8" cy="525.5" r="0.65"/><circle cx="205.3" cy="523.0" r="0.65"/><circle cx="199.4" cy="519.0" r="0.65"/><circle cx="193.9" cy="522.2" r="0.65"/><circle cx="194.3" cy="512.3" r="0.65"/><circle cx="209.4" cy="530.6" r="0.65"/><circle cx="193.9" cy="513.1" r="0.65"/><circle cx="206.5" cy="520.8" r="0.65"/><circle cx="210.1" cy="522.5" r="0.65"/><circle cx="208.0" cy="523.4" r="0.65"/><circle cx="213.4" cy="534.9" r="0.65"/><circle cx="211.1" cy="524.5" r="0.65"/><circle cx="196.4" cy="526.8" r="0.65"/><circle cx="204.9" cy="534.4" r="0.65"/><circle cx="205.3" cy="528.7" r="0.65"/><circle cx="208.5" cy="535.3" r="0.65"/><circle cx="190.4" cy="519.8" r="0.65"/><circle cx="191.8" cy="519.6" r="0.65"/><circle cx="211.8" cy="528.7" r="0.65"/><circle cx="199.1" cy="524.6" r="0.65"/><circle cx="212.1" cy="536.3" r="0.65"/><circle cx="211.7" cy="519.6" r="0.65"/><circle cx="187.7" cy="513.4" r="0.65"/><circle cx="197.3" cy="526.7" r="0.65"/><circle cx="209.7" cy="517.9" r="0.65"/><circle cx="214.0" cy="528.8" r="0.65"/><circle cx="199.9" cy="524.3" r="0.65"/><circle cx="209.8" cy="529.9" r="0.65"/><circle cx="202.2" cy="517.3" r="0.65"/><circle cx="214.2" cy="528.9" r="0.65"/><circle cx="209.1" cy="540.8" r="0.65"/><circle cx="205.5" cy="516.5" r="0.65"/><circle cx="201.7" cy="521.5" r="0.65"/><circle cx="200.9" cy="516.5" r="0.65"/><circle cx="213.8" cy="521.7" r="0.65"/><circle cx="207.0" cy="524.9" r="0.65"/><circle cx="214.8" cy="527.9" r="0.65"/><circle cx="207.8" cy="526.9" r="0.65"/><circle cx="202.2" cy="528.3" r="0.65"/><circle cx="183.5" cy="516.1" r="0.65"/><circle cx="211.3" cy="518.7" r="0.65"/><circle cx="191.2" cy="513.9" r="0.65"/><circle cx="202.2" cy="525.9" r="0.65"/><circle cx="212.4" cy="526.4" r="0.65"/><circle cx="185.8" cy="514.7" r="0.65"/><circle cx="198.5" cy="528.1" r="0.65"/><circle cx="198.9" cy="523.0" r="0.65"/><circle cx="187.8" cy="515.7" r="0.65"/><circle cx="199.3" cy="520.7" r="0.65"/><circle cx="201.5" cy="518.9" r="0.65"/><circle cx="202.1" cy="535.7" r="0.65"/><circle cx="203.0" cy="532.9" r="0.65"/><circle cx="210.2" cy="522.2" r="0.65"/><circle cx="210.0" cy="525.9" r="0.65"/><circle cx="214.8" cy="524.4" r="0.65"/><circle cx="192.9" cy="516.1" r="0.65"/><circle cx="187.6" cy="518.5" r="0.65"/><circle cx="197.9" cy="527.0" r="0.65"/><circle cx="208.9" cy="539.5" r="0.65"/><circle cx="207.9" cy="531.2" r="0.65"/><circle cx="211.3" cy="535.8" r="0.65"/><circle cx="193.1" cy="516.7" r="0.65"/><circle cx="210.7" cy="540.4" r="0.65"/><circle cx="210.9" cy="536.3" r="0.65"/><circle cx="210.6" cy="535.7" r="0.65"/><circle cx="215.6" cy="528.0" r="0.65"/><circle cx="188.8" cy="517.8" r="0.65"/><circle cx="197.1" cy="519.0" r="0.65"/><circle cx="205.5" cy="533.5" r="0.65"/><circle cx="209.4" cy="532.6" r="0.65"/><circle cx="204.2" cy="537.3" r="0.65"/><circle cx="211.0" cy="536.0" r="0.65"/><circle cx="180.9" cy="515.2" r="0.65"/><circle cx="210.1" cy="524.6" r="0.65"/><circle cx="202.5" cy="525.8" r="0.65"/><circle cx="192.6" cy="518.3" r="0.65"/><circle cx="203.0" cy="520.7" r="0.65"/><circle cx="204.6" cy="536.4" r="0.65"/><circle cx="215.4" cy="522.9" r="0.65"/><circle cx="215.4" cy="527.3" r="0.65"/><circle cx="211.9" cy="527.5" r="0.65"/><circle cx="203.5" cy="523.3" r="0.65"/><circle cx="199.5" cy="532.4" r="0.65"/><circle cx="213.6" cy="527.0" r="0.65"/><circle cx="205.4" cy="528.8" r="0.65"/><circle cx="213.0" cy="534.0" r="0.65"/><circle cx="192.2" cy="516.0" r="0.65"/><circle cx="201.5" cy="513.2" r="0.65"/><circle cx="203.8" cy="520.4" r="0.65"/><circle cx="208.3" cy="520.7" r="0.65"/><circle cx="200.3" cy="524.6" r="0.65"/><circle cx="209.8" cy="532.4" r="0.65"/><circle cx="206.3" cy="532.9" r="0.65"/><circle cx="209.4" cy="522.4" r="0.65"/><circle cx="191.7" cy="513.4" r="0.65"/><circle cx="194.8" cy="523.6" r="0.65"/><circle cx="191.9" cy="516.4" r="0.65"/><circle cx="208.1" cy="526.1" r="0.65"/><circle cx="200.8" cy="532.3" r="0.65"/><circle cx="207.9" cy="520.2" r="0.65"/><circle cx="203.4" cy="519.7" r="0.65"/><circle cx="190.0" cy="519.2" r="0.65"/><circle cx="203.6" cy="532.9" r="0.65"/><circle cx="208.7" cy="523.8" r="0.65"/><circle cx="214.8" cy="534.4" r="0.65"/><circle cx="192.8" cy="523.8" r="0.65"/><circle cx="209.9" cy="522.5" r="0.65"/><circle cx="199.8" cy="527.7" r="0.65"/><circle cx="204.9" cy="539.3" r="0.65"/><circle cx="204.8" cy="529.4" r="0.65"/><circle cx="209.2" cy="537.4" r="0.65"/><circle cx="207.6" cy="536.8" r="0.65"/><circle cx="204.1" cy="538.6" r="0.65"/><circle cx="206.1" cy="530.5" r="0.65"/><circle cx="190.4" cy="513.9" r="0.65"/><circle cx="190.3" cy="518.3" r="0.65"/><circle cx="188.5" cy="514.7" r="0.65"/><circle cx="203.4" cy="522.2" r="0.65"/><circle cx="210.0" cy="528.2" r="0.65"/><circle cx="195.9" cy="513.7" r="0.65"/><circle cx="197.8" cy="515.9" r="0.65"/><circle cx="192.8" cy="517.6" r="0.65"/><circle cx="195.1" cy="520.4" r="0.65"/><circle cx="199.2" cy="525.2" r="0.65"/><circle cx="200.9" cy="533.2" r="0.65"/><circle cx="206.8" cy="533.7" r="0.65"/><circle cx="206.8" cy="531.0" r="0.65"/><circle cx="213.8" cy="536.0" r="0.65"/><circle cx="185.0" cy="515.1" r="0.65"/><circle cx="201.0" cy="527.3" r="0.65"/><circle cx="188.0" cy="519.5" r="0.65"/><circle cx="207.2" cy="523.5" r="0.65"/><circle cx="210.1" cy="537.5" r="0.65"/><circle cx="210.8" cy="535.8" r="0.65"/><circle cx="212.9" cy="528.1" r="0.65"/><circle cx="198.1" cy="531.3" r="0.65"/><circle cx="187.8" cy="519.2" r="0.65"/><circle cx="213.5" cy="523.5" r="0.65"/><circle cx="184.9" cy="517.9" r="0.65"/><circle cx="197.1" cy="529.7" r="0.65"/><circle cx="203.7" cy="533.4" r="0.65"/><circle cx="196.4" cy="513.9" r="0.65"/><circle cx="197.6" cy="524.0" r="0.65"/><circle cx="205.7" cy="526.2" r="0.65"/><circle cx="209.2" cy="536.9" r="0.65"/><circle cx="203.6" cy="534.4" r="0.65"/><circle cx="181.7" cy="514.7" r="0.65"/><circle cx="214.4" cy="531.3" r="0.65"/><circle cx="214.0" cy="519.8" r="0.65"/><circle cx="198.7" cy="530.7" r="0.65"/><circle cx="202.1" cy="536.2" r="0.65"/><circle cx="204.2" cy="518.1" r="0.65"/><circle cx="196.0" cy="515.2" r="0.65"/><circle cx="216.1" cy="528.5" r="0.65"/><circle cx="193.2" cy="514.7" r="0.65"/><circle cx="207.1" cy="537.7" r="0.65"/><circle cx="183.1" cy="515.3" r="0.65"/><circle cx="199.4" cy="525.7" r="0.65"/><circle cx="213.8" cy="537.3" r="0.65"/><circle cx="205.3" cy="537.7" r="0.65"/><circle cx="189.6" cy="521.0" r="0.65"/><circle cx="193.1" cy="521.7" r="0.65"/><circle cx="214.5" cy="535.1" r="0.65"/><circle cx="207.9" cy="520.2" r="0.65"/><circle cx="208.7" cy="538.9" r="0.65"/><circle cx="199.8" cy="531.6" r="0.65"/><circle cx="205.5" cy="532.9" r="0.65"/><circle cx="189.4" cy="519.6" r="0.65"/><circle cx="188.0" cy="519.7" r="0.65"/><circle cx="215.7" cy="531.4" r="0.65"/><circle cx="202.0" cy="531.8" r="0.65"/><circle cx="202.2" cy="533.0" r="0.65"/><circle cx="191.5" cy="513.8" r="0.65"/><circle cx="182.8" cy="512.2" r="0.65"/><circle cx="186.8" cy="514.9" r="0.65"/><circle cx="214.5" cy="522.2" r="0.65"/><circle cx="210.7" cy="518.7" r="0.65"/><circle cx="211.7" cy="536.3" r="0.65"/><circle cx="204.9" cy="520.3" r="0.65"/><circle cx="204.5" cy="529.7" r="0.65"/><circle cx="204.6" cy="517.3" r="0.65"/><circle cx="188.5" cy="513.8" r="0.65"/><circle cx="187.4" cy="518.5" r="0.65"/><circle cx="194.4" cy="522.9" r="0.65"/><circle cx="203.8" cy="526.2" r="0.65"/><circle cx="204.7" cy="537.3" r="0.65"/><circle cx="196.4" cy="515.3" r="0.65"/><circle cx="183.7" cy="515.4" r="0.65"/><circle cx="197.9" cy="517.1" r="0.65"/><circle cx="184.6" cy="513.9" r="0.65"/><circle cx="214.7" cy="528.7" r="0.65"/><circle cx="207.6" cy="529.0" r="0.65"/><circle cx="214.9" cy="527.8" r="0.65"/><circle cx="189.1" cy="517.0" r="0.65"/><circle cx="212.0" cy="518.3" r="0.65"/><circle cx="193.6" cy="515.5" r="0.65"/><circle cx="216.4" cy="526.5" r="0.65"/><circle cx="204.3" cy="527.5" r="0.65"/><circle cx="207.5" cy="528.2" r="0.65"/><circle cx="202.5" cy="531.7" r="0.65"/><circle cx="215.0" cy="534.4" r="0.65"/><circle cx="211.8" cy="523.0" r="0.65"/><circle cx="188.3" cy="512.9" r="0.65"/><circle cx="203.1" cy="518.4" r="0.65"/><circle cx="210.9" cy="518.0" r="0.65"/><circle cx="217.0" cy="525.7" r="0.65"/><circle cx="200.9" cy="533.5" r="0.65"/><circle cx="185.8" cy="516.0" r="0.65"/><circle cx="199.5" cy="529.5" r="0.65"/><circle cx="188.9" cy="516.9" r="0.65"/><circle cx="201.8" cy="525.6" r="0.65"/><circle cx="204.6" cy="538.0" r="0.65"/><circle cx="214.9" cy="524.2" r="0.65"/><circle cx="190.9" cy="520.6" r="0.65"/><circle cx="211.5" cy="536.4" r="0.65"/><circle cx="201.2" cy="517.3" r="0.65"/><circle cx="199.5" cy="532.5" r="0.65"/><circle cx="203.2" cy="526.2" r="0.65"/><circle cx="205.2" cy="533.4" r="0.65"/><circle cx="204.1" cy="517.3" r="0.65"/><circle cx="213.3" cy="518.9" r="0.65"/><circle cx="207.3" cy="522.8" r="0.65"/><circle cx="204.6" cy="535.2" r="0.65"/><circle cx="188.2" cy="519.9" r="0.65"/><circle cx="181.6" cy="515.9" r="0.65"/><circle cx="195.2" cy="524.6" r="0.65"/><circle cx="214.9" cy="529.4" r="0.65"/><circle cx="196.3" cy="517.2" r="0.65"/><circle cx="203.9" cy="531.2" r="0.65"/><circle cx="191.3" cy="519.6" r="0.65"/><circle cx="210.5" cy="530.1" r="0.65"/><circle cx="211.5" cy="538.5" r="0.65"/><circle cx="201.9" cy="517.8" r="0.65"/><circle cx="206.9" cy="520.1" r="0.65"/><circle cx="197.9" cy="519.7" r="0.65"/><circle cx="186.3" cy="514.6" r="0.65"/><circle cx="203.2" cy="533.0" r="0.65"/><circle cx="198.3" cy="517.5" r="0.65"/><circle cx="182.2" cy="516.5" r="0.65"/><circle cx="209.8" cy="535.9" r="0.65"/><circle cx="188.8" cy="514.6" r="0.65"/><circle cx="204.6" cy="529.0" r="0.65"/><circle cx="201.7" cy="515.1" r="0.65"/><circle cx="203.6" cy="519.1" r="0.65"/><circle cx="204.6" cy="519.8" r="0.65"/><circle cx="208.6" cy="537.0" r="0.65"/></g><g><circle cx="200.7" cy="517.3" r="0.72" fill="#f4a582"/><circle cx="188.8" cy="518.0" r="0.72" fill="#f8c8a8"/><circle cx="200.3" cy="528.5" r="0.72" fill="#f8c8a8"/><circle cx="187.6" cy="515.3" r="0.72" fill="#f6b896"/><circle cx="188.4" cy="516.1" r="0.72" fill="#f4a582"/><circle cx="199.5" cy="527.9" r="0.72" fill="#f9d6bc"/><circle cx="199.4" cy="519.0" r="0.72" fill="#f6b896"/><circle cx="182.4" cy="517.2" r="0.72" fill="#f4a582"/><circle cx="209.4" cy="530.6" r="0.72" fill="#f9d6bc"/><circle cx="213.4" cy="534.9" r="0.72" fill="#f4a582"/><circle cx="199.1" cy="524.6" r="0.72" fill="#f8c8a8"/><circle cx="191.1" cy="518.9" r="0.72" fill="#f6b896"/><circle cx="212.4" cy="526.4" r="0.72" fill="#f8c8a8"/><circle cx="185.8" cy="514.7" r="0.72" fill="#f8c8a8"/><circle cx="187.6" cy="518.5" r="0.72" fill="#f8c8a8"/><circle cx="212.3" cy="520.9" r="0.72" fill="#f8c8a8"/><circle cx="215.6" cy="528.0" r="0.72" fill="#f8c8a8"/><circle cx="213.1" cy="532.1" r="0.72" fill="#f6b896"/><circle cx="203.5" cy="523.3" r="0.72" fill="#b41c10"/><circle cx="203.7" cy="535.5" r="0.72" fill="#f8c8a8"/><circle cx="200.8" cy="532.3" r="0.72" fill="#f4a582"/><circle cx="190.0" cy="519.2" r="0.72" fill="#ef9a64"/><circle cx="199.8" cy="527.7" r="0.72" fill="#d84a22"/><circle cx="204.9" cy="539.3" r="0.72" fill="#ef9a64"/><circle cx="207.6" cy="536.8" r="0.72" fill="#f4a582"/><circle cx="195.9" cy="513.7" r="0.72" fill="#f6b896"/><circle cx="201.8" cy="524.0" r="0.72" fill="#f6b896"/><circle cx="188.0" cy="519.5" r="0.72" fill="#f8c8a8"/><circle cx="184.9" cy="517.9" r="0.72" fill="#f6b896"/><circle cx="197.6" cy="524.0" r="0.72" fill="#f4a582"/><circle cx="205.0" cy="533.6" r="0.72" fill="#f4a582"/><circle cx="181.7" cy="514.7" r="0.72" fill="#f4a582"/><circle cx="214.0" cy="519.8" r="0.72" fill="#f6b896"/><circle cx="215.7" cy="531.4" r="0.72" fill="#f4a582"/><circle cx="211.7" cy="536.3" r="0.72" fill="#f4a582"/><circle cx="185.6" cy="514.8" r="0.72" fill="#f6b896"/><circle cx="194.4" cy="522.9" r="0.72" fill="#f9d6bc"/><circle cx="204.7" cy="537.3" r="0.72" fill="#f9d6bc"/><circle cx="212.0" cy="518.3" r="0.72" fill="#b41c10"/><circle cx="193.6" cy="515.5" r="0.72" fill="#ef9a64"/><circle cx="204.3" cy="527.5" r="0.72" fill="#f8c8a8"/><circle cx="202.5" cy="531.7" r="0.72" fill="#f4a582"/><circle cx="203.1" cy="518.4" r="0.72" fill="#f6b896"/><circle cx="201.2" cy="517.3" r="0.72" fill="#ef9a64"/><circle cx="205.7" cy="519.6" r="0.72" fill="#f6b896"/><circle cx="214.9" cy="529.4" r="0.72" fill="#ef9a64"/><circle cx="191.3" cy="519.6" r="0.72" fill="#f4a582"/><circle cx="201.9" cy="517.8" r="0.72" fill="#ef9a64"/><circle cx="206.9" cy="520.1" r="0.72" fill="#f9d6bc"/><circle cx="209.6" cy="536.3" r="0.72" fill="#ef9a64"/><circle cx="188.8" cy="514.6" r="0.72" fill="#f4a582"/><circle cx="201.7" cy="515.1" r="0.72" fill="#f6b896"/></g><g fill="#eaedf2"><circle cx="187.9" cy="531.3" r="0.65"/><circle cx="198.9" cy="540.7" r="0.65"/><circle cx="205.0" cy="545.9" r="0.65"/><circle cx="191.8" cy="536.4" r="0.65"/><circle cx="182.0" cy="518.3" r="0.65"/><circle cx="190.9" cy="526.8" r="0.65"/><circle cx="182.5" cy="523.8" r="0.65"/><circle cx="204.0" cy="544.9" r="0.65"/><circle cx="188.5" cy="523.9" r="0.65"/><circle cx="186.1" cy="531.0" r="0.65"/><circle cx="202.8" cy="542.2" r="0.65"/><circle cx="186.4" cy="527.7" r="0.65"/><circle cx="189.5" cy="527.3" r="0.65"/><circle cx="190.5" cy="536.3" r="0.65"/><circle cx="201.5" cy="547.7" r="0.65"/><circle cx="199.4" cy="540.2" r="0.65"/><circle cx="194.1" cy="526.8" r="0.65"/><circle cx="202.6" cy="543.1" r="0.65"/><circle cx="198.0" cy="536.9" r="0.65"/><circle cx="194.3" cy="530.6" r="0.65"/><circle cx="200.9" cy="543.8" r="0.65"/><circle cx="181.0" cy="518.2" r="0.65"/><circle cx="191.9" cy="528.9" r="0.65"/><circle cx="201.5" cy="546.5" r="0.65"/><circle cx="193.5" cy="531.5" r="0.65"/><circle cx="189.1" cy="527.6" r="0.65"/><circle cx="203.7" cy="547.8" r="0.65"/><circle cx="191.1" cy="528.2" r="0.65"/><circle cx="184.6" cy="525.7" r="0.65"/><circle cx="193.0" cy="537.4" r="0.65"/><circle cx="200.3" cy="543.8" r="0.65"/><circle cx="190.9" cy="535.3" r="0.65"/><circle cx="186.3" cy="524.8" r="0.65"/><circle cx="190.8" cy="532.4" r="0.65"/><circle cx="199.1" cy="539.9" r="0.65"/><circle cx="185.6" cy="524.2" r="0.65"/><circle cx="201.3" cy="537.7" r="0.65"/><circle cx="181.4" cy="522.2" r="0.65"/><circle cx="187.8" cy="532.1" r="0.65"/><circle cx="190.9" cy="527.3" r="0.65"/><circle cx="191.1" cy="525.5" r="0.65"/><circle cx="194.5" cy="537.2" r="0.65"/><circle cx="199.6" cy="546.4" r="0.65"/><circle cx="183.1" cy="527.7" r="0.65"/><circle cx="202.8" cy="541.3" r="0.65"/><circle cx="195.5" cy="537.7" r="0.65"/><circle cx="194.4" cy="528.9" r="0.65"/><circle cx="184.1" cy="519.7" r="0.65"/></g><g><circle cx="190.9" cy="526.8" r="0.72" fill="#ef9a64"/><circle cx="182.5" cy="523.8" r="0.72" fill="#ef9a64"/><circle cx="201.5" cy="546.5" r="0.72" fill="#f6b896"/><circle cx="191.1" cy="528.2" r="0.72" fill="#f6b896"/><circle cx="194.4" cy="528.9" r="0.72" fill="#f9d6bc"/></g><g fill="#eaedf2"><circle cx="216.2" cy="553.8" r="0.65"/><circle cx="209.4" cy="545.3" r="0.65"/><circle cx="212.0" cy="555.4" r="0.65"/><circle cx="211.9" cy="549.0" r="0.65"/><circle cx="212.2" cy="550.4" r="0.65"/><circle cx="215.3" cy="544.2" r="0.65"/><circle cx="212.1" cy="546.5" r="0.65"/><circle cx="212.0" cy="555.8" r="0.65"/><circle cx="211.8" cy="554.1" r="0.65"/><circle cx="210.4" cy="551.8" r="0.65"/><circle cx="210.3" cy="543.6" r="0.65"/><circle cx="209.6" cy="544.3" r="0.65"/><circle cx="214.9" cy="552.3" r="0.65"/><circle cx="213.5" cy="555.9" r="0.65"/><circle cx="212.6" cy="543.0" r="0.65"/><circle cx="215.0" cy="554.8" r="0.65"/><circle cx="212.2" cy="541.2" r="0.65"/><circle cx="216.0" cy="552.9" r="0.65"/><circle cx="214.7" cy="550.8" r="0.65"/><circle cx="210.1" cy="542.5" r="0.65"/><circle cx="210.6" cy="550.4" r="0.65"/><circle cx="211.2" cy="543.7" r="0.65"/><circle cx="214.7" cy="542.7" r="0.65"/><circle cx="210.6" cy="542.3" r="0.65"/><circle cx="211.9" cy="552.6" r="0.65"/><circle cx="214.5" cy="540.2" r="0.65"/><circle cx="212.6" cy="553.6" r="0.65"/><circle cx="213.7" cy="547.6" r="0.65"/><circle cx="216.1" cy="550.2" r="0.65"/><circle cx="216.3" cy="549.5" r="0.65"/><circle cx="212.4" cy="551.4" r="0.65"/><circle cx="212.4" cy="556.6" r="0.65"/><circle cx="214.0" cy="545.2" r="0.65"/><circle cx="212.1" cy="544.4" r="0.65"/><circle cx="211.7" cy="553.0" r="0.65"/><circle cx="211.2" cy="550.4" r="0.65"/><circle cx="213.0" cy="544.5" r="0.65"/><circle cx="216.5" cy="553.0" r="0.65"/><circle cx="210.4" cy="553.1" r="0.65"/><circle cx="213.7" cy="555.7" r="0.65"/><circle cx="213.8" cy="547.2" r="0.65"/><circle cx="215.3" cy="541.4" r="0.65"/><circle cx="211.4" cy="541.6" r="0.65"/><circle cx="214.9" cy="544.1" r="0.65"/><circle cx="210.0" cy="548.3" r="0.65"/><circle cx="214.8" cy="543.4" r="0.65"/><circle cx="212.1" cy="555.9" r="0.65"/><circle cx="212.5" cy="549.7" r="0.65"/><circle cx="215.5" cy="553.0" r="0.65"/><circle cx="212.3" cy="556.4" r="0.65"/><circle cx="212.9" cy="541.7" r="0.65"/><circle cx="215.0" cy="542.2" r="0.65"/><circle cx="214.5" cy="540.5" r="0.65"/><circle cx="215.0" cy="541.9" r="0.65"/><circle cx="214.2" cy="546.3" r="0.65"/><circle cx="211.1" cy="554.0" r="0.65"/><circle cx="209.5" cy="548.1" r="0.65"/><circle cx="212.8" cy="547.9" r="0.65"/><circle cx="214.8" cy="552.5" r="0.65"/><circle cx="210.6" cy="542.0" r="0.65"/><circle cx="210.7" cy="548.5" r="0.65"/><circle cx="211.8" cy="542.5" r="0.65"/><circle cx="216.5" cy="548.0" r="0.65"/><circle cx="215.0" cy="543.7" r="0.65"/><circle cx="210.5" cy="542.0" r="0.65"/><circle cx="211.3" cy="546.1" r="0.65"/><circle cx="213.5" cy="553.1" r="0.65"/><circle cx="216.1" cy="546.1" r="0.65"/><circle cx="216.7" cy="546.4" r="0.65"/><circle cx="209.4" cy="543.2" r="0.65"/><circle cx="210.2" cy="544.6" r="0.65"/></g><g><circle cx="216.2" cy="553.8" r="0.72" fill="#f4a582"/><circle cx="209.4" cy="545.3" r="0.72" fill="#f9d6bc"/><circle cx="211.9" cy="549.0" r="0.72" fill="#f6b896"/><circle cx="209.4" cy="543.0" r="0.72" fill="#ef9a64"/><circle cx="210.3" cy="543.6" r="0.72" fill="#f9d6bc"/><circle cx="214.9" cy="552.3" r="0.72" fill="#ef9a64"/><circle cx="212.6" cy="543.0" r="0.72" fill="#f4a582"/><circle cx="211.2" cy="543.7" r="0.72" fill="#f4a582"/><circle cx="210.6" cy="542.3" r="0.72" fill="#f6b896"/><circle cx="214.5" cy="540.2" r="0.72" fill="#f9d6bc"/><circle cx="212.6" cy="553.6" r="0.72" fill="#f8c8a8"/><circle cx="211.8" cy="546.6" r="0.72" fill="#f4a582"/><circle cx="210.3" cy="542.7" r="0.72" fill="#f8c8a8"/><circle cx="211.2" cy="550.4" r="0.72" fill="#ef9a64"/><circle cx="216.5" cy="553.0" r="0.72" fill="#f6b896"/><circle cx="214.9" cy="544.1" r="0.72" fill="#f6b896"/><circle cx="212.1" cy="555.9" r="0.72" fill="#f4a582"/><circle cx="212.9" cy="541.7" r="0.72" fill="#f4a582"/><circle cx="211.1" cy="554.0" r="0.72" fill="#f9d6bc"/><circle cx="210.6" cy="542.0" r="0.72" fill="#f4a582"/><circle cx="211.8" cy="542.5" r="0.72" fill="#f8c8a8"/><circle cx="216.5" cy="548.0" r="0.72" fill="#ef9a64"/><circle cx="215.3" cy="544.0" r="0.72" fill="#f4a582"/><circle cx="214.1" cy="549.0" r="0.72" fill="#f6b896"/><circle cx="215.9" cy="547.5" r="0.72" fill="#f4a582"/><circle cx="210.5" cy="551.7" r="0.72" fill="#f9d6bc"/><circle cx="210.5" cy="542.0" r="0.72" fill="#ef9a64"/><circle cx="211.3" cy="546.1" r="0.72" fill="#f9d6bc"/><circle cx="216.7" cy="546.4" r="0.72" fill="#f4a582"/></g><g fill="#eaedf2"><circle cx="219.4" cy="558.5" r="0.65"/><circle cx="219.4" cy="558.3" r="0.65"/><circle cx="221.4" cy="559.4" r="0.65"/><circle cx="215.8" cy="555.1" r="0.65"/><circle cx="214.8" cy="555.2" r="0.65"/><circle cx="218.9" cy="558.5" r="0.65"/><circle cx="217.3" cy="558.3" r="0.65"/><circle cx="217.1" cy="556.7" r="0.65"/><circle cx="217.7" cy="558.0" r="0.65"/><circle cx="217.4" cy="556.5" r="0.65"/><circle cx="215.7" cy="555.2" r="0.65"/><circle cx="216.3" cy="556.6" r="0.65"/><circle cx="220.5" cy="559.7" r="0.65"/><circle cx="215.5" cy="557.2" r="0.65"/></g><g><circle cx="219.4" cy="558.5" r="0.72" fill="#f4a582"/><circle cx="221.4" cy="559.4" r="0.72" fill="#f6b896"/><circle cx="217.3" cy="558.3" r="0.72" fill="#f4a582"/></g><g fill="#eaedf2"><circle cx="236.8" cy="521.5" r="0.65"/><circle cx="228.4" cy="528.0" r="0.65"/><circle cx="231.1" cy="521.1" r="0.65"/><circle cx="236.7" cy="525.3" r="0.65"/><circle cx="241.1" cy="522.5" r="0.65"/><circle cx="230.6" cy="520.4" r="0.65"/><circle cx="226.7" cy="528.1" r="0.65"/><circle cx="227.3" cy="528.3" r="0.65"/><circle cx="242.8" cy="527.3" r="0.65"/><circle cx="227.7" cy="527.7" r="0.65"/><circle cx="226.9" cy="530.6" r="0.65"/><circle cx="242.8" cy="526.6" r="0.65"/><circle cx="230.9" cy="523.1" r="0.65"/><circle cx="227.5" cy="525.5" r="0.65"/><circle cx="234.2" cy="521.5" r="0.65"/><circle cx="224.5" cy="525.4" r="0.65"/><circle cx="231.6" cy="524.2" r="0.65"/><circle cx="236.6" cy="521.0" r="0.65"/><circle cx="232.4" cy="522.2" r="0.65"/><circle cx="231.8" cy="523.6" r="0.65"/><circle cx="224.9" cy="524.0" r="0.65"/><circle cx="227.0" cy="522.7" r="0.65"/><circle cx="238.7" cy="521.3" r="0.65"/><circle cx="223.2" cy="529.3" r="0.65"/><circle cx="227.1" cy="518.8" r="0.65"/><circle cx="240.9" cy="521.6" r="0.65"/><circle cx="226.4" cy="519.9" r="0.65"/><circle cx="231.1" cy="523.5" r="0.65"/><circle cx="225.7" cy="531.9" r="0.65"/><circle cx="221.6" cy="520.6" r="0.65"/><circle cx="224.6" cy="531.2" r="0.65"/><circle cx="242.4" cy="523.0" r="0.65"/><circle cx="229.2" cy="521.1" r="0.65"/><circle cx="239.9" cy="523.6" r="0.65"/><circle cx="229.6" cy="523.9" r="0.65"/><circle cx="234.4" cy="521.9" r="0.65"/><circle cx="227.5" cy="529.0" r="0.65"/><circle cx="226.3" cy="527.8" r="0.65"/><circle cx="225.9" cy="518.9" r="0.65"/><circle cx="226.0" cy="527.4" r="0.65"/><circle cx="234.6" cy="525.5" r="0.65"/><circle cx="219.7" cy="521.4" r="0.65"/><circle cx="227.2" cy="530.9" r="0.65"/><circle cx="223.4" cy="530.3" r="0.65"/><circle cx="223.5" cy="526.6" r="0.65"/><circle cx="227.6" cy="518.9" r="0.65"/><circle cx="223.0" cy="527.1" r="0.65"/><circle cx="233.0" cy="523.8" r="0.65"/><circle cx="227.4" cy="524.4" r="0.65"/><circle cx="227.5" cy="530.4" r="0.65"/><circle cx="227.0" cy="523.1" r="0.65"/><circle cx="224.7" cy="519.6" r="0.65"/><circle cx="226.1" cy="530.1" r="0.65"/><circle cx="226.4" cy="524.2" r="0.65"/><circle cx="228.4" cy="520.7" r="0.65"/><circle cx="229.8" cy="524.0" r="0.65"/><circle cx="223.1" cy="529.4" r="0.65"/><circle cx="230.6" cy="521.1" r="0.65"/><circle cx="221.3" cy="527.4" r="0.65"/><circle cx="235.9" cy="520.3" r="0.65"/><circle cx="231.7" cy="522.8" r="0.65"/><circle cx="233.0" cy="520.3" r="0.65"/><circle cx="230.9" cy="527.0" r="0.65"/><circle cx="229.7" cy="529.9" r="0.65"/><circle cx="227.2" cy="524.6" r="0.65"/><circle cx="238.5" cy="522.1" r="0.65"/><circle cx="241.6" cy="525.6" r="0.65"/><circle cx="229.6" cy="529.9" r="0.65"/><circle cx="237.3" cy="525.8" r="0.65"/><circle cx="235.3" cy="520.1" r="0.65"/><circle cx="220.9" cy="522.5" r="0.65"/><circle cx="224.6" cy="531.2" r="0.65"/><circle cx="240.6" cy="522.3" r="0.65"/><circle cx="238.7" cy="521.6" r="0.65"/><circle cx="233.1" cy="526.9" r="0.65"/><circle cx="237.6" cy="524.8" r="0.65"/><circle cx="224.6" cy="528.8" r="0.65"/><circle cx="227.0" cy="521.3" r="0.65"/><circle cx="226.7" cy="528.6" r="0.65"/><circle cx="236.4" cy="524.0" r="0.65"/><circle cx="222.1" cy="528.4" r="0.65"/><circle cx="226.9" cy="529.7" r="0.65"/><circle cx="235.7" cy="525.1" r="0.65"/><circle cx="227.6" cy="526.4" r="0.65"/><circle cx="222.7" cy="524.5" r="0.65"/><circle cx="233.1" cy="526.8" r="0.65"/><circle cx="229.5" cy="527.8" r="0.65"/><circle cx="219.0" cy="524.1" r="0.65"/><circle cx="231.7" cy="520.5" r="0.65"/><circle cx="221.6" cy="526.4" r="0.65"/><circle cx="222.1" cy="518.9" r="0.65"/><circle cx="239.8" cy="526.3" r="0.65"/><circle cx="240.2" cy="522.7" r="0.65"/><circle cx="238.5" cy="521.6" r="0.65"/><circle cx="227.5" cy="525.1" r="0.65"/><circle cx="223.6" cy="519.6" r="0.65"/><circle cx="231.1" cy="521.9" r="0.65"/><circle cx="227.5" cy="529.4" r="0.65"/><circle cx="222.8" cy="518.5" r="0.65"/><circle cx="226.1" cy="519.9" r="0.65"/><circle cx="231.8" cy="524.5" r="0.65"/><circle cx="229.5" cy="529.1" r="0.65"/><circle cx="241.7" cy="525.0" r="0.65"/><circle cx="230.2" cy="526.4" r="0.65"/><circle cx="242.1" cy="524.9" r="0.65"/><circle cx="220.0" cy="522.6" r="0.65"/><circle cx="222.3" cy="527.3" r="0.65"/><circle cx="226.0" cy="526.7" r="0.65"/><circle cx="226.4" cy="520.2" r="0.65"/><circle cx="227.4" cy="520.9" r="0.65"/><circle cx="228.8" cy="520.1" r="0.65"/><circle cx="232.2" cy="522.6" r="0.65"/><circle cx="228.1" cy="528.9" r="0.65"/><circle cx="229.6" cy="529.0" r="0.65"/><circle cx="224.5" cy="520.5" r="0.65"/><circle cx="228.8" cy="518.9" r="0.65"/><circle cx="225.3" cy="526.5" r="0.65"/><circle cx="225.3" cy="528.4" r="0.65"/><circle cx="222.8" cy="519.5" r="0.65"/><circle cx="232.0" cy="520.3" r="0.65"/><circle cx="223.7" cy="521.7" r="0.65"/><circle cx="219.0" cy="519.3" r="0.65"/><circle cx="238.3" cy="522.3" r="0.65"/><circle cx="231.4" cy="521.0" r="0.65"/><circle cx="224.4" cy="527.3" r="0.65"/><circle cx="223.9" cy="529.7" r="0.65"/><circle cx="234.9" cy="521.2" r="0.65"/><circle cx="235.1" cy="521.1" r="0.65"/><circle cx="230.3" cy="528.3" r="0.65"/></g><g><circle cx="229.3" cy="520.6" r="0.72" fill="#f4a582"/><circle cx="231.1" cy="521.1" r="0.72" fill="#f6b896"/><circle cx="230.9" cy="520.2" r="0.72" fill="#f6b896"/><circle cx="226.7" cy="528.1" r="0.72" fill="#ef9a64"/><circle cx="227.7" cy="527.7" r="0.72" fill="#f8c8a8"/><circle cx="234.2" cy="521.5" r="0.72" fill="#f4a582"/><circle cx="242.4" cy="523.0" r="0.72" fill="#f9d6bc"/><circle cx="226.3" cy="527.8" r="0.72" fill="#f6b896"/><circle cx="227.4" cy="524.4" r="0.72" fill="#f4a582"/><circle cx="227.0" cy="523.1" r="0.72" fill="#f6b896"/><circle cx="233.0" cy="520.3" r="0.72" fill="#f9d6bc"/><circle cx="232.2" cy="520.5" r="0.72" fill="#f6b896"/><circle cx="235.4" cy="520.1" r="0.72" fill="#ef9a64"/><circle cx="232.6" cy="524.5" r="0.72" fill="#f6b896"/><circle cx="229.5" cy="529.1" r="0.72" fill="#f4a582"/><circle cx="230.2" cy="526.4" r="0.72" fill="#f4a582"/><circle cx="227.4" cy="530.6" r="0.72" fill="#f4a582"/><circle cx="222.3" cy="527.3" r="0.72" fill="#f4a582"/><circle cx="226.4" cy="520.2" r="0.72" fill="#f6b896"/><circle cx="232.2" cy="522.6" r="0.72" fill="#f9d6bc"/><circle cx="225.3" cy="528.4" r="0.72" fill="#f9d6bc"/><circle cx="223.7" cy="521.7" r="0.72" fill="#f4a582"/><circle cx="231.3" cy="521.6" r="0.72" fill="#f4a582"/><circle cx="223.9" cy="529.7" r="0.72" fill="#f4a582"/></g><g fill="#eaedf2"><circle cx="247.5" cy="529.3" r="0.65"/><circle cx="255.0" cy="531.8" r="0.65"/><circle cx="252.8" cy="531.7" r="0.65"/><circle cx="250.0" cy="528.8" r="0.65"/><circle cx="257.8" cy="529.5" r="0.65"/><circle cx="253.3" cy="528.0" r="0.65"/><circle cx="252.6" cy="530.3" r="0.65"/><circle cx="255.2" cy="531.9" r="0.65"/><circle cx="258.0" cy="533.6" r="0.65"/><circle cx="257.4" cy="537.9" r="0.65"/><circle cx="249.7" cy="534.1" r="0.65"/><circle cx="251.9" cy="532.1" r="0.65"/><circle cx="257.9" cy="537.4" r="0.65"/><circle cx="248.7" cy="531.2" r="0.65"/><circle cx="255.4" cy="533.0" r="0.65"/><circle cx="262.5" cy="530.1" r="0.65"/><circle cx="249.2" cy="528.5" r="0.65"/><circle cx="256.3" cy="531.2" r="0.65"/><circle cx="259.0" cy="529.0" r="0.65"/><circle cx="254.8" cy="538.4" r="0.65"/><circle cx="256.3" cy="532.1" r="0.65"/><circle cx="253.0" cy="535.0" r="0.65"/><circle cx="248.5" cy="527.4" r="0.65"/><circle cx="254.9" cy="538.2" r="0.65"/><circle cx="258.0" cy="526.8" r="0.65"/><circle cx="254.2" cy="530.2" r="0.65"/><circle cx="257.3" cy="531.8" r="0.65"/><circle cx="256.3" cy="532.2" r="0.65"/><circle cx="251.5" cy="534.6" r="0.65"/><circle cx="254.1" cy="530.7" r="0.65"/><circle cx="253.2" cy="534.1" r="0.65"/><circle cx="255.7" cy="534.3" r="0.65"/><circle cx="263.8" cy="527.4" r="0.65"/><circle cx="262.1" cy="527.0" r="0.65"/><circle cx="251.3" cy="531.9" r="0.65"/><circle cx="251.1" cy="536.4" r="0.65"/><circle cx="257.0" cy="535.0" r="0.65"/><circle cx="253.0" cy="534.8" r="0.65"/><circle cx="256.8" cy="532.0" r="0.65"/><circle cx="254.4" cy="534.2" r="0.65"/><circle cx="253.1" cy="528.8" r="0.65"/><circle cx="256.6" cy="528.6" r="0.65"/><circle cx="262.5" cy="529.8" r="0.65"/><circle cx="257.8" cy="530.4" r="0.65"/><circle cx="262.6" cy="528.8" r="0.65"/><circle cx="248.8" cy="531.5" r="0.65"/><circle cx="248.3" cy="530.0" r="0.65"/><circle cx="251.4" cy="537.6" r="0.65"/><circle cx="257.1" cy="536.3" r="0.65"/><circle cx="249.2" cy="532.0" r="0.65"/><circle cx="261.1" cy="529.6" r="0.65"/><circle cx="255.5" cy="534.5" r="0.65"/><circle cx="251.7" cy="528.0" r="0.65"/><circle cx="249.8" cy="532.6" r="0.65"/><circle cx="254.2" cy="538.3" r="0.65"/><circle cx="259.6" cy="530.9" r="0.65"/><circle cx="256.7" cy="530.6" r="0.65"/><circle cx="255.4" cy="533.1" r="0.65"/><circle cx="250.9" cy="537.1" r="0.65"/><circle cx="255.8" cy="532.3" r="0.65"/><circle cx="261.0" cy="527.8" r="0.65"/><circle cx="254.0" cy="532.4" r="0.65"/><circle cx="258.1" cy="532.8" r="0.65"/><circle cx="258.2" cy="534.1" r="0.65"/><circle cx="252.9" cy="533.5" r="0.65"/><circle cx="257.7" cy="529.5" r="0.65"/><circle cx="247.7" cy="528.8" r="0.65"/><circle cx="247.5" cy="527.5" r="0.65"/><circle cx="254.1" cy="539.4" r="0.65"/><circle cx="259.5" cy="529.7" r="0.65"/><circle cx="258.9" cy="530.5" r="0.65"/><circle cx="250.3" cy="529.1" r="0.65"/><circle cx="257.7" cy="529.2" r="0.65"/><circle cx="257.1" cy="535.5" r="0.65"/><circle cx="251.2" cy="536.4" r="0.65"/><circle cx="252.5" cy="536.7" r="0.65"/><circle cx="253.5" cy="537.2" r="0.65"/><circle cx="257.9" cy="537.9" r="0.65"/></g><g><circle cx="257.4" cy="537.9" r="0.72" fill="#f4a582"/><circle cx="253.0" cy="535.0" r="0.72" fill="#f9d6bc"/><circle cx="258.0" cy="526.8" r="0.72" fill="#f9d6bc"/><circle cx="252.1" cy="539.4" r="0.72" fill="#f9d6bc"/><circle cx="262.1" cy="527.0" r="0.72" fill="#f6b896"/><circle cx="251.1" cy="536.4" r="0.72" fill="#f4a582"/><circle cx="253.0" cy="534.8" r="0.72" fill="#f6b896"/><circle cx="261.0" cy="527.8" r="0.72" fill="#f4a582"/><circle cx="257.7" cy="529.5" r="0.72" fill="#f4a582"/><circle cx="258.9" cy="530.5" r="0.72" fill="#f6b896"/><circle cx="260.7" cy="530.8" r="0.72" fill="#f4a582"/><circle cx="251.2" cy="536.4" r="0.72" fill="#f8c8a8"/><circle cx="252.5" cy="536.7" r="0.72" fill="#ef9a64"/><circle cx="253.5" cy="537.2" r="0.72" fill="#f9d6bc"/></g><g fill="#eaedf2"><circle cx="269.2" cy="540.7" r="0.65"/><circle cx="270.3" cy="540.4" r="0.65"/><circle cx="269.3" cy="542.3" r="0.65"/><circle cx="270.4" cy="540.0" r="0.65"/><circle cx="268.7" cy="542.2" r="0.65"/><circle cx="269.8" cy="539.9" r="0.65"/><circle cx="269.2" cy="541.6" r="0.65"/><circle cx="270.1" cy="539.9" r="0.65"/></g><g><circle cx="269.2" cy="541.6" r="0.72" fill="#ef9a64"/></g><g fill="#eaedf2"><circle cx="277.7" cy="513.7" r="0.65"/><circle cx="272.6" cy="513.8" r="0.65"/><circle cx="276.3" cy="518.4" r="0.65"/><circle cx="283.6" cy="511.3" r="0.65"/><circle cx="270.6" cy="513.3" r="0.65"/><circle cx="277.9" cy="509.8" r="0.65"/><circle cx="280.5" cy="528.7" r="0.65"/><circle cx="277.6" cy="504.8" r="0.65"/><circle cx="275.3" cy="507.6" r="0.65"/><circle cx="279.0" cy="507.6" r="0.65"/><circle cx="274.6" cy="511.2" r="0.65"/><circle cx="284.0" cy="516.5" r="0.65"/><circle cx="281.6" cy="513.3" r="0.65"/><circle cx="275.9" cy="518.9" r="0.65"/><circle cx="274.9" cy="521.4" r="0.65"/><circle cx="273.1" cy="508.4" r="0.65"/><circle cx="282.8" cy="509.1" r="0.65"/><circle cx="285.1" cy="527.7" r="0.65"/><circle cx="283.2" cy="529.9" r="0.65"/><circle cx="279.4" cy="526.2" r="0.65"/><circle cx="281.5" cy="526.4" r="0.65"/><circle cx="287.0" cy="524.1" r="0.65"/><circle cx="284.4" cy="526.5" r="0.65"/><circle cx="276.8" cy="505.2" r="0.65"/><circle cx="282.0" cy="517.7" r="0.65"/><circle cx="273.7" cy="518.3" r="0.65"/><circle cx="281.2" cy="521.9" r="0.65"/><circle cx="283.8" cy="528.5" r="0.65"/><circle cx="282.4" cy="518.3" r="0.65"/><circle cx="270.7" cy="513.3" r="0.65"/><circle cx="277.7" cy="507.8" r="0.65"/><circle cx="287.6" cy="525.0" r="0.65"/><circle cx="275.2" cy="519.4" r="0.65"/><circle cx="284.4" cy="525.4" r="0.65"/><circle cx="289.8" cy="526.2" r="0.65"/><circle cx="275.3" cy="507.3" r="0.65"/><circle cx="285.7" cy="525.5" r="0.65"/><circle cx="285.8" cy="520.4" r="0.65"/><circle cx="282.0" cy="524.9" r="0.65"/><circle cx="280.5" cy="519.6" r="0.65"/><circle cx="279.7" cy="516.6" r="0.65"/><circle cx="284.3" cy="514.3" r="0.65"/><circle cx="291.0" cy="529.8" r="0.65"/><circle cx="277.1" cy="517.0" r="0.65"/><circle cx="278.0" cy="506.0" r="0.65"/><circle cx="276.0" cy="511.3" r="0.65"/><circle cx="286.8" cy="526.0" r="0.65"/><circle cx="281.4" cy="514.9" r="0.65"/><circle cx="290.8" cy="527.7" r="0.65"/><circle cx="281.2" cy="508.3" r="0.65"/><circle cx="286.1" cy="517.2" r="0.65"/><circle cx="291.4" cy="529.7" r="0.65"/><circle cx="284.2" cy="515.8" r="0.65"/><circle cx="275.7" cy="513.7" r="0.65"/><circle cx="280.0" cy="521.3" r="0.65"/><circle cx="283.6" cy="509.0" r="0.65"/><circle cx="277.6" cy="521.2" r="0.65"/><circle cx="274.0" cy="511.5" r="0.65"/><circle cx="280.7" cy="529.0" r="0.65"/><circle cx="274.2" cy="509.6" r="0.65"/><circle cx="273.4" cy="510.2" r="0.65"/><circle cx="278.2" cy="515.1" r="0.65"/><circle cx="281.6" cy="515.1" r="0.65"/><circle cx="279.3" cy="511.8" r="0.65"/><circle cx="278.8" cy="523.3" r="0.65"/><circle cx="281.2" cy="518.7" r="0.65"/><circle cx="275.2" cy="509.2" r="0.65"/><circle cx="278.3" cy="522.9" r="0.65"/><circle cx="271.9" cy="511.4" r="0.65"/><circle cx="276.2" cy="512.3" r="0.65"/><circle cx="289.0" cy="525.8" r="0.65"/><circle cx="271.4" cy="508.9" r="0.65"/><circle cx="276.4" cy="518.7" r="0.65"/><circle cx="278.4" cy="505.6" r="0.65"/><circle cx="272.7" cy="509.8" r="0.65"/><circle cx="289.4" cy="530.9" r="0.65"/><circle cx="285.5" cy="522.9" r="0.65"/><circle cx="277.0" cy="511.8" r="0.65"/><circle cx="276.2" cy="508.9" r="0.65"/><circle cx="285.2" cy="522.2" r="0.65"/><circle cx="282.4" cy="509.3" r="0.65"/><circle cx="274.4" cy="511.0" r="0.65"/><circle cx="283.4" cy="524.1" r="0.65"/><circle cx="270.7" cy="513.0" r="0.65"/><circle cx="280.0" cy="508.6" r="0.65"/><circle cx="273.5" cy="508.9" r="0.65"/><circle cx="279.8" cy="507.8" r="0.65"/><circle cx="290.8" cy="529.4" r="0.65"/><circle cx="277.9" cy="515.4" r="0.65"/><circle cx="287.0" cy="526.0" r="0.65"/><circle cx="277.8" cy="508.3" r="0.65"/><circle cx="279.1" cy="513.7" r="0.65"/><circle cx="278.4" cy="513.1" r="0.65"/><circle cx="282.5" cy="524.6" r="0.65"/><circle cx="283.5" cy="514.2" r="0.65"/><circle cx="272.3" cy="509.7" r="0.65"/><circle cx="283.4" cy="519.0" r="0.65"/><circle cx="282.9" cy="525.3" r="0.65"/><circle cx="274.0" cy="518.7" r="0.65"/><circle cx="279.7" cy="517.4" r="0.65"/><circle cx="281.8" cy="526.0" r="0.65"/><circle cx="283.6" cy="526.2" r="0.65"/><circle cx="282.8" cy="530.4" r="0.65"/><circle cx="278.3" cy="523.7" r="0.65"/><circle cx="277.9" cy="511.5" r="0.65"/><circle cx="283.5" cy="516.4" r="0.65"/><circle cx="277.6" cy="520.7" r="0.65"/><circle cx="273.2" cy="513.8" r="0.65"/><circle cx="276.8" cy="505.9" r="0.65"/><circle cx="284.5" cy="512.5" r="0.65"/><circle cx="281.3" cy="512.1" r="0.65"/><circle cx="290.5" cy="526.5" r="0.65"/><circle cx="281.9" cy="509.2" r="0.65"/><circle cx="270.4" cy="514.0" r="0.65"/><circle cx="278.6" cy="520.6" r="0.65"/><circle cx="278.1" cy="512.7" r="0.65"/><circle cx="283.0" cy="530.3" r="0.65"/><circle cx="292.7" cy="528.2" r="0.65"/><circle cx="279.0" cy="520.2" r="0.65"/><circle cx="275.9" cy="523.6" r="0.65"/><circle cx="273.7" cy="506.5" r="0.65"/><circle cx="282.9" cy="511.9" r="0.65"/><circle cx="282.6" cy="531.0" r="0.65"/><circle cx="283.5" cy="527.4" r="0.65"/><circle cx="274.7" cy="515.6" r="0.65"/><circle cx="284.3" cy="516.0" r="0.65"/><circle cx="290.7" cy="528.3" r="0.65"/><circle cx="278.9" cy="504.9" r="0.65"/><circle cx="280.5" cy="510.8" r="0.65"/><circle cx="275.6" cy="516.3" r="0.65"/><circle cx="274.1" cy="515.3" r="0.65"/><circle cx="281.0" cy="529.3" r="0.65"/><circle cx="284.7" cy="515.9" r="0.65"/><circle cx="285.2" cy="524.4" r="0.65"/><circle cx="276.2" cy="523.1" r="0.65"/><circle cx="275.1" cy="513.8" r="0.65"/><circle cx="277.6" cy="517.3" r="0.65"/><circle cx="271.2" cy="516.1" r="0.65"/><circle cx="285.0" cy="519.1" r="0.65"/><circle cx="277.4" cy="520.9" r="0.65"/><circle cx="282.7" cy="515.8" r="0.65"/><circle cx="278.4" cy="513.9" r="0.65"/><circle cx="290.3" cy="526.9" r="0.65"/><circle cx="288.6" cy="526.1" r="0.65"/><circle cx="284.1" cy="531.1" r="0.65"/><circle cx="278.0" cy="513.7" r="0.65"/><circle cx="280.6" cy="507.9" r="0.65"/><circle cx="280.1" cy="524.6" r="0.65"/><circle cx="280.0" cy="519.8" r="0.65"/><circle cx="272.1" cy="507.0" r="0.65"/><circle cx="277.7" cy="507.7" r="0.65"/><circle cx="279.7" cy="511.7" r="0.65"/><circle cx="285.3" cy="529.7" r="0.65"/><circle cx="274.4" cy="511.6" r="0.65"/><circle cx="277.5" cy="519.0" r="0.65"/><circle cx="281.7" cy="529.1" r="0.65"/><circle cx="284.0" cy="521.7" r="0.65"/><circle cx="284.2" cy="525.7" r="0.65"/><circle cx="275.6" cy="522.2" r="0.65"/><circle cx="276.4" cy="514.8" r="0.65"/><circle cx="276.5" cy="511.0" r="0.65"/><circle cx="278.8" cy="513.2" r="0.65"/><circle cx="282.2" cy="519.6" r="0.65"/><circle cx="273.1" cy="513.1" r="0.65"/><circle cx="285.0" cy="522.7" r="0.65"/><circle cx="285.2" cy="521.2" r="0.65"/><circle cx="279.3" cy="506.3" r="0.65"/><circle cx="290.8" cy="528.9" r="0.65"/><circle cx="274.4" cy="513.8" r="0.65"/><circle cx="276.5" cy="520.0" r="0.65"/><circle cx="273.5" cy="511.9" r="0.65"/><circle cx="285.5" cy="521.7" r="0.65"/><circle cx="283.0" cy="509.0" r="0.65"/><circle cx="272.4" cy="510.3" r="0.65"/><circle cx="284.3" cy="518.8" r="0.65"/><circle cx="283.7" cy="520.7" r="0.65"/><circle cx="276.0" cy="520.4" r="0.65"/><circle cx="282.9" cy="513.6" r="0.65"/><circle cx="280.3" cy="519.0" r="0.65"/><circle cx="290.2" cy="531.2" r="0.65"/><circle cx="283.8" cy="516.3" r="0.65"/><circle cx="281.9" cy="516.0" r="0.65"/><circle cx="286.2" cy="517.8" r="0.65"/><circle cx="278.8" cy="505.1" r="0.65"/><circle cx="281.4" cy="518.8" r="0.65"/><circle cx="277.6" cy="507.3" r="0.65"/></g><g><circle cx="275.3" cy="508.4" r="0.72" fill="#f6b896"/><circle cx="275.3" cy="507.3" r="0.72" fill="#f6b896"/><circle cx="282.5" cy="519.6" r="0.72" fill="#f8c8a8"/><circle cx="286.8" cy="526.0" r="0.72" fill="#f9d6bc"/><circle cx="283.6" cy="509.0" r="0.72" fill="#ef9a64"/><circle cx="277.6" cy="521.2" r="0.72" fill="#ef9a64"/><circle cx="288.6" cy="528.9" r="0.72" fill="#ef9a64"/><circle cx="281.2" cy="518.7" r="0.72" fill="#f9d6bc"/><circle cx="283.3" cy="513.3" r="0.72" fill="#ef9a64"/><circle cx="276.2" cy="512.3" r="0.72" fill="#ef9a64"/><circle cx="289.0" cy="525.8" r="0.72" fill="#f4a582"/><circle cx="280.5" cy="511.0" r="0.72" fill="#f4a582"/><circle cx="280.0" cy="508.6" r="0.72" fill="#f9d6bc"/><circle cx="273.1" cy="511.3" r="0.72" fill="#f4a582"/><circle cx="282.9" cy="525.3" r="0.72" fill="#f6b896"/><circle cx="275.9" cy="523.6" r="0.72" fill="#f6b896"/><circle cx="284.2" cy="531.0" r="0.72" fill="#f8c8a8"/><circle cx="285.2" cy="524.4" r="0.72" fill="#f9d6bc"/><circle cx="277.4" cy="520.9" r="0.72" fill="#f9d6bc"/><circle cx="278.4" cy="513.9" r="0.72" fill="#f6b896"/><circle cx="272.1" cy="507.0" r="0.72" fill="#f4a582"/><circle cx="284.2" cy="525.7" r="0.72" fill="#f8c8a8"/><circle cx="285.5" cy="521.7" r="0.72" fill="#ef9a64"/><circle cx="277.6" cy="507.3" r="0.72" fill="#f4a582"/></g><g fill="#eaedf2"><circle cx="286.3" cy="537.2" r="0.65"/><circle cx="287.1" cy="545.1" r="0.65"/><circle cx="291.0" cy="546.1" r="0.65"/><circle cx="298.5" cy="536.8" r="0.65"/><circle cx="288.3" cy="543.1" r="0.65"/><circle cx="288.2" cy="535.7" r="0.65"/><circle cx="286.0" cy="539.9" r="0.65"/><circle cx="281.7" cy="538.4" r="0.65"/><circle cx="297.5" cy="544.5" r="0.65"/><circle cx="299.8" cy="537.3" r="0.65"/><circle cx="298.2" cy="539.6" r="0.65"/><circle cx="299.9" cy="539.7" r="0.65"/><circle cx="291.1" cy="531.1" r="0.65"/><circle cx="283.4" cy="539.8" r="0.65"/><circle cx="290.4" cy="532.3" r="0.65"/><circle cx="296.1" cy="540.4" r="0.65"/><circle cx="293.6" cy="547.4" r="0.65"/><circle cx="301.3" cy="542.1" r="0.65"/><circle cx="283.7" cy="534.9" r="0.65"/><circle cx="283.1" cy="540.4" r="0.65"/><circle cx="290.5" cy="532.9" r="0.65"/><circle cx="296.0" cy="540.9" r="0.65"/><circle cx="300.9" cy="548.7" r="0.65"/><circle cx="288.7" cy="539.2" r="0.65"/><circle cx="299.8" cy="539.2" r="0.65"/><circle cx="282.3" cy="539.3" r="0.65"/><circle cx="284.1" cy="535.7" r="0.65"/><circle cx="281.7" cy="537.9" r="0.65"/><circle cx="289.9" cy="536.7" r="0.65"/><circle cx="298.5" cy="544.0" r="0.65"/><circle cx="282.7" cy="532.2" r="0.65"/><circle cx="281.2" cy="535.4" r="0.65"/><circle cx="301.6" cy="547.5" r="0.65"/><circle cx="297.0" cy="539.6" r="0.65"/><circle cx="302.2" cy="542.2" r="0.65"/><circle cx="282.6" cy="534.5" r="0.65"/><circle cx="300.0" cy="541.4" r="0.65"/><circle cx="293.5" cy="542.5" r="0.65"/><circle cx="297.2" cy="540.5" r="0.65"/><circle cx="282.5" cy="534.6" r="0.65"/><circle cx="282.4" cy="535.2" r="0.65"/><circle cx="297.8" cy="541.1" r="0.65"/><circle cx="294.2" cy="533.8" r="0.65"/><circle cx="290.6" cy="544.5" r="0.65"/><circle cx="287.0" cy="542.2" r="0.65"/><circle cx="298.3" cy="539.5" r="0.65"/><circle cx="294.0" cy="535.9" r="0.65"/><circle cx="285.7" cy="540.4" r="0.65"/><circle cx="291.9" cy="534.6" r="0.65"/><circle cx="297.1" cy="540.2" r="0.65"/><circle cx="287.9" cy="535.2" r="0.65"/><circle cx="295.1" cy="536.9" r="0.65"/><circle cx="289.8" cy="543.9" r="0.65"/><circle cx="283.6" cy="537.5" r="0.65"/><circle cx="297.5" cy="543.8" r="0.65"/><circle cx="293.1" cy="532.2" r="0.65"/><circle cx="292.4" cy="548.6" r="0.65"/><circle cx="300.9" cy="539.9" r="0.65"/><circle cx="284.4" cy="542.7" r="0.65"/><circle cx="300.7" cy="545.5" r="0.65"/><circle cx="294.5" cy="540.2" r="0.65"/><circle cx="300.2" cy="541.1" r="0.65"/><circle cx="300.6" cy="547.5" r="0.65"/><circle cx="298.1" cy="537.0" r="0.65"/><circle cx="301.3" cy="542.5" r="0.65"/><circle cx="287.4" cy="533.1" r="0.65"/><circle cx="290.3" cy="531.0" r="0.65"/><circle cx="300.2" cy="545.6" r="0.65"/><circle cx="291.0" cy="531.7" r="0.65"/><circle cx="295.7" cy="533.6" r="0.65"/><circle cx="300.1" cy="540.0" r="0.65"/><circle cx="287.3" cy="543.4" r="0.65"/><circle cx="286.1" cy="538.6" r="0.65"/><circle cx="295.9" cy="534.7" r="0.65"/><circle cx="283.5" cy="539.9" r="0.65"/><circle cx="286.8" cy="531.8" r="0.65"/><circle cx="290.8" cy="547.6" r="0.65"/><circle cx="295.7" cy="542.6" r="0.65"/><circle cx="290.8" cy="543.5" r="0.65"/><circle cx="291.6" cy="533.8" r="0.65"/><circle cx="295.8" cy="540.0" r="0.65"/><circle cx="288.6" cy="541.2" r="0.65"/><circle cx="300.2" cy="543.3" r="0.65"/><circle cx="294.5" cy="542.3" r="0.65"/><circle cx="296.5" cy="535.5" r="0.65"/><circle cx="296.9" cy="547.0" r="0.65"/><circle cx="285.7" cy="538.4" r="0.65"/><circle cx="299.5" cy="543.9" r="0.65"/><circle cx="288.0" cy="543.9" r="0.65"/><circle cx="285.8" cy="534.6" r="0.65"/><circle cx="294.9" cy="537.0" r="0.65"/><circle cx="300.9" cy="548.3" r="0.65"/><circle cx="288.0" cy="531.6" r="0.65"/><circle cx="297.0" cy="537.4" r="0.65"/><circle cx="301.2" cy="543.1" r="0.65"/><circle cx="288.7" cy="538.7" r="0.65"/><circle cx="299.4" cy="548.1" r="0.65"/><circle cx="297.4" cy="543.2" r="0.65"/><circle cx="288.1" cy="539.6" r="0.65"/><circle cx="292.5" cy="545.0" r="0.65"/><circle cx="298.4" cy="546.3" r="0.65"/><circle cx="294.0" cy="543.6" r="0.65"/><circle cx="284.0" cy="536.9" r="0.65"/><circle cx="281.4" cy="536.7" r="0.65"/><circle cx="299.1" cy="540.8" r="0.65"/><circle cx="286.2" cy="540.7" r="0.65"/><circle cx="290.7" cy="532.9" r="0.65"/><circle cx="283.3" cy="540.3" r="0.65"/><circle cx="283.3" cy="535.3" r="0.65"/><circle cx="289.4" cy="545.3" r="0.65"/><circle cx="289.0" cy="540.6" r="0.65"/><circle cx="284.2" cy="532.8" r="0.65"/><circle cx="292.2" cy="537.2" r="0.65"/><circle cx="295.1" cy="537.4" r="0.65"/><circle cx="291.9" cy="535.8" r="0.65"/><circle cx="294.9" cy="538.4" r="0.65"/><circle cx="295.8" cy="536.0" r="0.65"/><circle cx="296.0" cy="543.2" r="0.65"/><circle cx="289.6" cy="531.8" r="0.65"/><circle cx="282.5" cy="533.1" r="0.65"/><circle cx="284.1" cy="533.8" r="0.65"/><circle cx="294.8" cy="537.0" r="0.65"/><circle cx="285.5" cy="533.8" r="0.65"/><circle cx="292.9" cy="535.2" r="0.65"/><circle cx="282.0" cy="537.4" r="0.65"/><circle cx="297.3" cy="547.5" r="0.65"/><circle cx="288.3" cy="537.6" r="0.65"/><circle cx="291.4" cy="535.2" r="0.65"/><circle cx="284.7" cy="532.7" r="0.65"/><circle cx="295.3" cy="540.4" r="0.65"/><circle cx="299.5" cy="542.5" r="0.65"/><circle cx="293.8" cy="538.9" r="0.65"/><circle cx="289.5" cy="533.0" r="0.65"/><circle cx="292.8" cy="547.8" r="0.65"/><circle cx="286.6" cy="541.7" r="0.65"/><circle cx="292.4" cy="536.7" r="0.65"/><circle cx="281.8" cy="539.9" r="0.65"/><circle cx="291.7" cy="546.6" r="0.65"/><circle cx="284.5" cy="533.8" r="0.65"/><circle cx="286.8" cy="546.3" r="0.65"/><circle cx="285.2" cy="542.9" r="0.65"/><circle cx="280.7" cy="531.8" r="0.65"/><circle cx="295.8" cy="540.1" r="0.65"/><circle cx="282.5" cy="539.6" r="0.65"/><circle cx="299.7" cy="541.8" r="0.65"/><circle cx="287.7" cy="535.8" r="0.65"/><circle cx="298.6" cy="539.7" r="0.65"/><circle cx="284.8" cy="538.3" r="0.65"/><circle cx="293.8" cy="544.4" r="0.65"/><circle cx="295.2" cy="538.1" r="0.65"/><circle cx="299.9" cy="546.7" r="0.65"/><circle cx="297.0" cy="542.2" r="0.65"/><circle cx="295.1" cy="547.0" r="0.65"/><circle cx="297.9" cy="539.3" r="0.65"/><circle cx="288.8" cy="546.1" r="0.65"/><circle cx="285.0" cy="532.8" r="0.65"/><circle cx="296.8" cy="543.8" r="0.65"/><circle cx="289.2" cy="542.1" r="0.65"/><circle cx="297.0" cy="541.0" r="0.65"/><circle cx="287.9" cy="532.1" r="0.65"/><circle cx="299.6" cy="547.6" r="0.65"/><circle cx="298.0" cy="539.8" r="0.65"/><circle cx="296.2" cy="539.1" r="0.65"/><circle cx="285.0" cy="539.8" r="0.65"/><circle cx="294.8" cy="540.0" r="0.65"/><circle cx="281.4" cy="534.2" r="0.65"/><circle cx="286.1" cy="540.4" r="0.65"/><circle cx="300.2" cy="539.1" r="0.65"/><circle cx="285.2" cy="542.1" r="0.65"/><circle cx="282.5" cy="540.6" r="0.65"/><circle cx="292.2" cy="536.3" r="0.65"/><circle cx="300.3" cy="542.3" r="0.65"/><circle cx="284.1" cy="533.8" r="0.65"/><circle cx="295.7" cy="546.4" r="0.65"/><circle cx="281.4" cy="538.5" r="0.65"/><circle cx="299.5" cy="541.4" r="0.65"/><circle cx="296.6" cy="545.5" r="0.65"/><circle cx="286.2" cy="542.6" r="0.65"/><circle cx="291.8" cy="543.5" r="0.65"/><circle cx="283.6" cy="536.4" r="0.65"/><circle cx="282.8" cy="537.3" r="0.65"/><circle cx="281.9" cy="539.6" r="0.65"/><circle cx="283.8" cy="536.6" r="0.65"/><circle cx="284.9" cy="534.1" r="0.65"/><circle cx="297.1" cy="541.6" r="0.65"/><circle cx="298.9" cy="540.3" r="0.65"/><circle cx="294.1" cy="534.9" r="0.65"/><circle cx="295.5" cy="538.3" r="0.65"/></g><g><circle cx="285.7" cy="533.1" r="0.72" fill="#f9d6bc"/><circle cx="291.1" cy="531.1" r="0.72" fill="#f6b896"/><circle cx="290.5" cy="532.9" r="0.72" fill="#f4a582"/><circle cx="301.6" cy="547.5" r="0.72" fill="#f9d6bc"/><circle cx="287.0" cy="542.2" r="0.72" fill="#f8c8a8"/><circle cx="293.1" cy="532.2" r="0.72" fill="#f8c8a8"/><circle cx="295.6" cy="542.1" r="0.72" fill="#f6b896"/><circle cx="294.5" cy="540.2" r="0.72" fill="#f9d6bc"/><circle cx="298.6" cy="541.0" r="0.72" fill="#f4a582"/><circle cx="285.7" cy="538.4" r="0.72" fill="#d84a22"/><circle cx="299.4" cy="548.1" r="0.72" fill="#f9d6bc"/><circle cx="292.5" cy="545.0" r="0.72" fill="#f4a582"/><circle cx="297.6" cy="549.2" r="0.72" fill="#f4a582"/><circle cx="294.0" cy="543.6" r="0.72" fill="#f4a582"/><circle cx="283.3" cy="540.3" r="0.72" fill="#f4a582"/><circle cx="289.0" cy="540.6" r="0.72" fill="#f4a582"/><circle cx="284.2" cy="532.8" r="0.72" fill="#f4a582"/><circle cx="284.1" cy="533.8" r="0.72" fill="#f9d6bc"/><circle cx="294.6" cy="539.0" r="0.72" fill="#f4a582"/><circle cx="291.3" cy="531.0" r="0.72" fill="#f4a582"/><circle cx="284.8" cy="538.3" r="0.72" fill="#f8c8a8"/><circle cx="297.9" cy="539.3" r="0.72" fill="#f8c8a8"/><circle cx="285.0" cy="532.8" r="0.72" fill="#f6b896"/><circle cx="295.7" cy="537.4" r="0.72" fill="#f9d6bc"/><circle cx="296.6" cy="545.5" r="0.72" fill="#f4a582"/><circle cx="286.2" cy="542.6" r="0.72" fill="#f6b896"/><circle cx="283.6" cy="536.4" r="0.72" fill="#f8c8a8"/></g><g fill="#eaedf2"><circle cx="316.4" cy="562.0" r="0.65"/><circle cx="317.2" cy="559.8" r="0.65"/><circle cx="315.6" cy="560.7" r="0.65"/><circle cx="316.1" cy="560.7" r="0.65"/><circle cx="318.3" cy="561.1" r="0.65"/><circle cx="318.2" cy="562.8" r="0.65"/><circle cx="313.9" cy="562.0" r="0.65"/><circle cx="315.6" cy="561.7" r="0.65"/><circle cx="316.7" cy="560.8" r="0.65"/><circle cx="318.4" cy="562.3" r="0.65"/><circle cx="317.0" cy="563.4" r="0.65"/></g><g><circle cx="315.3" cy="561.6" r="0.72" fill="#f9d6bc"/><circle cx="317.2" cy="559.8" r="0.72" fill="#f8c8a8"/><circle cx="318.2" cy="562.8" r="0.72" fill="#f4a582"/><circle cx="316.7" cy="560.8" r="0.72" fill="#f4a582"/><circle cx="318.4" cy="562.3" r="0.72" fill="#ef9a64"/><circle cx="318.2" cy="559.8" r="0.72" fill="#f4a582"/></g><g fill="#eaedf2"><circle cx="325.7" cy="567.2" r="0.65"/><circle cx="322.2" cy="569.5" r="0.65"/><circle cx="321.1" cy="572.6" r="0.65"/><circle cx="325.8" cy="571.3" r="0.65"/><circle cx="324.5" cy="569.6" r="0.65"/><circle cx="323.6" cy="571.0" r="0.65"/><circle cx="325.4" cy="572.8" r="0.65"/><circle cx="322.0" cy="569.1" r="0.65"/><circle cx="324.4" cy="566.7" r="0.65"/><circle cx="325.7" cy="572.1" r="0.65"/><circle cx="321.6" cy="571.7" r="0.65"/></g><g><circle cx="324.9" cy="571.0" r="0.72" fill="#b41c10"/><circle cx="325.8" cy="571.3" r="0.72" fill="#f4a582"/><circle cx="323.6" cy="571.2" r="0.72" fill="#f4a582"/></g><g fill="#eaedf2"><circle cx="325.8" cy="576.9" r="0.65"/><circle cx="324.9" cy="588.7" r="0.65"/><circle cx="323.9" cy="580.9" r="0.65"/><circle cx="324.0" cy="584.1" r="0.65"/><circle cx="331.8" cy="584.6" r="0.65"/><circle cx="323.3" cy="583.5" r="0.65"/><circle cx="323.4" cy="577.6" r="0.65"/><circle cx="326.5" cy="575.2" r="0.65"/><circle cx="323.1" cy="581.6" r="0.65"/><circle cx="329.0" cy="577.2" r="0.65"/><circle cx="321.3" cy="579.6" r="0.65"/><circle cx="330.7" cy="586.8" r="0.65"/><circle cx="320.9" cy="584.0" r="0.65"/><circle cx="321.6" cy="584.3" r="0.65"/><circle cx="328.9" cy="578.2" r="0.65"/><circle cx="326.2" cy="578.0" r="0.65"/><circle cx="331.6" cy="583.8" r="0.65"/><circle cx="329.1" cy="583.7" r="0.65"/><circle cx="323.4" cy="582.2" r="0.65"/><circle cx="329.5" cy="577.9" r="0.65"/><circle cx="331.8" cy="582.2" r="0.65"/><circle cx="330.4" cy="584.5" r="0.65"/><circle cx="321.3" cy="578.6" r="0.65"/><circle cx="323.9" cy="580.0" r="0.65"/><circle cx="324.7" cy="584.8" r="0.65"/><circle cx="324.8" cy="587.3" r="0.65"/><circle cx="330.7" cy="579.5" r="0.65"/><circle cx="321.6" cy="586.3" r="0.65"/><circle cx="326.0" cy="585.2" r="0.65"/><circle cx="330.2" cy="577.5" r="0.65"/><circle cx="322.0" cy="581.7" r="0.65"/><circle cx="330.0" cy="587.3" r="0.65"/><circle cx="323.7" cy="578.7" r="0.65"/><circle cx="332.9" cy="584.1" r="0.65"/><circle cx="327.2" cy="575.7" r="0.65"/><circle cx="323.5" cy="580.9" r="0.65"/><circle cx="327.8" cy="576.1" r="0.65"/><circle cx="330.8" cy="585.5" r="0.65"/><circle cx="330.5" cy="579.0" r="0.65"/><circle cx="321.5" cy="580.3" r="0.65"/><circle cx="330.5" cy="582.6" r="0.65"/><circle cx="330.6" cy="579.7" r="0.65"/><circle cx="329.6" cy="582.1" r="0.65"/><circle cx="323.5" cy="578.0" r="0.65"/><circle cx="331.3" cy="584.8" r="0.65"/><circle cx="321.7" cy="585.2" r="0.65"/><circle cx="323.1" cy="585.7" r="0.65"/><circle cx="329.5" cy="584.6" r="0.65"/><circle cx="328.4" cy="584.7" r="0.65"/><circle cx="332.4" cy="584.1" r="0.65"/><circle cx="326.4" cy="575.5" r="0.65"/><circle cx="324.2" cy="580.5" r="0.65"/><circle cx="322.7" cy="579.4" r="0.65"/><circle cx="329.9" cy="587.4" r="0.65"/><circle cx="321.3" cy="582.2" r="0.65"/><circle cx="329.9" cy="585.9" r="0.65"/><circle cx="324.9" cy="577.4" r="0.65"/><circle cx="321.2" cy="583.0" r="0.65"/><circle cx="328.8" cy="585.6" r="0.65"/><circle cx="327.5" cy="585.5" r="0.65"/><circle cx="329.3" cy="585.2" r="0.65"/><circle cx="326.3" cy="585.8" r="0.65"/><circle cx="320.8" cy="585.8" r="0.65"/><circle cx="325.4" cy="584.4" r="0.65"/><circle cx="326.6" cy="586.1" r="0.65"/><circle cx="332.6" cy="579.8" r="0.65"/><circle cx="322.5" cy="577.0" r="0.65"/><circle cx="322.6" cy="580.9" r="0.65"/><circle cx="329.4" cy="588.1" r="0.65"/><circle cx="326.8" cy="575.4" r="0.65"/><circle cx="321.1" cy="584.5" r="0.65"/><circle cx="325.2" cy="576.3" r="0.65"/></g><g><circle cx="323.3" cy="583.5" r="0.72" fill="#f6b896"/><circle cx="323.4" cy="577.6" r="0.72" fill="#f6b896"/><circle cx="330.4" cy="582.2" r="0.72" fill="#f8c8a8"/><circle cx="324.8" cy="587.3" r="0.72" fill="#f8c8a8"/><circle cx="321.4" cy="584.1" r="0.72" fill="#f4a582"/><circle cx="323.1" cy="585.7" r="0.72" fill="#f6b896"/><circle cx="332.9" cy="583.5" r="0.72" fill="#f4a582"/><circle cx="321.2" cy="583.0" r="0.72" fill="#f9d6bc"/><circle cx="327.5" cy="585.5" r="0.72" fill="#f4a582"/><circle cx="320.8" cy="585.8" r="0.72" fill="#f9d6bc"/><circle cx="327.0" cy="576.0" r="0.72" fill="#ef9a64"/></g><g fill="#eaedf2"><circle cx="377.0" cy="414.4" r="0.65"/><circle cx="373.8" cy="415.9" r="0.65"/><circle cx="369.7" cy="419.1" r="0.65"/><circle cx="364.4" cy="417.6" r="0.65"/><circle cx="380.8" cy="417.4" r="0.65"/><circle cx="372.0" cy="421.1" r="0.65"/><circle cx="377.6" cy="420.9" r="0.65"/><circle cx="369.7" cy="420.7" r="0.65"/><circle cx="366.4" cy="419.7" r="0.65"/><circle cx="376.2" cy="413.5" r="0.65"/><circle cx="374.0" cy="422.0" r="0.65"/><circle cx="376.9" cy="414.8" r="0.65"/><circle cx="373.8" cy="420.4" r="0.65"/><circle cx="375.0" cy="417.9" r="0.65"/><circle cx="379.2" cy="417.0" r="0.65"/><circle cx="375.7" cy="417.9" r="0.65"/><circle cx="363.6" cy="419.9" r="0.65"/><circle cx="369.0" cy="417.6" r="0.65"/><circle cx="372.4" cy="419.1" r="0.65"/><circle cx="371.6" cy="421.2" r="0.65"/><circle cx="375.4" cy="419.0" r="0.65"/><circle cx="365.2" cy="418.0" r="0.65"/><circle cx="365.3" cy="417.8" r="0.65"/><circle cx="363.9" cy="419.6" r="0.65"/><circle cx="367.0" cy="415.5" r="0.65"/><circle cx="363.0" cy="420.7" r="0.65"/><circle cx="373.4" cy="418.3" r="0.65"/><circle cx="369.0" cy="422.1" r="0.65"/><circle cx="378.2" cy="414.5" r="0.65"/><circle cx="371.7" cy="418.0" r="0.65"/><circle cx="372.2" cy="415.0" r="0.65"/><circle cx="366.3" cy="418.2" r="0.65"/><circle cx="367.7" cy="421.5" r="0.65"/><circle cx="368.4" cy="422.1" r="0.65"/><circle cx="364.7" cy="420.3" r="0.65"/><circle cx="377.5" cy="413.8" r="0.65"/><circle cx="371.6" cy="415.5" r="0.65"/><circle cx="376.2" cy="419.3" r="0.65"/><circle cx="365.2" cy="416.2" r="0.65"/><circle cx="376.5" cy="418.2" r="0.65"/><circle cx="366.6" cy="415.9" r="0.65"/><circle cx="366.3" cy="419.8" r="0.65"/><circle cx="373.6" cy="418.7" r="0.65"/><circle cx="376.9" cy="418.8" r="0.65"/><circle cx="371.6" cy="414.7" r="0.65"/><circle cx="378.1" cy="420.2" r="0.65"/><circle cx="376.4" cy="419.5" r="0.65"/><circle cx="378.7" cy="419.7" r="0.65"/><circle cx="370.7" cy="417.0" r="0.65"/><circle cx="368.2" cy="420.7" r="0.65"/><circle cx="375.3" cy="421.4" r="0.65"/><circle cx="365.4" cy="422.8" r="0.65"/><circle cx="370.7" cy="416.1" r="0.65"/><circle cx="369.7" cy="418.8" r="0.65"/><circle cx="372.4" cy="416.3" r="0.65"/><circle cx="375.9" cy="420.5" r="0.65"/><circle cx="370.0" cy="422.2" r="0.65"/><circle cx="363.1" cy="419.0" r="0.65"/><circle cx="372.3" cy="415.6" r="0.65"/><circle cx="374.7" cy="418.6" r="0.65"/><circle cx="364.9" cy="421.8" r="0.65"/><circle cx="368.6" cy="422.9" r="0.65"/><circle cx="376.5" cy="417.3" r="0.65"/><circle cx="363.9" cy="418.9" r="0.65"/><circle cx="376.2" cy="417.2" r="0.65"/><circle cx="371.6" cy="422.0" r="0.65"/><circle cx="365.6" cy="423.5" r="0.65"/><circle cx="372.0" cy="420.9" r="0.65"/><circle cx="369.8" cy="419.2" r="0.65"/><circle cx="373.5" cy="418.0" r="0.65"/><circle cx="368.9" cy="420.0" r="0.65"/><circle cx="366.0" cy="418.3" r="0.65"/><circle cx="367.7" cy="419.2" r="0.65"/><circle cx="376.5" cy="419.8" r="0.65"/><circle cx="364.3" cy="420.1" r="0.65"/><circle cx="379.9" cy="416.9" r="0.65"/><circle cx="378.3" cy="415.7" r="0.65"/><circle cx="377.8" cy="417.9" r="0.65"/><circle cx="371.1" cy="418.5" r="0.65"/><circle cx="368.1" cy="419.3" r="0.65"/><circle cx="365.2" cy="417.8" r="0.65"/><circle cx="370.5" cy="420.0" r="0.65"/><circle cx="376.7" cy="414.0" r="0.65"/><circle cx="374.1" cy="417.1" r="0.65"/><circle cx="368.8" cy="421.7" r="0.65"/><circle cx="370.6" cy="417.9" r="0.65"/><circle cx="368.5" cy="420.8" r="0.65"/><circle cx="378.4" cy="417.4" r="0.65"/><circle cx="370.5" cy="421.6" r="0.65"/><circle cx="372.5" cy="417.3" r="0.65"/><circle cx="369.3" cy="421.4" r="0.65"/><circle cx="375.1" cy="420.3" r="0.65"/><circle cx="371.7" cy="414.2" r="0.65"/><circle cx="371.5" cy="419.1" r="0.65"/><circle cx="371.5" cy="418.3" r="0.65"/><circle cx="376.2" cy="420.9" r="0.65"/><circle cx="379.0" cy="419.2" r="0.65"/><circle cx="370.5" cy="414.5" r="0.65"/><circle cx="375.9" cy="415.5" r="0.65"/><circle cx="371.9" cy="418.6" r="0.65"/><circle cx="369.4" cy="418.4" r="0.65"/><circle cx="376.8" cy="417.2" r="0.65"/><circle cx="373.7" cy="419.1" r="0.65"/><circle cx="377.0" cy="418.4" r="0.65"/><circle cx="379.1" cy="418.7" r="0.65"/><circle cx="374.6" cy="421.9" r="0.65"/><circle cx="380.8" cy="417.3" r="0.65"/><circle cx="369.4" cy="417.6" r="0.65"/><circle cx="369.5" cy="416.8" r="0.65"/><circle cx="370.3" cy="422.1" r="0.65"/><circle cx="378.3" cy="420.0" r="0.65"/><circle cx="369.3" cy="419.3" r="0.65"/><circle cx="366.2" cy="418.9" r="0.65"/><circle cx="368.7" cy="416.0" r="0.65"/><circle cx="376.3" cy="417.0" r="0.65"/><circle cx="378.1" cy="419.0" r="0.65"/><circle cx="373.4" cy="420.4" r="0.65"/></g><g><circle cx="377.0" cy="420.0" r="0.72" fill="#f4a582"/><circle cx="363.1" cy="419.0" r="0.72" fill="#f4a582"/><circle cx="375.9" cy="415.5" r="0.72" fill="#f9d6bc"/></g><g fill="#eaedf2"><circle cx="388.3" cy="428.3" r="0.65"/><circle cx="382.2" cy="421.6" r="0.65"/><circle cx="379.4" cy="420.1" r="0.65"/><circle cx="382.0" cy="422.9" r="0.65"/><circle cx="388.0" cy="428.5" r="0.65"/><circle cx="385.0" cy="424.3" r="0.65"/><circle cx="382.5" cy="423.5" r="0.65"/><circle cx="385.7" cy="426.0" r="0.65"/><circle cx="388.2" cy="428.1" r="0.65"/><circle cx="386.4" cy="426.7" r="0.65"/><circle cx="381.7" cy="421.6" r="0.65"/><circle cx="384.5" cy="425.1" r="0.65"/><circle cx="386.6" cy="426.7" r="0.65"/><circle cx="384.6" cy="423.7" r="0.65"/></g><g><circle cx="382.2" cy="421.6" r="0.72" fill="#d84a22"/></g><g fill="#eaedf2"><circle cx="381.3" cy="447.4" r="0.65"/><circle cx="381.4" cy="447.9" r="0.65"/><circle cx="384.2" cy="451.1" r="0.65"/><circle cx="385.2" cy="450.7" r="0.65"/><circle cx="382.8" cy="448.2" r="0.65"/><circle cx="381.8" cy="444.7" r="0.65"/><circle cx="381.6" cy="445.5" r="0.65"/><circle cx="384.1" cy="447.7" r="0.65"/><circle cx="381.9" cy="444.8" r="0.65"/><circle cx="384.6" cy="448.8" r="0.65"/><circle cx="384.1" cy="449.8" r="0.65"/></g><g><circle cx="384.2" cy="451.1" r="0.72" fill="#f4a582"/><circle cx="382.0" cy="450.6" r="0.72" fill="#f4a582"/></g><g fill="#eaedf2"><circle cx="411.7" cy="468.6" r="0.65"/><circle cx="405.6" cy="469.0" r="0.65"/><circle cx="393.7" cy="454.3" r="0.65"/><circle cx="394.6" cy="472.1" r="0.65"/><circle cx="409.0" cy="457.9" r="0.65"/><circle cx="399.5" cy="456.5" r="0.65"/><circle cx="388.1" cy="461.9" r="0.65"/><circle cx="390.5" cy="453.9" r="0.65"/><circle cx="392.5" cy="447.6" r="0.65"/><circle cx="400.5" cy="455.5" r="0.65"/><circle cx="403.2" cy="459.1" r="0.65"/><circle cx="396.1" cy="460.0" r="0.65"/><circle cx="407.9" cy="453.2" r="0.65"/><circle cx="402.3" cy="469.8" r="0.65"/><circle cx="389.3" cy="466.5" r="0.65"/><circle cx="411.5" cy="456.9" r="0.65"/><circle cx="414.8" cy="462.4" r="0.65"/><circle cx="408.7" cy="452.4" r="0.65"/><circle cx="410.0" cy="450.1" r="0.65"/><circle cx="400.2" cy="467.5" r="0.65"/><circle cx="408.8" cy="454.4" r="0.65"/><circle cx="411.9" cy="456.4" r="0.65"/><circle cx="397.9" cy="456.4" r="0.65"/><circle cx="390.0" cy="462.2" r="0.65"/><circle cx="391.8" cy="445.3" r="0.65"/><circle cx="395.8" cy="457.1" r="0.65"/><circle cx="412.7" cy="461.0" r="0.65"/><circle cx="413.0" cy="463.5" r="0.65"/><circle cx="415.3" cy="462.4" r="0.65"/><circle cx="399.1" cy="454.9" r="0.65"/><circle cx="412.7" cy="459.0" r="0.65"/><circle cx="395.2" cy="453.7" r="0.65"/><circle cx="394.1" cy="442.3" r="0.65"/><circle cx="407.2" cy="469.5" r="0.65"/><circle cx="398.2" cy="474.5" r="0.65"/><circle cx="391.0" cy="464.7" r="0.65"/><circle cx="401.7" cy="452.9" r="0.65"/><circle cx="415.7" cy="449.5" r="0.65"/><circle cx="417.8" cy="446.4" r="0.65"/><circle cx="402.7" cy="461.4" r="0.65"/><circle cx="398.6" cy="469.4" r="0.65"/><circle cx="403.3" cy="464.8" r="0.65"/><circle cx="403.8" cy="463.5" r="0.65"/><circle cx="401.6" cy="475.4" r="0.65"/><circle cx="410.7" cy="444.2" r="0.65"/><circle cx="396.8" cy="458.8" r="0.65"/><circle cx="392.3" cy="465.1" r="0.65"/><circle cx="396.8" cy="456.7" r="0.65"/><circle cx="388.9" cy="463.5" r="0.65"/><circle cx="408.3" cy="469.4" r="0.65"/><circle cx="408.5" cy="457.5" r="0.65"/><circle cx="393.4" cy="443.8" r="0.65"/><circle cx="396.2" cy="458.6" r="0.65"/><circle cx="404.9" cy="456.7" r="0.65"/><circle cx="405.0" cy="466.8" r="0.65"/><circle cx="410.7" cy="443.2" r="0.65"/><circle cx="404.8" cy="473.4" r="0.65"/><circle cx="391.0" cy="435.0" r="0.65"/><circle cx="397.7" cy="450.3" r="0.65"/><circle cx="395.7" cy="457.1" r="0.65"/><circle cx="396.2" cy="474.8" r="0.65"/><circle cx="415.2" cy="445.0" r="0.65"/><circle cx="391.5" cy="450.1" r="0.65"/><circle cx="415.7" cy="452.0" r="0.65"/><circle cx="405.0" cy="474.7" r="0.65"/><circle cx="402.9" cy="468.7" r="0.65"/><circle cx="399.6" cy="460.3" r="0.65"/><circle cx="399.9" cy="473.7" r="0.65"/><circle cx="407.0" cy="454.1" r="0.65"/><circle cx="393.0" cy="438.8" r="0.65"/><circle cx="394.8" cy="458.5" r="0.65"/><circle cx="395.2" cy="448.4" r="0.65"/><circle cx="400.9" cy="461.9" r="0.65"/><circle cx="393.9" cy="448.7" r="0.65"/><circle cx="392.9" cy="441.5" r="0.65"/><circle cx="401.4" cy="465.7" r="0.65"/><circle cx="392.4" cy="443.4" r="0.65"/><circle cx="391.9" cy="454.1" r="0.65"/><circle cx="408.0" cy="453.3" r="0.65"/><circle cx="406.8" cy="459.1" r="0.65"/><circle cx="404.2" cy="475.3" r="0.65"/><circle cx="415.3" cy="460.4" r="0.65"/><circle cx="414.5" cy="453.3" r="0.65"/><circle cx="396.0" cy="462.2" r="0.65"/><circle cx="400.8" cy="452.1" r="0.65"/><circle cx="389.9" cy="456.0" r="0.65"/><circle cx="408.3" cy="456.0" r="0.65"/><circle cx="393.7" cy="457.7" r="0.65"/><circle cx="414.0" cy="455.6" r="0.65"/><circle cx="391.9" cy="446.3" r="0.65"/><circle cx="406.0" cy="467.5" r="0.65"/><circle cx="416.6" cy="445.1" r="0.65"/><circle cx="404.0" cy="461.8" r="0.65"/><circle cx="390.6" cy="452.5" r="0.65"/><circle cx="410.9" cy="470.0" r="0.65"/><circle cx="408.8" cy="454.7" r="0.65"/><circle cx="393.3" cy="440.1" r="0.65"/><circle cx="398.9" cy="449.4" r="0.65"/><circle cx="402.2" cy="474.6" r="0.65"/><circle cx="410.2" cy="457.4" r="0.65"/><circle cx="393.6" cy="460.1" r="0.65"/><circle cx="395.6" cy="468.9" r="0.65"/><circle cx="404.1" cy="470.8" r="0.65"/><circle cx="414.9" cy="463.9" r="0.65"/><circle cx="399.3" cy="469.8" r="0.65"/><circle cx="403.6" cy="455.4" r="0.65"/><circle cx="393.9" cy="450.1" r="0.65"/><circle cx="403.9" cy="475.5" r="0.65"/><circle cx="392.3" cy="435.1" r="0.65"/><circle cx="411.1" cy="452.8" r="0.65"/><circle cx="395.7" cy="460.5" r="0.65"/><circle cx="396.2" cy="459.3" r="0.65"/><circle cx="391.4" cy="452.4" r="0.65"/><circle cx="407.5" cy="470.8" r="0.65"/><circle cx="412.9" cy="459.1" r="0.65"/><circle cx="388.1" cy="451.4" r="0.65"/><circle cx="402.6" cy="468.5" r="0.65"/></g><g><circle cx="386.4" cy="456.8" r="0.72" fill="#c8301a"/><circle cx="390.4" cy="451.7" r="0.72" fill="#f4b48c"/><circle cx="405.0" cy="470.7" r="0.72" fill="#c8341c"/><circle cx="414.8" cy="447.2" r="0.72" fill="#f0a070"/><circle cx="407.7" cy="461.4" r="0.72" fill="#f4b48c"/><circle cx="411.7" cy="468.6" r="0.72" fill="#c8341c"/><circle cx="393.7" cy="454.3" r="0.72" fill="#f4b48c"/><circle cx="394.6" cy="472.1" r="0.72" fill="#a8140c"/><circle cx="409.0" cy="457.9" r="0.72" fill="#f4b48c"/><circle cx="409.9" cy="456.9" r="0.72" fill="#f4b48c"/><circle cx="397.4" cy="469.0" r="0.72" fill="#e0642e"/><circle cx="413.0" cy="465.7" r="0.72" fill="#d84a22"/><circle cx="388.1" cy="461.9" r="0.72" fill="#c8301a"/><circle cx="390.9" cy="466.0" r="0.72" fill="#c8301a"/><circle cx="411.7" cy="453.7" r="0.72" fill="#f4b48c"/><circle cx="396.9" cy="463.8" r="0.72" fill="#b41c10"/><circle cx="396.7" cy="440.3" r="0.72" fill="#ef8a4a"/><circle cx="405.8" cy="461.2" r="0.72" fill="#c8301a"/><circle cx="390.9" cy="460.5" r="0.72" fill="#d03c1e"/><circle cx="403.0" cy="460.0" r="0.72" fill="#f4b48c"/><circle cx="412.9" cy="460.1" r="0.72" fill="#d84a22"/><circle cx="395.0" cy="455.8" r="0.72" fill="#a8140c"/><circle cx="410.0" cy="455.2" r="0.72" fill="#d84a22"/><circle cx="388.7" cy="462.5" r="0.72" fill="#d03c1e"/><circle cx="403.2" cy="459.1" r="0.72" fill="#d84a22"/><circle cx="396.8" cy="465.3" r="0.72" fill="#d84a22"/><circle cx="411.0" cy="463.4" r="0.72" fill="#f0a070"/><circle cx="396.1" cy="460.0" r="0.72" fill="#d84a22"/><circle cx="407.9" cy="453.2" r="0.72" fill="#f4b48c"/><circle cx="387.4" cy="459.2" r="0.72" fill="#d03c1e"/><circle cx="395.0" cy="466.1" r="0.72" fill="#c8301a"/><circle cx="408.7" cy="451.2" r="0.72" fill="#f0a070"/><circle cx="389.3" cy="466.5" r="0.72" fill="#a8140c"/><circle cx="408.2" cy="457.7" r="0.72" fill="#f0a070"/><circle cx="411.9" cy="444.6" r="0.72" fill="#f0a070"/><circle cx="411.0" cy="449.2" r="0.72" fill="#f0a070"/><circle cx="385.7" cy="458.0" r="0.72" fill="#a8140c"/><circle cx="411.5" cy="456.9" r="0.72" fill="#ef8a4a"/><circle cx="388.8" cy="459.1" r="0.72" fill="#c8341c"/><circle cx="397.1" cy="462.5" r="0.72" fill="#d84a22"/><circle cx="410.3" cy="445.2" r="0.72" fill="#ef8a4a"/><circle cx="395.4" cy="455.9" r="0.72" fill="#e0642e"/><circle cx="414.8" cy="462.4" r="0.72" fill="#d84a22"/><circle cx="397.2" cy="450.8" r="0.72" fill="#c8341c"/><circle cx="408.7" cy="452.4" r="0.72" fill="#e0642e"/><circle cx="398.8" cy="459.3" r="0.72" fill="#b41c10"/><circle cx="396.3" cy="455.1" r="0.72" fill="#d84a22"/><circle cx="392.3" cy="451.8" r="0.72" fill="#a8140c"/><circle cx="403.2" cy="456.9" r="0.72" fill="#f4b48c"/><circle cx="398.2" cy="460.4" r="0.72" fill="#f0a070"/><circle cx="414.5" cy="447.0" r="0.72" fill="#f4b48c"/><circle cx="414.3" cy="459.2" r="0.72" fill="#f0a070"/><circle cx="410.0" cy="450.1" r="0.72" fill="#d84a22"/><circle cx="395.2" cy="463.2" r="0.72" fill="#a8140c"/><circle cx="403.6" cy="473.0" r="0.72" fill="#d84a22"/><circle cx="407.9" cy="472.7" r="0.72" fill="#d03c1e"/><circle cx="387.9" cy="461.0" r="0.72" fill="#c8341c"/><circle cx="394.3" cy="441.2" r="0.72" fill="#f4b48c"/><circle cx="393.4" cy="464.7" r="0.72" fill="#d03c1e"/><circle cx="411.9" cy="444.2" r="0.72" fill="#ef8a4a"/><circle cx="391.9" cy="465.8" r="0.72" fill="#d03c1e"/><circle cx="399.9" cy="471.6" r="0.72" fill="#c8301a"/><circle cx="411.9" cy="456.4" r="0.72" fill="#f4b48c"/><circle cx="397.9" cy="456.4" r="0.72" fill="#ef8a4a"/><circle cx="389.3" cy="458.4" r="0.72" fill="#b41c10"/><circle cx="393.4" cy="449.7" r="0.72" fill="#d84a22"/><circle cx="390.0" cy="462.2" r="0.72" fill="#d03c1e"/><circle cx="391.8" cy="445.3" r="0.72" fill="#ef8a4a"/><circle cx="396.6" cy="454.5" r="0.72" fill="#b41c10"/><circle cx="403.9" cy="460.3" r="0.72" fill="#ef8a4a"/><circle cx="412.2" cy="452.0" r="0.72" fill="#f0a070"/><circle cx="397.5" cy="461.0" r="0.72" fill="#d03c1e"/><circle cx="398.5" cy="470.5" r="0.72" fill="#d84a22"/><circle cx="393.1" cy="456.2" r="0.72" fill="#b41c10"/><circle cx="396.0" cy="457.2" r="0.72" fill="#b41c10"/><circle cx="415.5" cy="449.1" r="0.72" fill="#ef8a4a"/><circle cx="395.8" cy="457.1" r="0.72" fill="#d03c1e"/><circle cx="410.3" cy="456.1" r="0.72" fill="#ef8a4a"/><circle cx="410.7" cy="462.7" r="0.72" fill="#c8301a"/><circle cx="413.0" cy="463.5" r="0.72" fill="#d03c1e"/><circle cx="399.1" cy="454.9" r="0.72" fill="#d84a22"/><circle cx="400.1" cy="468.2" r="0.72" fill="#d03c1e"/><circle cx="392.7" cy="459.6" r="0.72" fill="#a8140c"/><circle cx="396.3" cy="459.6" r="0.72" fill="#d03c1e"/><circle cx="394.3" cy="437.5" r="0.72" fill="#f0a070"/><circle cx="394.1" cy="442.3" r="0.72" fill="#e0642e"/><circle cx="393.6" cy="465.6" r="0.72" fill="#a8140c"/><circle cx="412.1" cy="467.9" r="0.72" fill="#d84a22"/><circle cx="413.4" cy="460.7" r="0.72" fill="#e0642e"/><circle cx="404.9" cy="451.6" r="0.72" fill="#f4b48c"/><circle cx="412.4" cy="456.4" r="0.72" fill="#f0a070"/><circle cx="396.2" cy="454.7" r="0.72" fill="#b41c10"/><circle cx="407.2" cy="469.5" r="0.72" fill="#d03c1e"/><circle cx="398.0" cy="466.6" r="0.72" fill="#c8301a"/><circle cx="388.6" cy="455.1" r="0.72" fill="#d03c1e"/><circle cx="407.6" cy="456.4" r="0.72" fill="#f4b48c"/><circle cx="404.8" cy="456.0" r="0.72" fill="#d84a22"/><circle cx="399.2" cy="453.5" r="0.72" fill="#c8341c"/><circle cx="388.4" cy="458.9" r="0.72" fill="#c8341c"/><circle cx="392.4" cy="452.3" r="0.72" fill="#c8341c"/><circle cx="409.5" cy="463.1" r="0.72" fill="#d84a22"/><circle cx="408.7" cy="457.0" r="0.72" fill="#e0642e"/><circle cx="406.6" cy="469.2" r="0.72" fill="#d84a22"/><circle cx="401.7" cy="452.9" r="0.72" fill="#c8341c"/><circle cx="415.7" cy="449.5" r="0.72" fill="#f0a070"/><circle cx="389.4" cy="454.6" r="0.72" fill="#d03c1e"/><circle cx="411.1" cy="444.0" r="0.72" fill="#ef8a4a"/><circle cx="393.9" cy="469.3" r="0.72" fill="#b41c10"/><circle cx="392.1" cy="464.8" r="0.72" fill="#a8140c"/><circle cx="393.5" cy="450.9" r="0.72" fill="#e0642e"/><circle cx="385.0" cy="452.3" r="0.72" fill="#a8140c"/><circle cx="409.6" cy="457.0" r="0.72" fill="#ef8a4a"/><circle cx="397.6" cy="465.9" r="0.72" fill="#d84a22"/><circle cx="402.6" cy="472.2" r="0.72" fill="#a8140c"/><circle cx="412.0" cy="451.3" r="0.72" fill="#f4b48c"/><circle cx="399.4" cy="471.4" r="0.72" fill="#b41c10"/><circle cx="394.3" cy="452.7" r="0.72" fill="#c8341c"/><circle cx="402.7" cy="461.4" r="0.72" fill="#a8140c"/><circle cx="395.6" cy="460.5" r="0.72" fill="#d03c1e"/><circle cx="398.6" cy="469.4" r="0.72" fill="#b41c10"/><circle cx="403.3" cy="464.8" r="0.72" fill="#e0642e"/><circle cx="403.8" cy="463.5" r="0.72" fill="#d84a22"/><circle cx="396.6" cy="447.3" r="0.72" fill="#d84a22"/><circle cx="402.2" cy="454.0" r="0.72" fill="#e0642e"/><circle cx="388.4" cy="464.4" r="0.72" fill="#b41c10"/><circle cx="401.6" cy="475.4" r="0.72" fill="#c8301a"/><circle cx="413.7" cy="450.9" r="0.72" fill="#ef8a4a"/><circle cx="410.6" cy="453.2" r="0.72" fill="#e0642e"/><circle cx="403.6" cy="457.5" r="0.72" fill="#ef8a4a"/><circle cx="387.6" cy="457.8" r="0.72" fill="#e0642e"/><circle cx="410.7" cy="444.2" r="0.72" fill="#ef8a4a"/><circle cx="404.6" cy="467.0" r="0.72" fill="#d03c1e"/><circle cx="394.7" cy="457.3" r="0.72" fill="#c8341c"/><circle cx="410.3" cy="464.8" r="0.72" fill="#d84a22"/><circle cx="396.8" cy="458.8" r="0.72" fill="#a8140c"/><circle cx="389.1" cy="459.7" r="0.72" fill="#c8341c"/><circle cx="391.5" cy="465.1" r="0.72" fill="#d03c1e"/><circle cx="407.9" cy="466.3" r="0.72" fill="#d84a22"/><circle cx="399.0" cy="473.6" r="0.72" fill="#c8301a"/><circle cx="398.1" cy="464.1" r="0.72" fill="#e0642e"/><circle cx="413.8" cy="449.1" r="0.72" fill="#ef8a4a"/><circle cx="396.8" cy="456.7" r="0.72" fill="#c8341c"/><circle cx="392.0" cy="435.3" r="0.72" fill="#c8341c"/><circle cx="388.6" cy="461.5" r="0.72" fill="#c8341c"/><circle cx="390.4" cy="468.1" r="0.72" fill="#d03c1e"/><circle cx="388.9" cy="463.5" r="0.72" fill="#d84a22"/><circle cx="396.9" cy="457.6" r="0.72" fill="#c8341c"/><circle cx="389.7" cy="466.4" r="0.72" fill="#d03c1e"/><circle cx="408.3" cy="469.4" r="0.72" fill="#a8140c"/><circle cx="398.6" cy="452.1" r="0.72" fill="#f0a070"/><circle cx="398.6" cy="469.5" r="0.72" fill="#d84a22"/><circle cx="384.8" cy="456.4" r="0.72" fill="#d84a22"/><circle cx="393.0" cy="460.7" r="0.72" fill="#c8341c"/><circle cx="390.0" cy="467.4" r="0.72" fill="#d03c1e"/><circle cx="414.1" cy="451.4" r="0.72" fill="#f4b48c"/><circle cx="394.3" cy="437.6" r="0.72" fill="#f4b48c"/><circle cx="393.4" cy="443.8" r="0.72" fill="#ef8a4a"/><circle cx="396.2" cy="458.6" r="0.72" fill="#c8301a"/><circle cx="391.7" cy="453.4" r="0.72" fill="#b41c10"/><circle cx="404.9" cy="456.7" r="0.72" fill="#ef8a4a"/><circle cx="402.9" cy="459.0" r="0.72" fill="#c8301a"/><circle cx="405.6" cy="471.8" r="0.72" fill="#a8140c"/><circle cx="405.0" cy="466.8" r="0.72" fill="#d84a22"/><circle cx="412.6" cy="457.1" r="0.72" fill="#f4b48c"/><circle cx="400.6" cy="464.2" r="0.72" fill="#a8140c"/><circle cx="401.9" cy="474.4" r="0.72" fill="#a8140c"/><circle cx="402.0" cy="466.8" r="0.72" fill="#c8301a"/><circle cx="404.6" cy="462.6" r="0.72" fill="#e0642e"/><circle cx="391.0" cy="435.0" r="0.72" fill="#f0a070"/><circle cx="397.7" cy="450.3" r="0.72" fill="#f4b48c"/><circle cx="407.9" cy="457.9" r="0.72" fill="#c8341c"/><circle cx="393.9" cy="472.9" r="0.72" fill="#d84a22"/><circle cx="392.9" cy="446.2" r="0.72" fill="#c8301a"/><circle cx="390.7" cy="463.7" r="0.72" fill="#d03c1e"/><circle cx="388.1" cy="459.1" r="0.72" fill="#b41c10"/><circle cx="395.7" cy="457.1" r="0.72" fill="#c8341c"/><circle cx="410.6" cy="458.1" r="0.72" fill="#c8341c"/><circle cx="411.7" cy="458.0" r="0.72" fill="#c8301a"/><circle cx="385.1" cy="457.4" r="0.72" fill="#d84a22"/><circle cx="385.0" cy="453.6" r="0.72" fill="#a8140c"/><circle cx="391.5" cy="469.7" r="0.72" fill="#d03c1e"/><circle cx="413.0" cy="447.3" r="0.72" fill="#ef8a4a"/><circle cx="405.0" cy="474.7" r="0.72" fill="#d03c1e"/><circle cx="395.7" cy="461.5" r="0.72" fill="#b41c10"/><circle cx="392.1" cy="437.4" r="0.72" fill="#c8341c"/><circle cx="393.8" cy="446.0" r="0.72" fill="#ef8a4a"/><circle cx="402.9" cy="468.7" r="0.72" fill="#c8341c"/><circle cx="402.1" cy="455.4" r="0.72" fill="#c8341c"/><circle cx="396.2" cy="441.1" r="0.72" fill="#f4b48c"/><circle cx="391.4" cy="436.9" r="0.72" fill="#f0a070"/><circle cx="398.4" cy="458.1" r="0.72" fill="#b41c10"/><circle cx="399.6" cy="460.3" r="0.72" fill="#c8341c"/><circle cx="398.9" cy="467.8" r="0.72" fill="#c8341c"/><circle cx="399.0" cy="462.8" r="0.72" fill="#c8341c"/><circle cx="393.4" cy="460.2" r="0.72" fill="#c8301a"/><circle cx="393.3" cy="472.0" r="0.72" fill="#c8341c"/><circle cx="391.6" cy="460.0" r="0.72" fill="#d84a22"/><circle cx="386.1" cy="455.0" r="0.72" fill="#e0642e"/><circle cx="394.0" cy="451.1" r="0.72" fill="#d84a22"/><circle cx="405.1" cy="465.2" r="0.72" fill="#f4b48c"/><circle cx="407.4" cy="452.0" r="0.72" fill="#ef8a4a"/><circle cx="402.3" cy="458.6" r="0.72" fill="#e0642e"/><circle cx="401.0" cy="462.1" r="0.72" fill="#c8341c"/><circle cx="394.6" cy="454.7" r="0.72" fill="#f4b48c"/><circle cx="398.8" cy="451.9" r="0.72" fill="#f0a070"/><circle cx="385.4" cy="453.7" r="0.72" fill="#c8341c"/><circle cx="404.4" cy="459.5" r="0.72" fill="#d03c1e"/><circle cx="406.3" cy="466.5" r="0.72" fill="#c8341c"/><circle cx="410.6" cy="450.5" r="0.72" fill="#f0a070"/><circle cx="414.6" cy="450.1" r="0.72" fill="#ef8a4a"/><circle cx="414.7" cy="463.9" r="0.72" fill="#b41c10"/><circle cx="397.7" cy="454.1" r="0.72" fill="#e0642e"/><circle cx="385.2" cy="458.0" r="0.72" fill="#d03c1e"/><circle cx="394.8" cy="458.5" r="0.72" fill="#c8341c"/><circle cx="400.3" cy="471.2" r="0.72" fill="#a8140c"/><circle cx="395.2" cy="448.4" r="0.72" fill="#c8341c"/><circle cx="400.9" cy="461.9" r="0.72" fill="#b41c10"/><circle cx="393.9" cy="448.7" r="0.72" fill="#d03c1e"/><circle cx="392.9" cy="441.5" r="0.72" fill="#ef8a4a"/><circle cx="401.4" cy="465.7" r="0.72" fill="#e0642e"/><circle cx="392.4" cy="448.1" r="0.72" fill="#e0642e"/><circle cx="392.4" cy="443.4" r="0.72" fill="#ef8a4a"/><circle cx="391.9" cy="454.1" r="0.72" fill="#c8301a"/><circle cx="392.5" cy="465.5" r="0.72" fill="#d03c1e"/><circle cx="407.0" cy="452.6" r="0.72" fill="#ef8a4a"/><circle cx="403.7" cy="456.1" r="0.72" fill="#c8341c"/><circle cx="409.6" cy="466.8" r="0.72" fill="#d03c1e"/><circle cx="399.1" cy="466.7" r="0.72" fill="#e0642e"/><circle cx="412.6" cy="463.3" r="0.72" fill="#f0a070"/><circle cx="399.7" cy="467.1" r="0.72" fill="#e0642e"/><circle cx="412.0" cy="461.1" r="0.72" fill="#d84a22"/><circle cx="394.4" cy="465.5" r="0.72" fill="#c8341c"/><circle cx="390.5" cy="468.1" r="0.72" fill="#b41c10"/><circle cx="408.0" cy="453.3" r="0.72" fill="#e0642e"/><circle cx="404.4" cy="457.8" r="0.72" fill="#c8341c"/><circle cx="411.6" cy="468.8" r="0.72" fill="#c8301a"/><circle cx="408.4" cy="461.4" r="0.72" fill="#d84a22"/><circle cx="415.0" cy="445.1" r="0.72" fill="#f4b48c"/><circle cx="409.7" cy="466.2" r="0.72" fill="#a8140c"/><circle cx="406.8" cy="459.1" r="0.72" fill="#d03c1e"/><circle cx="392.7" cy="462.5" r="0.72" fill="#c8341c"/><circle cx="404.2" cy="475.3" r="0.72" fill="#c8301a"/><circle cx="415.3" cy="460.4" r="0.72" fill="#ef8a4a"/><circle cx="395.8" cy="461.5" r="0.72" fill="#e0642e"/><circle cx="414.5" cy="453.3" r="0.72" fill="#c8341c"/><circle cx="411.7" cy="459.2" r="0.72" fill="#f4b48c"/><circle cx="397.6" cy="449.8" r="0.72" fill="#f0a070"/><circle cx="397.4" cy="450.7" r="0.72" fill="#e0642e"/><circle cx="400.3" cy="461.0" r="0.72" fill="#f0a070"/><circle cx="387.7" cy="453.9" r="0.72" fill="#c8301a"/><circle cx="390.1" cy="459.4" r="0.72" fill="#d03c1e"/><circle cx="411.0" cy="450.7" r="0.72" fill="#ef8a4a"/><circle cx="391.4" cy="460.2" r="0.72" fill="#b41c10"/><circle cx="396.7" cy="456.6" r="0.72" fill="#c8301a"/><circle cx="396.7" cy="464.6" r="0.72" fill="#d03c1e"/><circle cx="400.8" cy="452.1" r="0.72" fill="#d03c1e"/><circle cx="408.3" cy="456.0" r="0.72" fill="#c8341c"/><circle cx="401.3" cy="462.3" r="0.72" fill="#d84a22"/><circle cx="403.7" cy="463.5" r="0.72" fill="#e0642e"/><circle cx="397.3" cy="450.5" r="0.72" fill="#f4b48c"/><circle cx="395.9" cy="443.6" r="0.72" fill="#ef8a4a"/><circle cx="393.7" cy="457.7" r="0.72" fill="#d03c1e"/><circle cx="409.3" cy="456.3" r="0.72" fill="#f4b48c"/><circle cx="415.2" cy="444.5" r="0.72" fill="#f4b48c"/><circle cx="390.1" cy="463.9" r="0.72" fill="#a8140c"/><circle cx="414.0" cy="455.6" r="0.72" fill="#e0642e"/><circle cx="399.6" cy="475.6" r="0.72" fill="#b41c10"/><circle cx="411.1" cy="442.9" r="0.72" fill="#f0a070"/><circle cx="393.5" cy="441.3" r="0.72" fill="#ef8a4a"/><circle cx="414.2" cy="449.6" r="0.72" fill="#f4b48c"/><circle cx="403.4" cy="468.5" r="0.72" fill="#c8341c"/><circle cx="413.0" cy="447.4" r="0.72" fill="#f4b48c"/><circle cx="412.7" cy="461.1" r="0.72" fill="#c8341c"/><circle cx="408.1" cy="456.8" r="0.72" fill="#c8341c"/><circle cx="395.9" cy="472.8" r="0.72" fill="#d03c1e"/><circle cx="387.1" cy="454.9" r="0.72" fill="#c8301a"/><circle cx="406.0" cy="467.5" r="0.72" fill="#c8341c"/><circle cx="391.8" cy="443.7" r="0.72" fill="#ef8a4a"/><circle cx="416.6" cy="445.1" r="0.72" fill="#f4b48c"/><circle cx="394.0" cy="452.8" r="0.72" fill="#c8341c"/><circle cx="396.9" cy="460.8" r="0.72" fill="#c8341c"/><circle cx="393.9" cy="455.6" r="0.72" fill="#e0642e"/><circle cx="395.5" cy="458.4" r="0.72" fill="#e0642e"/><circle cx="387.9" cy="460.3" r="0.72" fill="#c8301a"/><circle cx="391.3" cy="457.3" r="0.72" fill="#a8140c"/><circle cx="390.6" cy="452.5" r="0.72" fill="#a8140c"/><circle cx="393.2" cy="461.1" r="0.72" fill="#a8140c"/><circle cx="394.0" cy="455.3" r="0.72" fill="#c8301a"/><circle cx="408.8" cy="454.7" r="0.72" fill="#f0a070"/><circle cx="394.8" cy="452.6" r="0.72" fill="#f4b48c"/><circle cx="397.8" cy="462.3" r="0.72" fill="#c8301a"/><circle cx="399.0" cy="458.7" r="0.72" fill="#c8341c"/><circle cx="401.5" cy="465.8" r="0.72" fill="#a8140c"/><circle cx="411.3" cy="465.2" r="0.72" fill="#c8341c"/><circle cx="398.2" cy="455.3" r="0.72" fill="#b41c10"/><circle cx="387.6" cy="457.7" r="0.72" fill="#b41c10"/><circle cx="393.3" cy="440.1" r="0.72" fill="#d84a22"/><circle cx="409.3" cy="459.6" r="0.72" fill="#c8301a"/><circle cx="403.5" cy="471.2" r="0.72" fill="#a8140c"/><circle cx="391.6" cy="459.1" r="0.72" fill="#e0642e"/><circle cx="398.8" cy="462.9" r="0.72" fill="#c8341c"/><circle cx="400.7" cy="476.1" r="0.72" fill="#c8301a"/><circle cx="417.3" cy="449.1" r="0.72" fill="#ef8a4a"/><circle cx="415.0" cy="463.2" r="0.72" fill="#e0642e"/><circle cx="401.7" cy="455.6" r="0.72" fill="#f0a070"/><circle cx="410.2" cy="457.4" r="0.72" fill="#ef8a4a"/><circle cx="414.5" cy="447.7" r="0.72" fill="#ef8a4a"/><circle cx="400.0" cy="468.6" r="0.72" fill="#b41c10"/><circle cx="392.9" cy="449.3" r="0.72" fill="#d84a22"/><circle cx="410.4" cy="451.2" r="0.72" fill="#c8341c"/><circle cx="392.3" cy="449.9" r="0.72" fill="#c8341c"/><circle cx="393.6" cy="460.1" r="0.72" fill="#b41c10"/><circle cx="396.1" cy="454.9" r="0.72" fill="#c8341c"/><circle cx="407.3" cy="468.3" r="0.72" fill="#b41c10"/><circle cx="399.6" cy="458.5" r="0.72" fill="#f0a070"/><circle cx="395.6" cy="468.9" r="0.72" fill="#e0642e"/><circle cx="400.8" cy="461.7" r="0.72" fill="#c8301a"/><circle cx="386.0" cy="452.7" r="0.72" fill="#a8140c"/><circle cx="415.6" cy="457.2" r="0.72" fill="#f4b48c"/><circle cx="405.4" cy="466.5" r="0.72" fill="#c8341c"/><circle cx="390.0" cy="461.8" r="0.72" fill="#c8341c"/><circle cx="387.9" cy="454.7" r="0.72" fill="#c8341c"/><circle cx="393.6" cy="450.6" r="0.72" fill="#c8341c"/><circle cx="406.6" cy="460.8" r="0.72" fill="#c8341c"/><circle cx="414.9" cy="463.9" r="0.72" fill="#ef8a4a"/><circle cx="415.3" cy="459.8" r="0.72" fill="#f0a070"/><circle cx="406.3" cy="471.9" r="0.72" fill="#b41c10"/><circle cx="409.8" cy="460.8" r="0.72" fill="#c8341c"/><circle cx="408.8" cy="470.1" r="0.72" fill="#a8140c"/><circle cx="409.7" cy="444.0" r="0.72" fill="#f0a070"/><circle cx="414.7" cy="451.0" r="0.72" fill="#f4b48c"/><circle cx="413.6" cy="464.8" r="0.72" fill="#d03c1e"/><circle cx="403.6" cy="455.4" r="0.72" fill="#c8341c"/><circle cx="408.7" cy="459.3" r="0.72" fill="#d84a22"/><circle cx="399.3" cy="470.1" r="0.72" fill="#b41c10"/><circle cx="403.9" cy="475.5" r="0.72" fill="#c8301a"/><circle cx="392.4" cy="470.1" r="0.72" fill="#b41c10"/><circle cx="406.7" cy="473.3" r="0.72" fill="#a8140c"/><circle cx="394.4" cy="462.1" r="0.72" fill="#d84a22"/><circle cx="408.1" cy="469.8" r="0.72" fill="#d03c1e"/><circle cx="405.9" cy="457.2" r="0.72" fill="#f0a070"/><circle cx="390.7" cy="455.7" r="0.72" fill="#c8301a"/><circle cx="392.3" cy="469.9" r="0.72" fill="#c8301a"/><circle cx="390.4" cy="466.5" r="0.72" fill="#c8301a"/><circle cx="390.8" cy="447.9" r="0.72" fill="#f4b48c"/><circle cx="417.0" cy="447.4" r="0.72" fill="#f0a070"/><circle cx="414.7" cy="462.1" r="0.72" fill="#f4b48c"/><circle cx="390.0" cy="465.7" r="0.72" fill="#e0642e"/><circle cx="417.5" cy="446.9" r="0.72" fill="#ef8a4a"/><circle cx="393.7" cy="456.0" r="0.72" fill="#d84a22"/><circle cx="410.9" cy="446.5" r="0.72" fill="#f4b48c"/><circle cx="411.9" cy="466.5" r="0.72" fill="#b41c10"/><circle cx="404.6" cy="460.9" r="0.72" fill="#f0a070"/><circle cx="395.5" cy="474.1" r="0.72" fill="#c8301a"/><circle cx="395.7" cy="460.5" r="0.72" fill="#b41c10"/><circle cx="392.9" cy="464.7" r="0.72" fill="#a8140c"/><circle cx="393.8" cy="451.5" r="0.72" fill="#f0a070"/><circle cx="409.0" cy="469.3" r="0.72" fill="#c8341c"/><circle cx="391.4" cy="466.6" r="0.72" fill="#d03c1e"/><circle cx="407.3" cy="464.4" r="0.72" fill="#c8341c"/><circle cx="411.9" cy="443.2" r="0.72" fill="#ef8a4a"/><circle cx="396.2" cy="459.3" r="0.72" fill="#b41c10"/><circle cx="393.1" cy="467.8" r="0.72" fill="#b41c10"/><circle cx="391.4" cy="452.4" r="0.72" fill="#a8140c"/><circle cx="406.5" cy="469.0" r="0.72" fill="#c8341c"/><circle cx="412.9" cy="459.1" r="0.72" fill="#f4b48c"/><circle cx="392.2" cy="436.8" r="0.72" fill="#ef8a4a"/><circle cx="387.9" cy="450.2" r="0.72" fill="#c8341c"/><circle cx="394.2" cy="457.7" r="0.72" fill="#d84a22"/><circle cx="412.6" cy="444.8" r="0.72" fill="#f0a070"/><circle cx="390.7" cy="458.8" r="0.72" fill="#d84a22"/><circle cx="408.2" cy="456.2" r="0.72" fill="#f4b48c"/><circle cx="395.4" cy="439.6" r="0.72" fill="#ef8a4a"/><circle cx="388.1" cy="464.2" r="0.72" fill="#a8140c"/><circle cx="391.8" cy="456.0" r="0.72" fill="#d03c1e"/><circle cx="393.3" cy="454.4" r="0.72" fill="#d03c1e"/><circle cx="388.1" cy="451.4" r="0.72" fill="#c8341c"/><circle cx="402.6" cy="468.5" r="0.72" fill="#a8140c"/><circle cx="400.7" cy="452.7" r="0.72" fill="#f4b48c"/><circle cx="413.0" cy="460.1" r="0.72" fill="#f4b48c"/></g><g fill="#eaedf2"><circle cx="414.7" cy="445.0" r="0.65"/><circle cx="417.6" cy="443.7" r="0.65"/><circle cx="412.1" cy="441.7" r="0.65"/><circle cx="418.3" cy="445.3" r="0.65"/><circle cx="416.8" cy="444.5" r="0.65"/><circle cx="414.4" cy="442.7" r="0.65"/><circle cx="417.6" cy="444.2" r="0.65"/><circle cx="413.4" cy="446.7" r="0.65"/><circle cx="417.0" cy="444.3" r="0.65"/><circle cx="411.7" cy="444.7" r="0.65"/><circle cx="412.6" cy="443.0" r="0.65"/><circle cx="416.6" cy="443.7" r="0.65"/><circle cx="415.3" cy="443.3" r="0.65"/><circle cx="411.0" cy="447.0" r="0.65"/><circle cx="415.2" cy="442.3" r="0.65"/><circle cx="414.3" cy="447.4" r="0.65"/><circle cx="415.9" cy="447.7" r="0.65"/><circle cx="417.9" cy="443.1" r="0.65"/><circle cx="412.1" cy="441.9" r="0.65"/></g><g><circle cx="414.7" cy="445.0" r="0.72" fill="#ef8a4a"/><circle cx="417.6" cy="443.7" r="0.72" fill="#f4a582"/><circle cx="411.1" cy="442.4" r="0.72" fill="#f4a582"/><circle cx="412.1" cy="441.7" r="0.72" fill="#f4a582"/><circle cx="418.3" cy="445.3" r="0.72" fill="#ef8a4a"/><circle cx="416.8" cy="444.5" r="0.72" fill="#f4a582"/><circle cx="417.6" cy="444.2" r="0.72" fill="#ef8a4a"/><circle cx="413.4" cy="446.7" r="0.72" fill="#f4a582"/><circle cx="414.1" cy="444.3" r="0.72" fill="#ef8a4a"/><circle cx="417.0" cy="444.3" r="0.72" fill="#f4a582"/><circle cx="412.6" cy="443.0" r="0.72" fill="#f4a582"/><circle cx="415.3" cy="443.3" r="0.72" fill="#ef8a4a"/><circle cx="411.0" cy="447.0" r="0.72" fill="#f4a582"/><circle cx="415.2" cy="442.3" r="0.72" fill="#ef8a4a"/><circle cx="414.3" cy="447.4" r="0.72" fill="#f4a582"/><circle cx="415.4" cy="442.3" r="0.72" fill="#ef8a4a"/><circle cx="415.9" cy="447.7" r="0.72" fill="#f4a582"/><circle cx="417.9" cy="443.1" r="0.72" fill="#ef8a4a"/><circle cx="412.1" cy="441.9" r="0.72" fill="#f4a582"/></g></g>
<g filter="url(#soft2)"><g id="edges" stroke-linecap="round"><line x1="710.3" y1="125.4" x2="758.6" y2="213.1" stroke="#b7bac1" stroke-width="1.1"/><line x1="710.3" y1="125.4" x2="691.7" y2="369.7" stroke="#878d97" stroke-width="1.2"/><line x1="724.7" y1="223.8" x2="628.7" y2="236.6" stroke="#878d97" stroke-width="1.2"/><line x1="724.7" y1="223.8" x2="635.5" y2="286.5" stroke="#b7bac1" stroke-width="1.1"/><line x1="724.7" y1="223.8" x2="619.3" y2="301.1" stroke="#464d5b" stroke-width="1.25"/><line x1="724.7" y1="223.8" x2="716" y2="300.7" stroke="#464d5b" stroke-width="1.25"/><line x1="724.7" y1="223.8" x2="761.8" y2="289.5" stroke="#878d97" stroke-width="1.2"/><line x1="724.7" y1="223.8" x2="657.5" y2="328.5" stroke="#878d97" stroke-width="1.2"/><line x1="724.7" y1="223.8" x2="647.9" y2="343.2" stroke="#878d97" stroke-width="1.2"/><line x1="724.7" y1="223.8" x2="691.7" y2="369.7" stroke="#878d97" stroke-width="1.2"/><line x1="724.7" y1="223.8" x2="677.5" y2="386.2" stroke="#464d5b" stroke-width="1.25"/><line x1="758.6" y1="213.1" x2="681.9" y2="242.1" stroke="#878d97" stroke-width="1.2"/><line x1="758.6" y1="213.1" x2="771.4" y2="269.6" stroke="#b7bac1" stroke-width="1.1"/><line x1="758.6" y1="213.1" x2="619.3" y2="301.1" stroke="#b7bac1" stroke-width="1.1"/><line x1="758.6" y1="213.1" x2="716" y2="300.7" stroke="#b7bac1" stroke-width="1.1"/><line x1="758.6" y1="213.1" x2="761.8" y2="289.5" stroke="#878d97" stroke-width="1.2"/><line x1="758.6" y1="213.1" x2="790.1" y2="297.6" stroke="#b7bac1" stroke-width="1.1"/><line x1="758.6" y1="213.1" x2="692.2" y2="420.5" stroke="#b7bac1" stroke-width="1.1"/><line x1="758.6" y1="213.1" x2="493.2" y2="393.4" stroke="#b7bac1" stroke-width="1.1"/><line x1="628.7" y1="236.6" x2="681.9" y2="242.1" stroke="#878d97" stroke-width="1.2"/><line x1="628.7" y1="236.6" x2="635.5" y2="286.5" stroke="#878d97" stroke-width="1.2"/><line x1="628.7" y1="236.6" x2="619.3" y2="301.1" stroke="#878d97" stroke-width="1.2"/><line x1="628.7" y1="236.6" x2="716" y2="300.7" stroke="#b7bac1" stroke-width="1.1"/><line x1="628.7" y1="236.6" x2="761.8" y2="289.5" stroke="#b7bac1" stroke-width="1.1"/><line x1="628.7" y1="236.6" x2="790.1" y2="297.6" stroke="#b7bac1" stroke-width="1.1"/><line x1="628.7" y1="236.6" x2="692.5" y2="314" stroke="#878d97" stroke-width="1.2"/><line x1="628.7" y1="236.6" x2="657.5" y2="328.5" stroke="#464d5b" stroke-width="1.25"/><line x1="628.7" y1="236.6" x2="691.7" y2="369.7" stroke="#878d97" stroke-width="1.2"/><line x1="628.7" y1="236.6" x2="677.5" y2="386.2" stroke="#878d97" stroke-width="1.2"/><line x1="628.7" y1="236.6" x2="680.9" y2="406.8" stroke="#464d5b" stroke-width="1.25"/><line x1="627.2" y1="237.1" x2="679.4" y2="407.3" stroke="#a9adb4" stroke-width="1"/><line x1="628.7" y1="236.6" x2="756.7" y2="409.4" stroke="#878d97" stroke-width="1.2"/><line x1="681.9" y1="242.1" x2="557.3" y2="290.5" stroke="#b7bac1" stroke-width="1.1"/><line x1="681.9" y1="242.1" x2="635.5" y2="286.5" stroke="#464d5b" stroke-width="1.25"/><line x1="681.9" y1="242.1" x2="619.3" y2="301.1" stroke="#878d97" stroke-width="1.2"/><line x1="681.9" y1="242.1" x2="716" y2="300.7" stroke="#878d97" stroke-width="1.2"/><line x1="681.9" y1="242.1" x2="790.1" y2="297.6" stroke="#b7bac1" stroke-width="1.1"/><line x1="681.9" y1="242.1" x2="692.5" y2="314" stroke="#464d5b" stroke-width="1.25"/><line x1="681.9" y1="242.1" x2="657.5" y2="328.5" stroke="#464d5b" stroke-width="1.25"/><line x1="681.9" y1="242.1" x2="691.7" y2="369.7" stroke="#464d5b" stroke-width="1.25"/><line x1="681.9" y1="242.1" x2="604.6" y2="387" stroke="#878d97" stroke-width="1.2"/><line x1="681.9" y1="242.1" x2="651.2" y2="389.6" stroke="#464d5b" stroke-width="1.25"/><line x1="681.9" y1="242.1" x2="677.5" y2="386.2" stroke="#878d97" stroke-width="1.2"/><line x1="681.9" y1="242.1" x2="680.9" y2="406.8" stroke="#878d97" stroke-width="1.2"/><line x1="681.9" y1="242.1" x2="756.7" y2="409.4" stroke="#878d97" stroke-width="1.2"/><line x1="771.4" y1="269.6" x2="619.3" y2="301.1" stroke="#878d97" stroke-width="1.2"/><line x1="771.4" y1="269.6" x2="716" y2="300.7" stroke="#878d97" stroke-width="1.2"/><line x1="771.4" y1="269.6" x2="790.1" y2="297.6" stroke="#b7bac1" stroke-width="1.1"/><line x1="771.4" y1="269.6" x2="657.5" y2="328.5" stroke="#b7bac1" stroke-width="1.1"/><line x1="771.4" y1="269.6" x2="647.9" y2="343.2" stroke="#878d97" stroke-width="1.2"/><line x1="771.4" y1="269.6" x2="691.7" y2="369.7" stroke="#b7bac1" stroke-width="1.1"/><line x1="771.4" y1="269.6" x2="604.6" y2="387" stroke="#464d5b" stroke-width="1.25"/><line x1="771.4" y1="269.6" x2="680.9" y2="406.8" stroke="#878d97" stroke-width="1.2"/><line x1="771.4" y1="269.6" x2="756.7" y2="409.4" stroke="#b7bac1" stroke-width="1.1"/><line x1="557.3" y1="290.5" x2="635.5" y2="286.5" stroke="#878d97" stroke-width="1.2"/><line x1="557.3" y1="290.5" x2="619.3" y2="301.1" stroke="#878d97" stroke-width="1.2"/><line x1="557.3" y1="290.5" x2="790.1" y2="297.6" stroke="#b7bac1" stroke-width="1.1"/><line x1="557.3" y1="290.5" x2="657.5" y2="328.5" stroke="#464d5b" stroke-width="1.25"/><line x1="557.3" y1="290.5" x2="647.9" y2="343.2" stroke="#464d5b" stroke-width="1.25"/><line x1="557.3" y1="290.5" x2="604.6" y2="387" stroke="#464d5b" stroke-width="1.25"/><line x1="557.3" y1="290.5" x2="680.9" y2="406.8" stroke="#878d97" stroke-width="1.2"/><line x1="557.3" y1="290.5" x2="756.7" y2="409.4" stroke="#b7bac1" stroke-width="1.1"/><line x1="557.3" y1="290.5" x2="536.5" y2="424.9" stroke="#b7bac1" stroke-width="1.1"/><line x1="635.5" y1="286.5" x2="619.3" y2="301.1" stroke="#464d5b" stroke-width="1.25"/><line x1="635.5" y1="286.5" x2="761.8" y2="289.5" stroke="#464d5b" stroke-width="1.25"/><line x1="635.5" y1="286.5" x2="790.1" y2="297.6" stroke="#878d97" stroke-width="1.2"/><line x1="635.5" y1="286.5" x2="657.5" y2="328.5" stroke="#464d5b" stroke-width="1.25"/><line x1="635.5" y1="286.5" x2="647.9" y2="343.2" stroke="#464d5b" stroke-width="1.25"/><line x1="635.5" y1="286.5" x2="691.7" y2="369.7" stroke="#464d5b" stroke-width="1.25"/><line x1="635.5" y1="286.5" x2="604.6" y2="387" stroke="#464d5b" stroke-width="1.25"/><line x1="635.5" y1="286.5" x2="651.2" y2="389.6" stroke="#464d5b" stroke-width="1.25"/><line x1="635.5" y1="286.5" x2="677.5" y2="386.2" stroke="#878d97" stroke-width="1.2"/><line x1="635.5" y1="286.5" x2="680.9" y2="406.8" stroke="#464d5b" stroke-width="1.25"/><line x1="635.5" y1="286.5" x2="692.2" y2="420.5" stroke="#464d5b" stroke-width="1.25"/><line x1="635.5" y1="286.5" x2="756.7" y2="409.4" stroke="#878d97" stroke-width="1.2"/><line x1="635.5" y1="286.5" x2="681.1" y2="481.8" stroke="#878d97" stroke-width="1.2"/><line x1="635.5" y1="286.5" x2="644" y2="514" stroke="#878d97" stroke-width="1.2"/><line x1="619.3" y1="301.1" x2="716" y2="300.7" stroke="#464d5b" stroke-width="1.25"/><line x1="619.3" y1="301.1" x2="761.8" y2="289.5" stroke="#464d5b" stroke-width="1.25"/><line x1="619.3" y1="301.1" x2="790.1" y2="297.6" stroke="#878d97" stroke-width="1.2"/><line x1="619.3" y1="301.1" x2="657.5" y2="328.5" stroke="#464d5b" stroke-width="1.25"/><line x1="619.3" y1="301.1" x2="647.9" y2="343.2" stroke="#464d5b" stroke-width="1.25"/><line x1="619.3" y1="301.1" x2="604.6" y2="387" stroke="#464d5b" stroke-width="1.25"/><line x1="619.3" y1="301.1" x2="651.2" y2="389.6" stroke="#464d5b" stroke-width="1.25"/><line x1="619.3" y1="301.1" x2="692.2" y2="420.5" stroke="#464d5b" stroke-width="1.25"/><line x1="619.3" y1="301.1" x2="756.7" y2="409.4" stroke="#878d97" stroke-width="1.2"/><line x1="619.3" y1="301.1" x2="536.5" y2="424.9" stroke="#878d97" stroke-width="1.2"/><line x1="619.3" y1="301.1" x2="681.1" y2="481.8" stroke="#878d97" stroke-width="1.2"/><line x1="619.3" y1="301.1" x2="644" y2="514" stroke="#464d5b" stroke-width="1.25"/><line x1="716" y1="300.7" x2="692.5" y2="314" stroke="#464d5b" stroke-width="1.25"/><line x1="716" y1="300.7" x2="691.7" y2="369.7" stroke="#464d5b" stroke-width="1.25"/><line x1="716" y1="300.7" x2="604.6" y2="387" stroke="#464d5b" stroke-width="1.25"/><line x1="716" y1="300.7" x2="651.2" y2="389.6" stroke="#464d5b" stroke-width="1.25"/><line x1="716" y1="300.7" x2="677.5" y2="386.2" stroke="#464d5b" stroke-width="1.25"/><line x1="716" y1="300.7" x2="692.2" y2="420.5" stroke="#464d5b" stroke-width="1.25"/><line x1="716" y1="300.7" x2="681.1" y2="481.8" stroke="#878d97" stroke-width="1.2"/><line x1="761.8" y1="289.5" x2="790.1" y2="297.6" stroke="#878d97" stroke-width="1.2"/><line x1="761.8" y1="289.5" x2="657.5" y2="328.5" stroke="#464d5b" stroke-width="1.25"/><line x1="761.8" y1="289.5" x2="647.9" y2="343.2" stroke="#464d5b" stroke-width="1.25"/><line x1="761.8" y1="289.5" x2="691.7" y2="369.7" stroke="#878d97" stroke-width="1.2"/><line x1="761.8" y1="289.5" x2="651.2" y2="389.6" stroke="#464d5b" stroke-width="1.25"/><line x1="761.8" y1="289.5" x2="677.5" y2="386.2" stroke="#878d97" stroke-width="1.2"/><line x1="761.8" y1="289.5" x2="680.9" y2="406.8" stroke="#464d5b" stroke-width="1.25"/><line x1="790.1" y1="297.6" x2="692.5" y2="314" stroke="#878d97" stroke-width="1.2"/><line x1="790.1" y1="297.6" x2="647.9" y2="343.2" stroke="#b7bac1" stroke-width="1.1"/><line x1="790.1" y1="297.6" x2="691.7" y2="369.7" stroke="#878d97" stroke-width="1.2"/><line x1="790.1" y1="297.6" x2="604.6" y2="387" stroke="#b7bac1" stroke-width="1.1"/><line x1="789.4" y1="296.2" x2="603.9" y2="385.6" stroke="#a9adb4" stroke-width="1"/><line x1="790.1" y1="297.6" x2="651.2" y2="389.6" stroke="#878d97" stroke-width="1.2"/><line x1="790.1" y1="297.6" x2="677.5" y2="386.2" stroke="#878d97" stroke-width="1.2"/><line x1="790.1" y1="297.6" x2="680.9" y2="406.8" stroke="#b7bac1" stroke-width="1.1"/><line x1="790.1" y1="297.6" x2="692.2" y2="420.5" stroke="#b7bac1" stroke-width="1.1"/><line x1="692.5" y1="314" x2="657.5" y2="328.5" stroke="#464d5b" stroke-width="1.25"/><line x1="692.5" y1="314" x2="647.9" y2="343.2" stroke="#464d5b" stroke-width="1.25"/><line x1="692.5" y1="314" x2="691.7" y2="369.7" stroke="#464d5b" stroke-width="1.25"/><line x1="690.9" y1="314.0" x2="690.1" y2="369.7" stroke="#a9adb4" stroke-width="1"/><line x1="692.5" y1="314" x2="651.2" y2="389.6" stroke="#464d5b" stroke-width="1.25"/><line x1="692.5" y1="314" x2="677.5" y2="386.2" stroke="#464d5b" stroke-width="1.25"/><line x1="692.5" y1="314" x2="680.9" y2="406.8" stroke="#464d5b" stroke-width="1.25"/><line x1="692.5" y1="314" x2="692.2" y2="420.5" stroke="#464d5b" stroke-width="1.25"/><line x1="692.5" y1="314" x2="756.7" y2="409.4" stroke="#464d5b" stroke-width="1.25"/><line x1="692.5" y1="314" x2="536.5" y2="424.9" stroke="#878d97" stroke-width="1.2"/><line x1="692.5" y1="314" x2="681.1" y2="481.8" stroke="#878d97" stroke-width="1.2"/><line x1="692.5" y1="314" x2="644" y2="514" stroke="#464d5b" stroke-width="1.25"/><line x1="692.5" y1="314" x2="728.9" y2="570" stroke="#b7bac1" stroke-width="1.1"/><line x1="657.5" y1="328.5" x2="647.9" y2="343.2" stroke="#464d5b" stroke-width="1.25"/><line x1="656.2" y1="327.6" x2="646.6" y2="342.3" stroke="#a9adb4" stroke-width="1"/><line x1="657.5" y1="328.5" x2="604.6" y2="387" stroke="#464d5b" stroke-width="1.25"/><line x1="657.5" y1="328.5" x2="677.5" y2="386.2" stroke="#464d5b" stroke-width="1.25"/><line x1="657.5" y1="328.5" x2="680.9" y2="406.8" stroke="#464d5b" stroke-width="1.25"/><line x1="657.5" y1="328.5" x2="692.2" y2="420.5" stroke="#464d5b" stroke-width="1.25"/><line x1="657.5" y1="328.5" x2="756.7" y2="409.4" stroke="#878d97" stroke-width="1.2"/><line x1="657.5" y1="328.5" x2="681.1" y2="481.8" stroke="#464d5b" stroke-width="1.25"/><line x1="657.5" y1="328.5" x2="644" y2="514" stroke="#464d5b" stroke-width="1.25"/><line x1="657.5" y1="328.5" x2="728.9" y2="570" stroke="#b7bac1" stroke-width="1.1"/><line x1="647.9" y1="343.2" x2="691.7" y2="369.7" stroke="#464d5b" stroke-width="1.25"/><line x1="647.9" y1="343.2" x2="651.2" y2="389.6" stroke="#464d5b" stroke-width="1.25"/><line x1="647.9" y1="343.2" x2="677.5" y2="386.2" stroke="#464d5b" stroke-width="1.25"/><line x1="647.9" y1="343.2" x2="680.9" y2="406.8" stroke="#464d5b" stroke-width="1.25"/><line x1="647.9" y1="343.2" x2="756.7" y2="409.4" stroke="#878d97" stroke-width="1.2"/><line x1="647.9" y1="343.2" x2="681.1" y2="481.8" stroke="#878d97" stroke-width="1.2"/><line x1="647.9" y1="343.2" x2="644" y2="514" stroke="#464d5b" stroke-width="1.25"/><line x1="647.9" y1="343.2" x2="728.9" y2="570" stroke="#b7bac1" stroke-width="1.1"/><line x1="691.7" y1="369.7" x2="604.6" y2="387" stroke="#464d5b" stroke-width="1.25"/><line x1="691.7" y1="369.7" x2="651.2" y2="389.6" stroke="#464d5b" stroke-width="1.25"/><line x1="691.7" y1="369.7" x2="680.9" y2="406.8" stroke="#464d5b" stroke-width="1.25"/><line x1="691.7" y1="369.7" x2="692.2" y2="420.5" stroke="#464d5b" stroke-width="1.25"/><line x1="691.7" y1="369.7" x2="493.2" y2="393.4" stroke="#878d97" stroke-width="1.2"/><line x1="691.7" y1="369.7" x2="536.5" y2="424.9" stroke="#878d97" stroke-width="1.2"/><line x1="691.7" y1="369.7" x2="681.1" y2="481.8" stroke="#878d97" stroke-width="1.2"/><line x1="691.7" y1="369.7" x2="644" y2="514" stroke="#464d5b" stroke-width="1.25"/><line x1="691.7" y1="369.7" x2="728.9" y2="570" stroke="#b7bac1" stroke-width="1.1"/><line x1="604.6" y1="387" x2="677.5" y2="386.2" stroke="#464d5b" stroke-width="1.25"/><line x1="604.6" y1="387" x2="680.9" y2="406.8" stroke="#464d5b" stroke-width="1.25"/><line x1="604.6" y1="387" x2="756.7" y2="409.4" stroke="#464d5b" stroke-width="1.25"/><line x1="604.6" y1="387" x2="493.2" y2="393.4" stroke="#878d97" stroke-width="1.2"/><line x1="604.6" y1="387" x2="644" y2="514" stroke="#878d97" stroke-width="1.2"/><line x1="651.2" y1="389.6" x2="677.5" y2="386.2" stroke="#464d5b" stroke-width="1.25"/><line x1="651.2" y1="389.6" x2="680.9" y2="406.8" stroke="#464d5b" stroke-width="1.25"/><line x1="651.2" y1="389.6" x2="692.2" y2="420.5" stroke="#464d5b" stroke-width="1.25"/><line x1="651.2" y1="389.6" x2="756.7" y2="409.4" stroke="#464d5b" stroke-width="1.25"/><line x1="651.2" y1="389.6" x2="536.5" y2="424.9" stroke="#878d97" stroke-width="1.2"/><line x1="651.2" y1="389.6" x2="681.1" y2="481.8" stroke="#878d97" stroke-width="1.2"/><line x1="651.2" y1="389.6" x2="644" y2="514" stroke="#464d5b" stroke-width="1.25"/><line x1="651.2" y1="389.6" x2="728.9" y2="570" stroke="#b7bac1" stroke-width="1.1"/><line x1="677.5" y1="386.2" x2="680.9" y2="406.8" stroke="#464d5b" stroke-width="1.25"/><line x1="677.5" y1="386.2" x2="692.2" y2="420.5" stroke="#464d5b" stroke-width="1.25"/><line x1="677.5" y1="386.2" x2="493.2" y2="393.4" stroke="#b7bac1" stroke-width="1.1"/><line x1="677.5" y1="386.2" x2="536.5" y2="424.9" stroke="#878d97" stroke-width="1.2"/><line x1="677.5" y1="386.2" x2="681.1" y2="481.8" stroke="#878d97" stroke-width="1.2"/><line x1="677.5" y1="386.2" x2="728.9" y2="570" stroke="#b7bac1" stroke-width="1.1"/><line x1="680.9" y1="406.8" x2="644" y2="514" stroke="#878d97" stroke-width="1.2"/><line x1="680.9" y1="406.8" x2="728.9" y2="570" stroke="#b7bac1" stroke-width="1.1"/><line x1="692.2" y1="420.5" x2="756.7" y2="409.4" stroke="#878d97" stroke-width="1.2"/><line x1="692.2" y1="420.5" x2="728.9" y2="570" stroke="#b7bac1" stroke-width="1.1"/><line x1="756.7" y1="409.4" x2="493.2" y2="393.4" stroke="#b7bac1" stroke-width="1.1"/><line x1="756.7" y1="409.4" x2="681.1" y2="481.8" stroke="#878d97" stroke-width="1.2"/><line x1="681.1" y1="481.8" x2="644" y2="514" stroke="#878d97" stroke-width="1.2"/></g>
<g id="nodes"><circle cx="710.3" cy="125.4" r="12.1" fill="url(#gG)" stroke="#8cb44a" stroke-width="1"/><ellipse cx="710.3" cy="117.60000000000001" rx="8.5" ry="3.6" fill="url(#hl)"/><circle cx="724.7" cy="223.8" r="12.1" fill="url(#gC)" stroke="#44a6d0" stroke-width="1"/><ellipse cx="724.7" cy="216.0" rx="8.5" ry="3.6" fill="url(#hl)"/><circle cx="758.6" cy="213.1" r="12.1" fill="url(#gG)" stroke="#8cb44a" stroke-width="1"/><ellipse cx="758.6" cy="205.29999999999998" rx="8.5" ry="3.6" fill="url(#hl)"/><circle cx="628.7" cy="236.6" r="12.1" fill="url(#gP)" stroke="#6c54a0" stroke-width="1"/><ellipse cx="628.7" cy="228.79999999999998" rx="8.5" ry="3.6" fill="url(#hl)"/><circle cx="681.9" cy="242.1" r="12.1" fill="url(#gR)" stroke="#b44a4a" stroke-width="1"/><ellipse cx="681.9" cy="234.29999999999998" rx="8.5" ry="3.6" fill="url(#hl)"/><circle cx="771.4" cy="269.6" r="12.1" fill="url(#gO)" stroke="#c47c3c" stroke-width="1"/><ellipse cx="771.4" cy="261.8" rx="8.5" ry="3.6" fill="url(#hl)"/><circle cx="761.8" cy="289.5" r="12.1" fill="url(#gG)" stroke="#8cb44a" stroke-width="1"/><ellipse cx="761.8" cy="281.7" rx="8.5" ry="3.6" fill="url(#hl)"/><circle cx="557.3" cy="290.5" r="12.1" fill="url(#gP)" stroke="#6c54a0" stroke-width="1"/><ellipse cx="557.3" cy="282.7" rx="8.5" ry="3.6" fill="url(#hl)"/><circle cx="635.5" cy="286.5" r="12.1" fill="url(#gR)" stroke="#b44a4a" stroke-width="1"/><ellipse cx="635.5" cy="278.7" rx="8.5" ry="3.6" fill="url(#hl)"/><circle cx="619.3" cy="301.1" r="12.1" fill="url(#gB)" stroke="#3562b0" stroke-width="1"/><ellipse cx="619.3" cy="293.3" rx="8.5" ry="3.6" fill="url(#hl)"/><circle cx="716" cy="300.7" r="12.1" fill="url(#gB)" stroke="#3562b0" stroke-width="1"/><ellipse cx="716" cy="292.9" rx="8.5" ry="3.6" fill="url(#hl)"/><circle cx="790.1" cy="297.6" r="12.1" fill="url(#gB)" stroke="#3562b0" stroke-width="1"/><ellipse cx="790.1" cy="289.8" rx="8.5" ry="3.6" fill="url(#hl)"/><circle cx="692.5" cy="314" r="12.1" fill="url(#gG)" stroke="#8cb44a" stroke-width="1"/><ellipse cx="692.5" cy="306.2" rx="8.5" ry="3.6" fill="url(#hl)"/><circle cx="647.9" cy="343.2" r="12.1" fill="url(#gB)" stroke="#3562b0" stroke-width="1"/><ellipse cx="647.9" cy="335.4" rx="8.5" ry="3.6" fill="url(#hl)"/><circle cx="657.5" cy="328.5" r="12.1" fill="url(#gG)" stroke="#8cb44a" stroke-width="1"/><ellipse cx="657.5" cy="320.7" rx="8.5" ry="3.6" fill="url(#hl)"/><circle cx="604.6" cy="387" r="12.1" fill="url(#gB)" stroke="#3562b0" stroke-width="1"/><ellipse cx="604.6" cy="379.2" rx="8.5" ry="3.6" fill="url(#hl)"/><circle cx="651.2" cy="389.6" r="12.1" fill="url(#gB)" stroke="#3562b0" stroke-width="1"/><ellipse cx="651.2" cy="381.8" rx="8.5" ry="3.6" fill="url(#hl)"/><circle cx="677.5" cy="386.2" r="12.1" fill="url(#gP)" stroke="#6c54a0" stroke-width="1"/><ellipse cx="677.5" cy="378.4" rx="8.5" ry="3.6" fill="url(#hl)"/><circle cx="691.7" cy="369.7" r="12.1" fill="url(#gG)" stroke="#8cb44a" stroke-width="1"/><ellipse cx="691.7" cy="361.9" rx="8.5" ry="3.6" fill="url(#hl)"/><circle cx="680.9" cy="406.8" r="12.1" fill="url(#gR)" stroke="#b44a4a" stroke-width="1"/><ellipse cx="680.9" cy="399.0" rx="8.5" ry="3.6" fill="url(#hl)"/><circle cx="692.2" cy="420.5" r="12.1" fill="url(#gP)" stroke="#6c54a0" stroke-width="1"/><ellipse cx="692.2" cy="412.7" rx="8.5" ry="3.6" fill="url(#hl)"/><circle cx="756.7" cy="409.4" r="12.1" fill="url(#gP)" stroke="#6c54a0" stroke-width="1"/><ellipse cx="756.7" cy="401.59999999999997" rx="8.5" ry="3.6" fill="url(#hl)"/><circle cx="493.2" cy="393.4" r="12.1" fill="url(#gO)" stroke="#c47c3c" stroke-width="1"/><ellipse cx="493.2" cy="385.59999999999997" rx="8.5" ry="3.6" fill="url(#hl)"/><circle cx="536.5" cy="424.9" r="12.1" fill="url(#gG)" stroke="#8cb44a" stroke-width="1"/><ellipse cx="536.5" cy="417.09999999999997" rx="8.5" ry="3.6" fill="url(#hl)"/><circle cx="681.1" cy="481.8" r="12.1" fill="url(#gO)" stroke="#c47c3c" stroke-width="1"/><ellipse cx="681.1" cy="474.0" rx="8.5" ry="3.6" fill="url(#hl)"/><circle cx="644" cy="514" r="12.1" fill="url(#gG)" stroke="#8cb44a" stroke-width="1"/><ellipse cx="644" cy="506.2" rx="8.5" ry="3.6" fill="url(#hl)"/><circle cx="728.9" cy="570" r="12.1" fill="url(#gO)" stroke="#c47c3c" stroke-width="1"/><ellipse cx="728.9" cy="562.2" rx="8.5" ry="3.6" fill="url(#hl)"/></g></g>
<g id="chart"><line x1="942" y1="389.9" x2="1217.5" y2="389.9" stroke="#ebebeb" stroke-width="1"/><line x1="942" y1="341.1" x2="1217.5" y2="341.1" stroke="#ebebeb" stroke-width="1"/><line x1="942" y1="292.4" x2="1217.5" y2="292.4" stroke="#ebebeb" stroke-width="1"/><line x1="942" y1="243.6" x2="1217.5" y2="243.6" stroke="#ebebeb" stroke-width="1"/><line x1="995.7" y1="218" x2="995.7" y2="453" stroke="#ebebeb" stroke-width="1"/><line x1="1049.5" y1="218" x2="1049.5" y2="453" stroke="#ebebeb" stroke-width="1"/><line x1="1103.3" y1="218" x2="1103.3" y2="453" stroke="#ebebeb" stroke-width="1"/><line x1="1157.1" y1="218" x2="1157.1" y2="453" stroke="#ebebeb" stroke-width="1"/><line x1="1210.9" y1="218" x2="1210.9" y2="453" stroke="#ebebeb" stroke-width="1"/><line x1="941.9" y1="218.4" x2="941.9" y2="453.1" stroke="#8a8a8a" stroke-width="1.6"/><line x1="924.2" y1="438.7" x2="1217.5" y2="438.7" stroke="#8a8a8a" stroke-width="1.6"/><text x="924.3" y="442.6" text-anchor="end" font-size="11" fill="#555" textLength="7" lengthAdjust="spacingAndGlyphs">0</text><text x="924.3" y="393.8" text-anchor="end" font-size="11" fill="#555" textLength="21.8" lengthAdjust="spacingAndGlyphs">0.02</text><text x="924.3" y="345.0" text-anchor="end" font-size="11" fill="#555" textLength="21.8" lengthAdjust="spacingAndGlyphs">0.04</text><text x="924.3" y="296.3" text-anchor="end" font-size="11" fill="#555" textLength="21.8" lengthAdjust="spacingAndGlyphs">0.06</text><text x="924.3" y="247.5" text-anchor="end" font-size="11" fill="#555" textLength="21.8" lengthAdjust="spacingAndGlyphs">0.08</text><text x="941.9" y="464.5" text-anchor="middle" font-size="11" fill="#555" textLength="7" lengthAdjust="spacingAndGlyphs">0</text><text x="995.7" y="464.5" text-anchor="middle" font-size="11" fill="#555" textLength="7" lengthAdjust="spacingAndGlyphs">5</text><text x="1049.5" y="464.5" text-anchor="middle" font-size="11" fill="#555" textLength="12.2" lengthAdjust="spacingAndGlyphs">10</text><text x="1103.3" y="464.5" text-anchor="middle" font-size="11" fill="#555" textLength="12.2" lengthAdjust="spacingAndGlyphs">15</text><text x="1157.1" y="464.5" text-anchor="middle" font-size="11" fill="#555" textLength="12.2" lengthAdjust="spacingAndGlyphs">20</text><text x="1210.9" y="464.5" text-anchor="middle" font-size="11" fill="#555" textLength="12.2" lengthAdjust="spacingAndGlyphs">25</text><text transform="translate(895,335.6) rotate(-90)" text-anchor="middle" font-size="11" fill="#555" textLength="127" lengthAdjust="spacingAndGlyphs">BetweennessCentrality</text><text x="1050.6" y="495.5" font-size="11" fill="#555" textLength="40.5" lengthAdjust="spacingAndGlyphs">Degree</text><circle cx="941.9" cy="438.7" r="2.25" fill="#1f74b0"/><circle cx="974.2" cy="438.7" r="2.25" fill="#1f74b0"/><circle cx="995.7" cy="436.6" r="2.25" fill="#1f74b0"/><circle cx="1006.5" cy="438.7" r="2.25" fill="#1f74b0"/><circle cx="1028.0" cy="424.9" r="2.25" fill="#1f74b0"/><circle cx="1028.0" cy="438.7" r="2.25" fill="#1f74b0"/><circle cx="1049.5" cy="420.6" r="2.25" fill="#1f74b0"/><circle cx="1060.3" cy="429.2" r="2.25" fill="#1f74b0"/><circle cx="1060.3" cy="433.1" r="2.25" fill="#1f74b0"/><circle cx="1071.0" cy="435.7" r="2.25" fill="#1f74b0"/><circle cx="1081.8" cy="428.3" r="2.25" fill="#1f74b0"/><circle cx="1092.5" cy="410.7" r="2.25" fill="#1f74b0"/><circle cx="1092.5" cy="424.1" r="2.25" fill="#1f74b0"/><circle cx="1092.5" cy="426.5" r="2.25" fill="#1f74b0"/><circle cx="1103.3" cy="421.0" r="2.25" fill="#1f74b0"/><circle cx="1124.8" cy="401.1" r="2.25" fill="#1f74b0"/><circle cx="1124.8" cy="419.3" r="2.25" fill="#1f74b0"/><circle cx="1135.6" cy="393.3" r="2.25" fill="#1f74b0"/><circle cx="1135.6" cy="411.5" r="2.25" fill="#1f74b0"/><circle cx="1146.3" cy="370.9" r="2.25" fill="#1f74b0"/><circle cx="1157.1" cy="347.7" r="2.25" fill="#1f74b0"/><circle cx="1157.1" cy="368.0" r="2.25" fill="#1f74b0"/><circle cx="1167.9" cy="342.1" r="2.25" fill="#1f74b0"/><circle cx="1167.9" cy="366.3" r="2.25" fill="#1f74b0"/><circle cx="1178.6" cy="320.9" r="2.25" fill="#1f74b0"/><circle cx="1189.4" cy="249.2" r="2.25" fill="#1f74b0"/><circle cx="1200.1" cy="232.8" r="2.25" fill="#1f74b0"/><ellipse cx="1194" cy="242.6" rx="38.7" ry="34.2" fill="none" stroke="#d7191c" stroke-width="2.2" stroke-dasharray="7.5 5"/></g>
<text x="549" y="637.2" font-size="23.5" font-weight="bold" fill="#000" textLength="197" lengthAdjust="spacingAndGlyphs">Network Analysis</text>
<text x="967" y="636.8" font-size="23.5" font-weight="bold" fill="#000" textLength="208" lengthAdjust="spacingAndGlyphs">Topology Analysis</text>
</svg>
</body></html>
